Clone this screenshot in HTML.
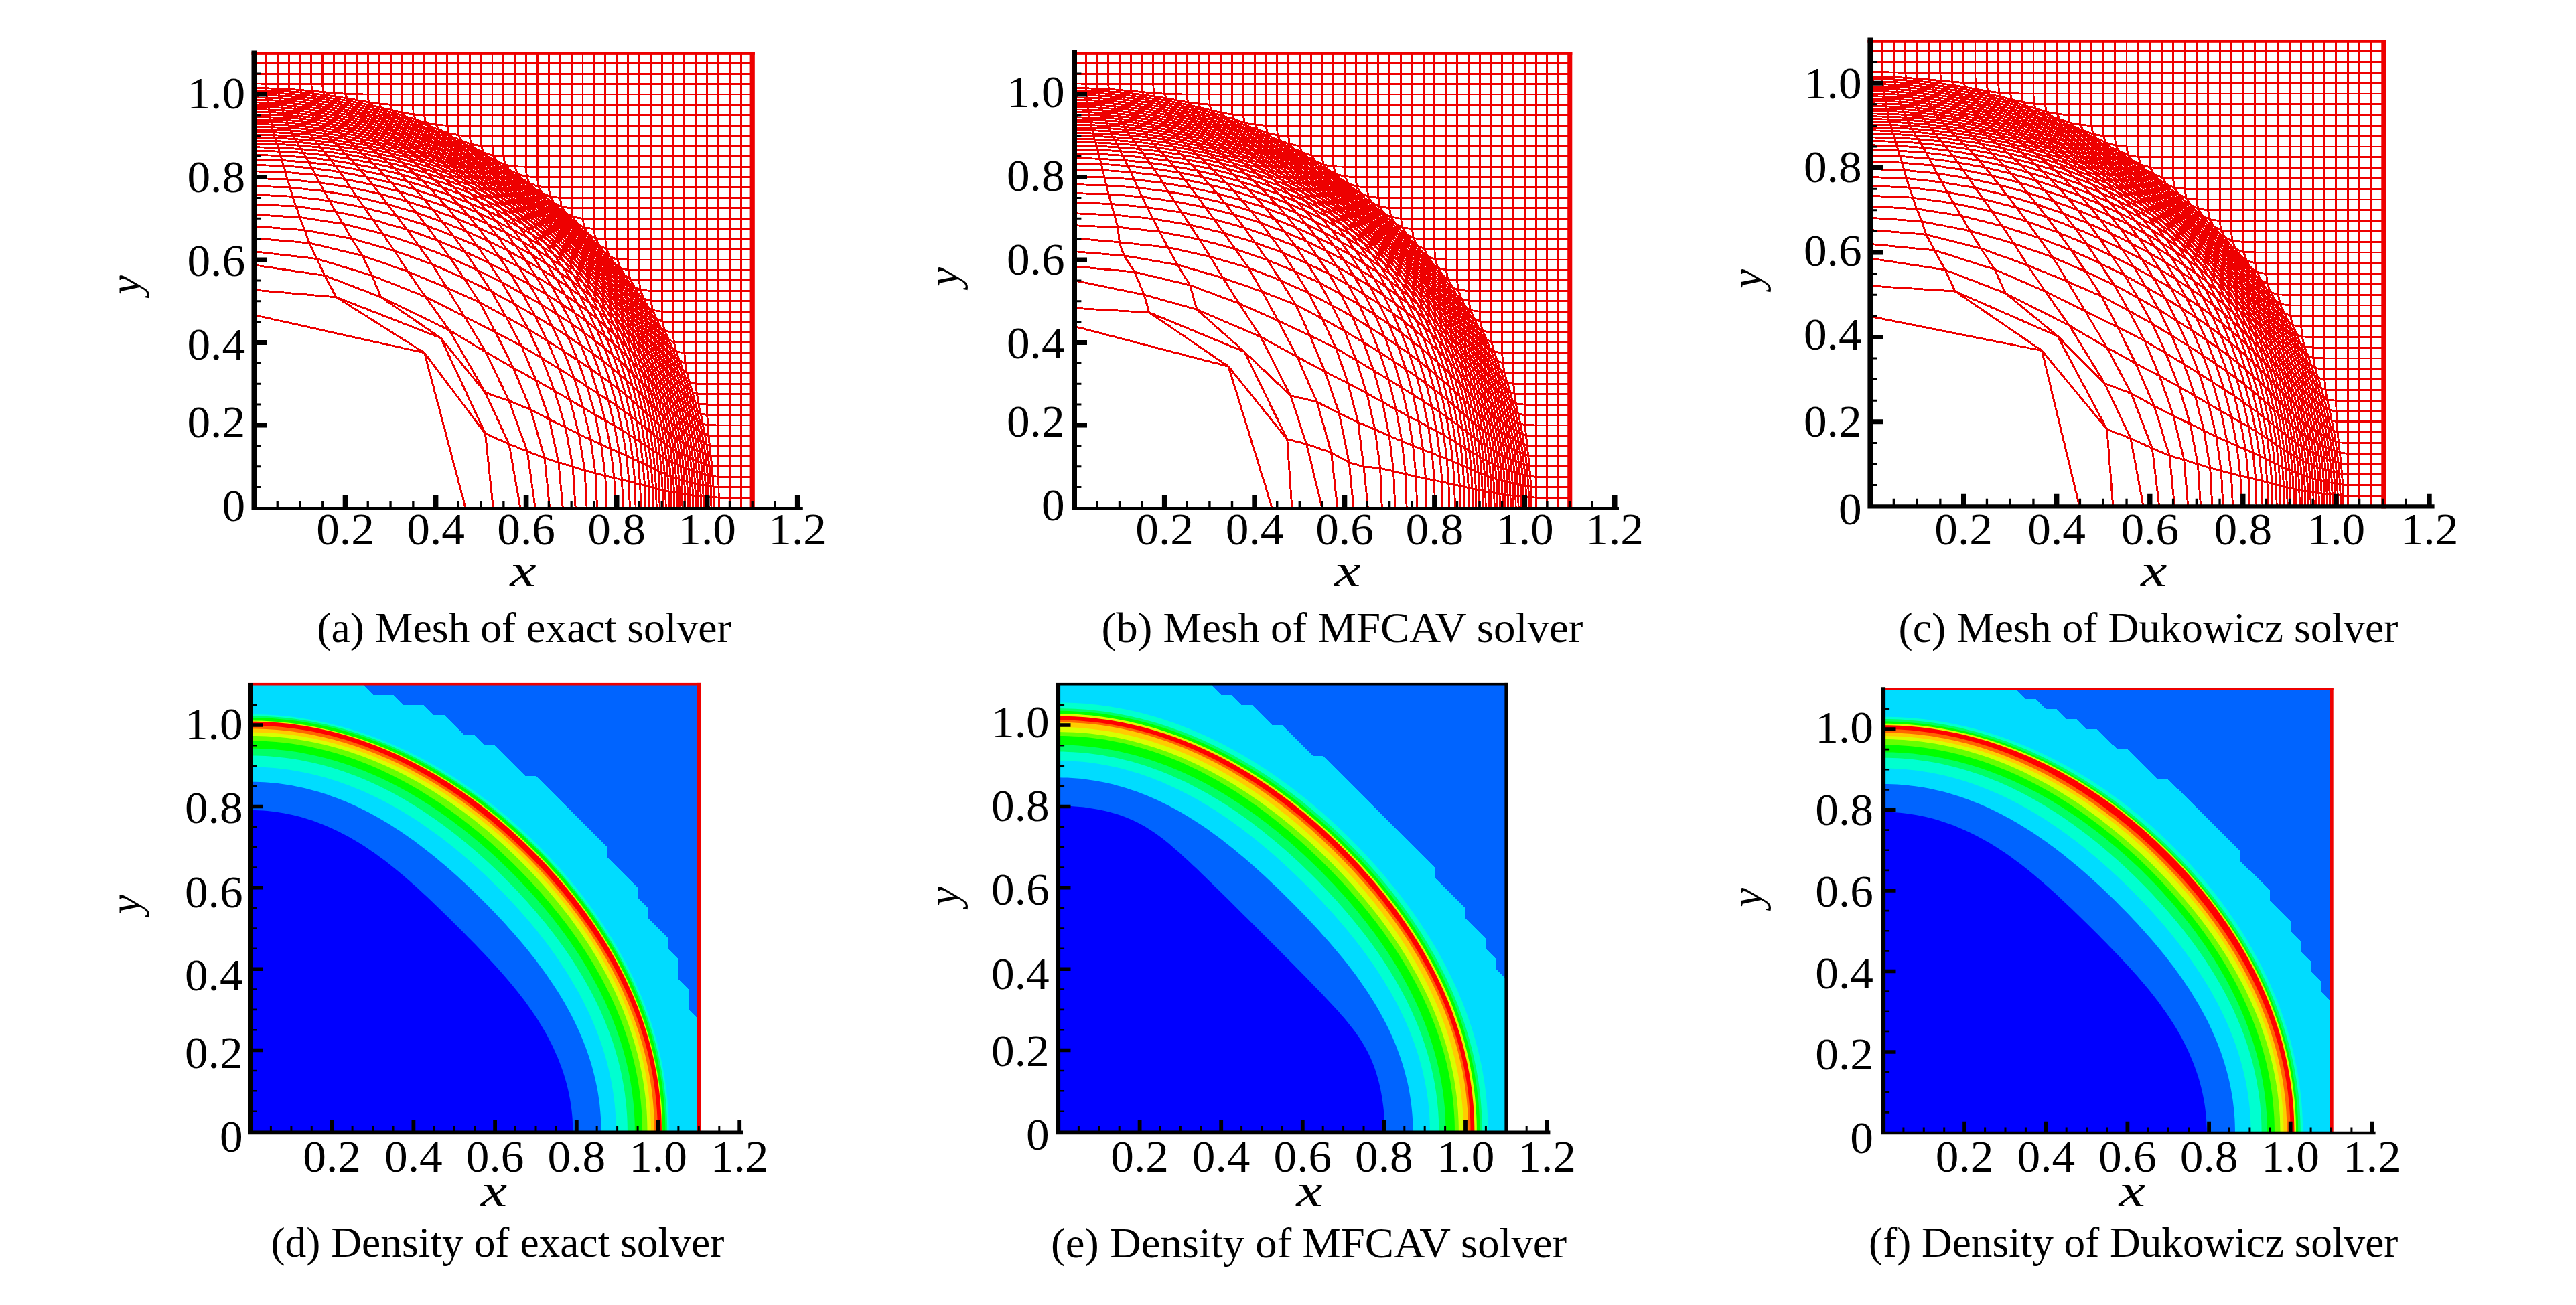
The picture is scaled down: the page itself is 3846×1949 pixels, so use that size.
<!DOCTYPE html>
<html lang="en"><head><meta charset="utf-8"><title>Sedov problem: meshes and density</title>
<style>html,body{margin:0;padding:0;background:#fff}body{width:3846px;height:1949px;overflow:hidden}svg{display:block}.t{font-family:"Liberation Serif","DejaVu Serif",serif;font-size:68.0px;fill:#000}.c{font-family:"Liberation Serif","DejaVu Serif",serif;font-size:64.0px;fill:#000}.i{font-family:"Liberation Serif","DejaVu Serif",serif;font-style:italic;font-size:64.6px;fill:#000}.ix{font-family:"Liberation Serif","DejaVu Serif",serif;font-style:italic;font-size:68.0px;fill:#000}</style></head><body>
<svg width="3846" height="1949" viewBox="0 0 3846 1949">
<rect width="3846" height="1949" fill="#fff"/>
<path d="M695 758.5L633.7 526.9L502 443.9L484.8 411.5L472.9 386.5L461.9 363L454.8 343.8L447.7 324.4L441.8 308.1L436.9 293.3L432.8 280L429.2 268L426.2 257.2L423.5 247.7L421 239.5L418.8 232.4L416.9 226.1L415.1 220.5L413.5 215.3L412 210.6L410.7 206.1L409.5 201.8L408.4 197.7L407.4 193.7L406.4 189.8L405.5 186L404.7 182.3L404 178.6L403.3 174.9L402.6 171.2L402 167.6L401.5 164L400.9 160.4L400.4 156.8L400 153.2L399.5 149.7L399.1 146.1L398.7 142.5L398.3 139L398 135.4L397.6 131.8L397.4 125.1L397.4 110.1L397.4 79.2M736.3 758.5L724.5 647.4L658 504.7L568.9 443.9L555.4 411.5L540.8 381.7L525 356.4L512.1 334.4L501.1 316.1L491.8 299.9L483.9 285.5L477.1 272.7L471.1 261.2L465.8 251.1L461.1 242.6L456.8 235.1L452.9 228.5L449.4 222.6L446.3 217.2L443.4 212.2L440.7 207.6L438.3 203.2L436.1 198.9L434.1 194.9L432.2 190.9L430.5 187L428.9 183.2L427.4 179.5L426 175.8L424.7 172.1L423.5 168.4L422.4 164.8L421.3 161.1L420.3 157.5L419.4 153.9L418.5 150.3L417.7 146.7L416.9 143.1L416.1 139.5L415.4 135.9L414.7 132.4L414.3 125.2L414.3 110.1L414.3 79.2M776.8 758.5L760 663.1L724.5 586.2L670.8 493L635.2 443.4L609.1 405.7L588.8 374.6L571.5 349.2L556.6 328.1L543.8 310L532.8 294L523.2 280L514.7 267.5L507.1 256.7L500.2 247.5L494 239.4L488.4 232.3L483.3 225.9L474.4 214.9L470.5 210L466.9 205.4L463.6 201L460.6 196.8L457.8 192.7L455.3 188.8L452.9 184.9L450.7 181L448.6 177.2L446.7 173.5L444.9 169.7L443.2 166L441.6 162.3L440.1 158.7L438.7 155L437.4 151.4L436.2 147.7L435 144.1L433.8 140.5L432.8 136.9L431.8 133.3L431.2 125.4L431.1 110.1L431.1 79.2M799.1 758.5L787.2 674L760 598.6L725.1 525.6L693.2 472.5L667.1 429.7L645 394.5L624.8 366.6L607.5 342.9L592.3 322.5L578.8 305L567 289.5L556.4 275.9L546.8 264.2L538.1 254L530.2 245.2L522.9 237.4L516.3 230.5L510.3 224.3L504.8 218.6L499.7 213.4L495 208.6L490.7 204L486.8 199.6L483.1 195.3L479.8 191.2L476.6 187.1L473.7 183.2L471 179.2L468.4 175.4L466.1 171.6L463.8 167.8L461.8 164L459.8 160.3L457.9 156.6L456.2 152.9L454.5 149.2L453 145.5L451.5 141.8L450.1 138.2L448.7 134.5L448 125.5L448 110.1L448 79.2M820.7 758.5L813 684L792.5 611.9L766.3 549.4L740 496.4L716.1 451.6L692.7 415.6L672 384.9L653.2 359.2L636.5 336.9L621.5 317.6L608 300.7L595.8 285.9L584.6 273.1L574.4 262L565 252.2L556.4 243.8L548.5 236.2L541.2 229.4L534.5 223.3L528.3 217.8L522.6 212.6L517.4 207.7L512.5 203L508.1 198.5L503.9 194.2L500 190L496.4 185.9L493.1 181.8L490 177.9L487 173.9L484.3 170L481.7 166.2L479.3 162.3L477 158.5L474.8 154.8L472.8 151L470.8 147.3L469 143.5L467.2 139.8L465.6 136L464.9 125.6L464.9 79.2M840.3 758.5L833.9 690.6L820.1 626.3L800.3 568L778.5 516.6L755.4 473L733.8 435.4L713 403.7L694.1 376L676.6 352.3L660.7 331.4L646.1 313.1L632.7 297.2L620.4 283.1L608.9 271.1L598.3 260.5L588.5 251.2L579.5 242.9L571.1 235.6L563.3 229L556.2 222.9L549.6 217.4L543.4 212.2L537.8 207.2L532.5 202.5L527.6 197.9L523.1 193.5L518.8 189.2L514.9 185L511.2 180.8L507.7 176.8L504.5 172.8L501.4 168.8L498.5 164.8L495.8 160.9L493.2 157.1L490.8 153.2L488.5 149.4L486.3 145.6L484.2 141.8L482.3 137.6L481.8 125.6L481.8 79.2M859.2 758.5L855.2 697L844.2 638.1L828 583.8L809 535L789 491.9L768.5 454.4L749.1 421.4L730.2 393L712.8 367.7L696.4 345.7L681.3 326.2L667.1 309.2L653.8 294.2L641.5 281L629.9 269.7L619.2 259.5L609.2 250.5L599.9 242.6L591.2 235.4L583.2 228.9L575.7 223L568.8 217.4L562.3 212.1L556.4 207L550.8 202.2L545.6 197.6L540.8 193.1L536.3 188.6L532 184.3L528.1 180.1L524.3 175.9L520.8 171.8L517.5 167.8L514.4 163.8L511.4 159.8L508.6 155.8L506 151.9L503.5 148L501.1 144.2L499 139.1L498.7 125.6L498.7 79.2M876.1 758.5L873 702.4L864.2 648.2L851.1 597.4L834.9 550.9L817.1 509.1L798.8 471.7L780.2 438.7L762.4 409.2L745.1 383.3L729 360.1L713.5 339.8L698.9 321.7L685.1 305.8L672.1 291.9L659.8 279.5L648.4 268.5L637.6 258.9L627.4 250.4L618 242.7L609.2 235.7L601 229.2L593.3 223.2L586.2 217.6L579.6 212.2L573.4 207.1L567.7 202.2L562.3 197.4L557.2 192.8L552.5 188.3L548 183.9L543.9 179.6L539.9 175.3L536.2 171.1L532.7 167L529.4 162.9L526.2 158.8L523.2 154.8L520.4 150.8L517.7 146.8L515.7 140.2L515.5 125.6L515.5 79.2M891.6 758.5L889.1 706.9L881.9 656.7L870.9 609.1L857.2 564.8L841.5 524.4L824.7 487.7L807.8 454.6L790.7 425L774.4 398.3L758.2 374.7L743 353.3L728.1 334.6L714.1 317.8L700.6 303.1L687.9 289.9L675.9 278.3L664.4 268L653.7 258.9L643.6 250.6L634.1 243.1L625.3 236.2L617 229.7L609.3 223.7L602.1 218L595.4 212.6L589.1 207.3L583.2 202.3L577.7 197.5L572.5 192.7L567.6 188.1L563 183.6L558.7 179.2L554.6 174.8L550.7 170.5L547 166.3L543.5 162.1L540.2 158L537.1 153.9L534.1 149.8L532.4 140.9L532.4 125.6L532.4 79.2M905.8 758.5L903.7 710.7L897.7 664L888.4 619.2L876.4 577.1L862.6 538.1L847.5 502.2L831.8 469.6L816.1 439.8L800.2 413L784.9 388.7L769.6 367.1L755 347.5L740.7 330.2L727.2 314.6L714.2 300.8L701.7 288.6L689.8 277.7L678.5 267.9L667.9 259.1L657.9 251.1L648.6 243.7L631.6 230.3L623.9 224.3L616.7 218.5L609.9 213L603.6 207.7L597.6 202.5L592 197.6L586.7 192.8L581.7 188L577 183.4L572.5 178.9L568.3 174.5L564.3 170.1L560.5 165.8L556.9 161.5L553.5 157.3L550.3 152.8L549.3 141L549.3 79.2M918.6 758.5L916.9 713.9L911.7 670.2L903.7 628L893.3 588L881.1 550.4L867.5 515.6L853.2 483.4L838.3 454L823.5 427L808.5 402.7L794 380.4L779.3 360.6L765.3 342.6L751.7 326.4L738.5 312.1L725.7 299.3L713.5 287.8L701.9 277.5L690.9 268.1L680.6 259.6L670.8 251.7L661.6 244.3L653 237.5L644.9 231L637.2 224.9L630.1 219L623.3 213.4L617 208L611 202.8L605.3 197.8L600 192.8L594.9 188L590.1 183.3L585.6 178.7L581.3 174.2L577.2 169.7L573.3 165.3L569.6 161L566.6 155L566.2 141L566.2 79.2M930.1 758.5L928.6 716.7L924.3 675.6L917.4 635.8L908.2 597.6L897.3 561.6L884.9 527.8L871.8 496.4L858.1 467.3L844 440.6L830 416L815.6 393.8L801.6 373.4L787.8 355L774.2 338.4L760.9 323.6L748 310.3L735.7 298.3L723.9 287.4L712.6 277.5L702 268.5L691.9 260.1L682.4 252.3L673.4 245L665 238.1L657 231.7L649.5 225.5L642.4 219.6L635.7 213.9L629.4 208.4L623.4 203.1L617.8 198L612.4 193L607.3 188.1L602.5 183.3L597.9 178.6L593.6 174L589.4 169.4L585.5 164.9L583.1 156.2L583.1 141L583.1 79.2M940.4 758.5L939.1 719.2L935.3 680.4L929.1 642.7L921 606.4L911.2 571.8L900.3 539.1L888.1 508.5L875.5 479.9L862.3 453.4L848.8 429.1L835.3 406.6L821.7 386L808.2 367.4L794.7 350.5L781.5 335.3L768.7 321.5L756.3 309L744.4 297.6L733.1 287.2L722.3 277.7L712 268.8L702.2 260.6L693 252.9L676 238.8L668.2 232.3L660.8 226L653.8 220.1L647.2 214.3L641 208.8L635 203.4L629.4 198.2L624 193.1L619 188.1L614.1 183.3L609.5 178.5L605.1 173.8L601.1 168.7L599.9 156.4L599.9 79.2M949.1 758.5L948 721.4L944.7 684.8L939.3 649L932.1 614.4L923.4 581.2L913.4 549.6L902.6 519.8L890.7 491.9L878.4 465.8L865.9 441.4L853 419L839.8 398.4L826.6 379.7L813.4 362.6L800.5 347L787.8 332.8L775.5 319.8L763.6 308L752.2 297.1L741.3 287.1L730.9 277.8L721 269.1L711.6 261L702.7 253.4L694.2 246.2L686.2 239.3L678.6 232.8L671.3 226.5L664.5 220.5L658 214.7L651.8 209.1L645.9 203.7L640.3 198.4L635 193.2L629.9 188.2L625.1 183.2L620.5 178.4L617.1 171.1L616.8 156.4L616.8 79.2M956.7 758.5L955.7 723.4L952.8 688.7L948.1 654.7L941.8 621.6L934.1 589.7L925 559.3L915 530.4L904.3 503L892.9 477.3L881 453.4L868.6 431.1L856 410.6L843.2 391.7L830.5 374.4L817.8 358.5L805.4 344L793.3 330.7L781.5 318.4L770.2 307.1L759.3 296.6L748.8 286.9L738.8 277.8L729.3 269.3L720.3 261.4L711.6 253.8L703.4 246.6L695.6 239.8L688.2 233.2L681.1 227L674.4 220.9L668 215.1L661.9 209.4L656.1 203.9L650.6 198.6L645.3 193.3L640.3 188.2L635.6 183.1L633.7 171.9L633.7 79.2M963.5 758.5L962.6 725.2L960 692.2L955.9 659.8L950.2 628.2L943.3 597.7L935.2 568.3L926.2 540.2L916.3 513.5L905.6 488.4L894.4 464.8L882.6 442.8L870.6 422.4L858.3 403.5L846 386L833.7 369.9L821.6 355.1L809.7 341.4L798.2 328.8L786.9 317.1L776.1 306.2L765.7 296.1L755.7 286.7L746.1 277.8L737 269.5L728.2 261.6L719.9 254.1L712 247L704.4 240.1L697.2 233.6L690.3 227.3L683.7 221.2L677.5 215.3L671.5 209.6L665.8 204.1L660.3 198.7L655.1 193.4L651.1 186.2L650.6 171.9L650.6 79.2M969.5 758.5L968.8 726.9L966.5 695.4L962.8 664.5L957.8 634.3L951.6 604.9L944.3 576.5L936 549.3L926.8 523.4L916.8 498.8L906.2 475.7L895.2 453.9L883.7 433.7L872 414.8L860.1 397.3L848.3 381L836.6 365.9L825 352L813.7 339.1L802.6 327L791.9 315.8L781.6 305.4L771.6 295.6L762.1 286.4L752.9 277.7L744.1 269.5L735.7 261.7L720 247.2L712.6 240.4L705.6 233.8L698.9 227.5L692.5 221.4L686.3 215.5L680.5 209.8L674.9 204.2L669.6 198.6L667.5 187.3L667.5 79.2M975.1 758.5L974.4 728.3L972.4 698.4L969.1 668.8L964.6 639.8L959 611.5L952.3 584.2L944.6 557.9L936.1 532.7L926.8 508.7L916.9 486L906.4 464.6L895.6 444.5L884.4 425.7L873.1 408.1L861.7 391.8L850.4 376.5L839.1 362.4L828.1 349.2L817.3 336.8L806.8 325.3L796.6 314.6L786.7 304.5L777.2 294.9L768 286L759.2 277.5L750.8 269.4L742.7 261.7L734.9 254.3L727.5 247.3L720.3 240.5L713.5 234L707 227.7L700.7 221.6L694.8 215.6L689 209.9L684.8 201.9L684.3 187.3L684.3 79.2M980.2 758.5L979.6 729.7L977.8 701L974.9 672.7L970.8 644.8L965.7 617.7L959.5 591.3L952.4 565.8L944.5 541.3L935.9 517.9L926.5 495.7L916.7 474.6L906.4 454.7L895.8 436.1L885 418.5L874.1 402.1L863.2 386.8L852.3 372.4L841.6 359L831 346.5L820.7 334.7L810.7 323.7L800.9 313.3L791.5 303.5L782.4 294.2L773.6 285.4L765.2 277.1L757 269.1L749.2 261.5L741.7 254.3L734.5 247.3L727.6 240.5L721 234L714.7 227.7L708.6 221.6L703 215.2L701.2 202.7L701.2 79.2M985.1 758.5L984.6 730.9L982.9 703.4L980.2 676.2L976.5 649.5L971.8 623.3L966.1 597.8L959.5 573.2L952.2 549.4L944.1 526.6L935.3 504.8L926.1 484.1L916.3 464.5L906.3 446L896 428.5L885.5 412.1L875 396.7L864.5 382.2L854.1 368.7L843.9 355.9L833.8 343.9L824 332.6L814.4 322L805.1 312L796.1 302.4L787.3 293.4L778.9 284.8L770.8 276.6L763 268.8L755.4 261.3L748.2 254.1L741.2 247.1L734.6 240.4L728.1 233.9L721.9 227.6L718.3 217.9L718.1 202.7L718.1 79.2M989.7 758.5L989.2 732L987.7 705.6L985.3 679.5L981.8 653.8L977.4 628.5L972.2 603.9L966.1 580L959.2 556.9L951.6 534.6L943.4 513.3L934.7 493L925.5 473.7L916 455.4L906.1 438L896.2 421.7L886.1 406.2L876 391.7L865.9 378L856 365.1L846.1 352.9L836.5 341.4L827.1 330.6L818 320.3L809 310.6L800.4 301.3L792 292.5L784 284.1L776.1 276.1L768.6 268.3L754.4 253.8L747.6 246.9L741.1 240.2L735.9 232.2L735 218.2L735 79.2M994.2 758.5L993.7 733L992.3 707.6L990 682.5L986.9 657.7L982.8 633.3L977.9 609.5L972.2 586.3L965.8 563.9L958.7 542.2L951 521.4L942.7 501.4L934 482.4L925 464.3L915.6 447.1L906.1 430.8L896.4 415.4L886.7 400.8L877 387L867.3 374L857.8 361.7L848.4 350L839.2 339L830.2 328.6L821.4 318.6L812.9 309.2L804.6 300.1L796.5 291.5L788.8 283.3L781.3 275.4L774 267.8L760.2 253.4L754 246.1L751.9 233.6L751.9 79.2M998.5 758.5L998.1 733.9L996.8 709.5L994.7 685.2L991.7 661.3L987.9 637.7L983.3 614.7L978 592.2L972 570.4L965.3 549.2L958 528.9L950.2 509.3L942 490.6L933.4 472.7L924.5 455.7L915.4 439.5L906.1 424.1L896.7 409.5L887.4 395.7L878 382.6L868.8 370.2L859.6 358.4L850.6 347.3L841.8 336.6L833.2 326.5L824.7 316.9L816.6 307.7L808.6 298.9L800.9 290.5L793.4 282.4L786.2 274.6L772.4 259.9L768.9 248.9L768.7 233.6L768.7 79.2M1002.7 758.5L1002.3 734.8L1001.1 711.2L999.1 687.8L996.3 664.6L992.8 641.8L988.5 619.5L983.5 597.7L977.8 576.4L971.5 555.8L964.7 535.9L957.3 516.7L949.5 498.3L941.3 480.7L932.8 463.8L924.1 447.8L915.2 432.5L906.2 417.9L897.2 404.1L888.2 391L879.2 378.5L870.3 366.6L861.5 355.3L852.8 344.5L844.4 334.3L836.1 324.5L828 315.1L820.2 306.2L812.5 297.6L805.1 289.3L797.9 281.4L790.9 273.7L786.2 263.8L785.6 249.1L785.6 79.2M1006.9 758.5L1006.5 735.6L1005.4 712.8L1003.5 690.1L1000.9 667.7L997.5 645.6L993.5 624L988.8 602.7L983.4 582.1L977.5 562L971 542.5L964 523.7L956.6 505.6L948.8 488.2L940.7 471.6L932.4 455.7L923.8 440.5L915.2 426L906.5 412.1L897.8 399L889 386.4L880.4 374.5L871.8 363.1L863.4 352.2L855.1 341.8L846.9 331.9L839 322.4L831.2 313.3L823.7 304.6L816.3 296.2L809.1 288.1L803.6 278.7L802.5 264.5L802.5 79.2M1010.9 758.5L1010.6 736.3L1009.5 714.2L1007.7 692.3L1005.3 670.6L1002.1 649.2L998.3 628.1L993.8 607.5L988.8 587.3L983.2 567.7L977 548.7L970.4 530.3L963.3 512.5L955.9 495.4L948.2 478.9L940.2 463.2L932 448.1L923.7 433.7L915.3 419.9L906.9 406.7L898.4 394.1L890 382.1L881.7 370.7L873.4 359.7L865.3 349.2L857.3 339.2L849.5 329.6L841.8 320.3L834.4 311.5L827.1 303L821 293.7L819.4 279.9L819.4 79.2M1015 758.5L1014.6 737L1013.6 715.6L1011.9 694.3L1009.6 673.3L1006.6 652.5L1003 632L998.8 611.9L994 592.3L988.6 573.1L982.8 554.5L976.5 536.4L969.8 519L962.7 502.1L955.3 485.9L947.7 470.3L939.8 455.4L931.8 441L923.7 427.3L915.6 414.1L907.4 401.6L899.2 389.5L891.1 378L883.1 367L875.1 356.4L867.3 346.3L859.6 336.6L852.1 327.2L844.7 318.3L838.3 308.8L836.3 295.4L836.3 79.2M1019 758.5L1018.7 737.7L1017.7 716.9L1016.1 696.2L1013.9 675.7L1011 655.5L1007.6 635.6L1003.6 616L999 596.9L994 578.2L988.4 559.9L982.4 542.2L976 525.1L969.2 508.5L962.2 492.5L954.8 477.1L947.3 462.3L939.6 448.1L931.8 434.4L923.9 421.3L916 408.7L908 396.7L900.1 385.1L892.3 374L884.5 363.4L876.8 353.2L869.3 343.4L861.9 334L855.3 324.2L853.1 310.8L853.1 79.2M1022.9 758.5L1022.6 738.2L1021.7 718.1L1020.2 698L1018.1 678.1L1015.4 658.4L1012.1 639L1008.3 619.9L1004 601.2L999.1 582.9L993.8 565.1L988.1 547.7L982 530.9L975.5 514.6L968.7 498.8L961.7 483.6L954.5 468.9L947 454.8L939.5 441.2L931.9 428.1L924.2 415.6L916.5 403.6L908.8 392L901.1 380.9L893.5 370.2L886 360L878.6 350.1L872.2 339.9L870 326.3L870 79.2M1026.9 758.5L1026.6 738.8L1025.7 719.2L1024.3 699.6L1022.3 680.2L1019.7 661.1L1016.6 642.2L1012.9 623.5L1008.8 605.3L1004.2 587.4L999.1 569.9L993.6 552.9L987.8 536.4L981.6 520.3L975.1 504.7L968.3 489.7L961.3 475.2L954.2 461.2L946.9 447.7L939.5 434.7L932.1 422.2L924.6 410.2L917.1 398.6L909.6 387.5L902.2 376.8L894.9 366.5L888.7 355.7L886.9 341.7L886.9 79.2M1030.8 758.5L1030.6 739.3L1029.7 720.2L1028.3 701.2L1026.4 682.3L1024 663.6L1021 645.1L1017.5 627L1013.5 609.1L1009.1 591.6L1004.3 574.5L999 557.8L993.4 541.5L987.4 525.7L981.2 510.4L974.7 495.6L968 481.2L961.1 467.3L954 453.9L946.9 441L939.7 428.6L932.4 416.6L925.1 405L917.8 393.9L910.6 383.2L905.1 371.6L903.8 357.1L903.8 79.2M1034.8 758.5L1034.5 739.8L1033.7 721.2L1032.4 702.6L1030.5 684.2L1028.2 665.9L1025.3 647.9L1022 630.2L1018.2 612.7L1014 595.6L1009.3 578.8L1004.3 562.4L998.9 546.4L993.2 530.9L987.2 515.8L980.9 501.1L974.4 486.9L967.7 473.2L960.9 459.9L954 447.1L947 434.7L939.9 422.8L932.8 411.2L925.7 400.1L921.4 387.5L920.7 372.6L920.7 79.2M1038.7 758.5L1038.4 740.3L1037.6 722.1L1036.4 704L1034.6 686L1032.4 668.2L1029.6 650.6L1026.4 633.2L1022.8 616.1L1018.7 599.3L1014.3 582.9L1009.4 566.8L1004.2 551.1L998.7 535.8L992.9 520.9L986.9 506.4L980.7 492.4L974.2 478.8L967.6 465.6L960.9 452.9L954.1 440.6L947.2 428.7L940.8 416.9L937.7 403.3L937.5 388L937.5 79.2M1042.6 758.5L1042.3 740.7L1041.6 722.9L1040.4 705.3L1038.7 687.7L1036.5 670.3L1033.9 653L1030.8 636.1L1027.3 619.3L1023.4 602.9L1019.1 586.7L1014.5 570.9L1009.5 555.5L1004.2 540.4L998.6 525.7L992.8 511.5L986.7 497.6L980.5 484.1L974.1 471.1L967.6 458.5L961 446.2L956 433.4L954.4 418.9L954.4 79.2M1046.5 758.5L1046.2 741.1L1045.5 723.7L1044.4 706.5L1042.7 689.3L1040.6 672.3L1038.1 655.4L1035.2 638.8L1031.8 622.4L1028 606.2L1023.9 590.4L1019.4 574.9L1014.6 559.7L1009.5 544.8L1004.1 530.4L998.5 516.3L992.6 502.6L986.6 489.3L980.4 476.3L974.6 463.5L971.6 449.6L971.3 434.3L971.3 79.2M1050.4 758.5L1050.1 741.5L1049.5 724.5L1048.3 707.6L1046.8 690.8L1044.8 674.1L1042.3 657.6L1039.5 641.3L1036.2 625.2L1032.6 609.4L1028.6 593.8L1024.3 578.6L1019.7 563.7L1014.7 549L1009.5 534.8L1004.1 520.9L998.4 507.3L992.7 494.1L989.1 480.2L988.2 465.2L988.2 79.2M1054.3 758.5L1054 741.9L1053.4 725.2L1052.3 708.7L1050.8 692.2L1048.9 675.9L1046.5 659.7L1043.8 643.7L1040.6 628L1037.1 612.4L1033.3 597.1L1029.1 582.1L1024.6 567.4L1019.8 553.1L1014.8 539L1009.7 525.2L1006.3 511L1005.1 496.1L1005.1 79.2M1058.1 758.5L1057.9 742.2L1057.3 725.9L1056.3 709.7L1054.8 693.6L1052.9 677.6L1050.7 661.7L1048 646L1045 630.6L1041.6 615.3L1037.9 600.3L1033.9 585.5L1029.5 571.1L1025.4 556.7L1022.8 542.1L1021.9 526.9L1021.9 79.2M1062 758.5L1061.8 742.5L1061.2 726.6L1060.2 710.7L1058.8 694.9L1057 679.2L1054.8 663.6L1052.2 648.2L1049.3 633L1046.1 618L1042.8 603.2L1040.4 588.3L1039 573.2L1038.8 557.8L1038.8 79.2M1065.9 758.5L1065.7 742.8L1065.1 727.2L1064.2 711.6L1062.8 696.1L1061.1 680.7L1059.4 665.4L1057.8 650.1L1056.5 634.8L1055.8 619.5L1055.7 604.1L1055.7 79.2M1073.2 758.5L1073.1 743.1L1073 727.6L1072.8 712.2L1072.6 696.7L1072.6 681.3L1072.6 79.2M1089.5 758.5L1089.5 79.2M1106.3 758.5L1106.3 79.2M380.5 470.8L633.7 526.9L724.5 647.4L760 663.1L787.2 674L813 684L833.9 690.6L855.2 697L873 702.4L889.1 706.9L903.7 710.7L916.9 713.9L928.6 716.7L939.1 719.2L948 721.4L955.7 723.4L962.6 725.2L968.8 726.9L974.4 728.3L979.6 729.7L984.6 730.9L989.2 732L993.7 733L998.1 733.9L1002.3 734.8L1006.5 735.6L1010.6 736.3L1014.6 737L1018.7 737.7L1022.6 738.2L1026.6 738.8L1030.6 739.3L1034.5 739.8L1038.4 740.3L1042.3 740.7L1046.2 741.1L1050.1 741.5L1054 741.9L1057.9 742.2L1061.8 742.5L1065.7 742.8L1073.1 743.1L1089.5 743.1L1123.2 743.1M380.5 433.1L502 443.9L658 504.7L724.5 586.2L760 598.6L792.5 611.9L820.1 626.3L844.2 638.1L864.2 648.2L881.9 656.7L897.7 664L911.7 670.2L924.3 675.6L935.3 680.4L944.7 684.8L952.8 688.7L960 692.2L966.5 695.4L972.4 698.4L977.8 701L982.9 703.4L987.7 705.6L992.3 707.6L996.8 709.5L1001.1 711.2L1005.4 712.8L1009.5 714.2L1013.6 715.6L1017.7 716.9L1021.7 718.1L1025.7 719.2L1029.7 720.2L1033.7 721.2L1037.6 722.1L1041.6 722.9L1045.5 723.7L1049.5 724.5L1053.4 725.2L1057.3 725.9L1061.2 726.6L1065.1 727.2L1073 727.6L1089.5 727.6L1123.2 727.6M380.5 396L484.8 411.5L568.9 443.9L670.8 493L725.1 525.6L766.3 549.4L800.3 568L828 583.8L851.1 597.4L870.9 609.1L888.4 619.2L903.7 628L917.4 635.8L929.1 642.7L939.3 649L948.1 654.7L955.9 659.8L962.8 664.5L974.9 672.7L980.2 676.2L985.3 679.5L990 682.5L994.7 685.2L999.1 687.8L1003.5 690.1L1007.7 692.3L1011.9 694.3L1016.1 696.2L1020.2 698L1024.3 699.6L1028.3 701.2L1032.4 702.6L1036.4 704L1040.4 705.3L1044.4 706.5L1048.3 707.6L1052.3 708.7L1056.3 709.7L1060.2 710.7L1064.2 711.6L1072.8 712.2L1089.5 712.2L1123.2 712.2M380.5 375.7L472.9 386.5L555.4 411.5L635.2 443.4L693.2 472.5L740 496.4L778.5 516.6L809 535L834.9 550.9L857.2 564.8L876.4 577.1L893.3 588L908.2 597.6L921 606.4L932.1 614.4L941.8 621.6L950.2 628.2L957.8 634.3L964.6 639.8L970.8 644.8L976.5 649.5L981.8 653.8L986.9 657.7L991.7 661.3L996.3 664.6L1000.9 667.7L1005.3 670.6L1009.6 673.3L1013.9 675.7L1018.1 678.1L1022.3 680.2L1026.4 682.3L1030.5 684.2L1034.6 686L1038.7 687.7L1042.7 689.3L1046.8 690.8L1050.8 692.2L1054.8 693.6L1058.8 694.9L1062.8 696.1L1072.6 696.7L1089.5 696.8L1123.2 696.8M380.5 355.9L461.9 363L540.8 381.7L609.1 405.7L667.1 429.7L716.1 451.6L755.4 473L789 491.9L817.1 509.1L841.5 524.4L862.6 538.1L881.1 550.4L897.3 561.6L911.2 571.8L923.4 581.2L934.1 589.7L943.3 597.7L951.6 604.9L959 611.5L965.7 617.7L971.8 623.3L977.4 628.5L982.8 633.3L987.9 637.7L992.8 641.8L997.5 645.6L1002.1 649.2L1006.6 652.5L1011 655.5L1015.4 658.4L1019.7 661.1L1024 663.6L1028.2 665.9L1032.4 668.2L1036.5 670.3L1040.6 672.3L1044.8 674.1L1048.9 675.9L1052.9 677.6L1057 679.2L1061.1 680.7L1072.6 681.3L1123.2 681.3M380.5 338L454.8 343.8L525 356.4L588.8 374.6L645 394.5L692.7 415.6L733.8 435.4L768.5 454.4L798.8 471.7L824.7 487.7L847.5 502.2L867.5 515.6L884.9 527.8L900.3 539.1L913.4 549.6L925 559.3L935.2 568.3L944.3 576.5L952.3 584.2L959.5 591.3L966.1 597.8L972.2 603.9L977.9 609.5L983.3 614.7L988.5 619.5L993.5 624L998.3 628.1L1003 632L1007.6 635.6L1012.1 639L1016.6 642.2L1021 645.1L1025.3 647.9L1029.6 650.6L1033.9 653L1038.1 655.4L1042.3 657.6L1046.5 659.7L1050.7 661.7L1054.8 663.6L1059.4 665.4L1072.6 665.9L1123.2 665.9M380.5 320.7L447.7 324.4L512.1 334.4L571.5 349.2L624.8 366.6L672 384.9L713 403.7L749.1 421.4L780.2 438.7L807.8 454.6L831.8 469.6L853.2 483.4L871.8 496.4L888.1 508.5L902.6 519.8L915 530.4L926.2 540.2L936 549.3L944.6 557.9L952.4 565.8L959.5 573.2L966.1 580L972.2 586.3L978 592.2L983.5 597.7L988.8 602.7L993.8 607.5L998.8 611.9L1003.6 616L1008.3 619.9L1012.9 623.5L1017.5 627L1022 630.2L1026.4 633.2L1030.8 636.1L1035.2 638.8L1039.5 641.3L1043.8 643.7L1048 646L1052.2 648.2L1057.8 650.1L1072.6 650.4L1123.2 650.4M380.5 305.3L441.8 308.1L501.1 316.1L556.6 328.1L607.5 342.9L653.2 359.2L694.1 376L730.2 393L762.4 409.2L790.7 425L816.1 439.8L838.3 454L858.1 467.3L875.5 479.9L890.7 491.9L904.3 503L916.3 513.5L926.8 523.4L936.1 532.7L944.5 541.3L952.2 549.4L959.2 556.9L965.8 563.9L972 570.4L977.8 576.4L983.4 582.1L988.8 587.3L994 592.3L999 596.9L1004 601.2L1008.8 605.3L1013.5 609.1L1018.2 612.7L1022.8 616.1L1027.3 619.3L1031.8 622.4L1036.2 625.2L1040.6 628L1045 630.6L1049.3 633L1056.5 634.8L1072.6 635L1123.2 635M380.5 291.1L436.9 293.3L491.8 299.9L543.8 310L592.3 322.5L636.5 336.9L676.6 352.3L712.8 367.7L745.1 383.3L774.4 398.3L800.2 413L823.5 427L844 440.6L862.3 453.4L878.4 465.8L892.9 477.3L905.6 488.4L916.8 498.8L926.8 508.7L935.9 517.9L944.1 526.6L951.6 534.6L958.7 542.2L965.3 549.2L971.5 555.8L977.5 562L983.2 567.7L988.6 573.1L994 578.2L999.1 582.9L1004.2 587.4L1009.1 591.6L1014 595.6L1018.7 599.3L1023.4 602.9L1028 606.2L1032.6 609.4L1037.1 612.4L1041.6 615.3L1046.1 618L1055.8 619.5L1072.6 619.6L1123.2 619.6M380.5 278.1L432.8 280L483.9 285.5L532.8 294L578.8 305L621.5 317.6L660.7 331.4L696.4 345.7L729 360.1L758.2 374.7L784.9 388.7L808.5 402.7L830 416L848.8 429.1L865.9 441.4L881 453.4L894.4 464.8L906.2 475.7L916.9 486L926.5 495.7L935.3 504.8L943.4 513.3L958 528.9L964.7 535.9L971 542.5L977 548.7L982.8 554.5L988.4 559.9L993.8 565.1L999.1 569.9L1004.3 574.5L1009.3 578.8L1014.3 582.9L1019.1 586.7L1023.9 590.4L1028.6 593.8L1033.3 597.1L1037.9 600.3L1042.8 603.2L1055.7 604.1L1123.2 604.1M380.5 266.4L429.2 268L477.1 272.7L523.2 280L567 289.5L608 300.7L646.1 313.1L681.3 326.2L713.5 339.8L743 353.3L769.6 367.1L794 380.4L815.6 393.8L835.3 406.6L853 419L868.6 431.1L882.6 442.8L895.2 453.9L906.4 464.6L916.7 474.6L926.1 484.1L934.7 493L942.7 501.4L950.2 509.3L957.3 516.7L964 523.7L970.4 530.3L976.5 536.4L982.4 542.2L988.1 547.7L993.6 552.9L999 557.8L1004.3 562.4L1009.4 566.8L1014.5 570.9L1019.4 574.9L1024.3 578.6L1029.1 582.1L1033.9 585.5L1040.4 588.3L1055.7 588.7L1123.2 588.7M380.5 255.9L426.2 257.2L471.1 261.2L514.7 267.5L556.4 275.9L595.8 285.9L632.7 297.2L667.1 309.2L698.9 321.7L728.1 334.6L755 347.5L779.3 360.6L801.6 373.4L821.7 386L839.8 398.4L856 410.6L870.6 422.4L883.7 433.7L895.6 444.5L906.4 454.7L916.3 464.5L925.5 473.7L934 482.4L942 490.6L949.5 498.3L956.6 505.6L963.3 512.5L969.8 519L976 525.1L982 530.9L987.8 536.4L993.4 541.5L998.9 546.4L1004.2 551.1L1009.5 555.5L1014.6 559.7L1019.7 563.7L1024.6 567.4L1029.5 571.1L1039 573.2L1055.7 573.3L1123.2 573.2M380.5 246.5L423.5 247.7L465.8 251.1L507.1 256.7L546.8 264.2L584.6 273.1L620.4 283.1L653.8 294.2L685.1 305.8L714.1 317.8L740.7 330.2L765.3 342.6L787.8 355L808.2 367.4L826.6 379.7L843.2 391.7L858.3 403.5L872 414.8L884.4 425.7L895.8 436.1L906.3 446L916 455.4L925 464.3L933.4 472.7L948.8 488.2L955.9 495.4L962.7 502.1L969.2 508.5L975.5 514.6L981.6 520.3L987.4 525.7L993.2 530.9L998.7 535.8L1004.2 540.4L1009.5 544.8L1014.7 549L1019.8 553.1L1025.4 556.7L1038.8 557.8L1123.2 557.8M380.5 238.5L421 239.5L461.1 242.6L500.2 247.5L538.1 254L574.4 262L608.9 271.1L641.5 281L672.1 291.9L700.6 303.1L727.2 314.6L751.7 326.4L774.2 338.4L794.7 350.5L813.4 362.6L830.5 374.4L846 386L860.1 397.3L873.1 408.1L885 418.5L896 428.5L906.1 438L915.6 447.1L924.5 455.7L932.8 463.8L940.7 471.6L948.2 478.9L955.3 485.9L962.2 492.5L968.7 498.8L975.1 504.7L981.2 510.4L987.2 515.8L992.9 520.9L998.6 525.7L1004.1 530.4L1009.5 534.8L1014.8 539L1022.8 542.1L1038.8 542.4L1123.2 542.4M380.5 231.5L418.8 232.4L456.8 235.1L494 239.4L530.2 245.2L565 252.2L598.3 260.5L629.9 269.7L659.8 279.5L687.9 289.9L714.2 300.8L738.5 312.1L760.9 323.6L781.5 335.3L800.5 347L817.8 358.5L833.7 369.9L848.3 381L861.7 391.8L874.1 402.1L885.5 412.1L896.2 421.7L906.1 430.8L915.4 439.5L924.1 447.8L932.4 455.7L940.2 463.2L947.7 470.3L954.8 477.1L961.7 483.6L968.3 489.7L974.7 495.6L980.9 501.1L986.9 506.4L992.8 511.5L998.5 516.3L1004.1 520.9L1009.7 525.2L1021.9 526.9L1123.2 526.9M380.5 225.4L416.9 226.1L452.9 228.5L488.4 232.3L522.9 237.4L556.4 243.8L588.5 251.2L619.2 259.5L648.4 268.5L675.9 278.3L701.7 288.6L725.7 299.3L748 310.3L768.7 321.5L787.8 332.8L805.4 344L821.6 355.1L836.6 365.9L850.4 376.5L863.2 386.8L875 396.7L886.1 406.2L896.4 415.4L906.1 424.1L915.2 432.5L923.8 440.5L932 448.1L939.8 455.4L947.3 462.3L954.5 468.9L961.3 475.2L968 481.2L974.4 486.9L980.7 492.4L986.7 497.6L992.6 502.6L998.4 507.3L1006.3 511L1021.9 511.5L1123.2 511.5M380.5 219.8L415.1 220.5L449.4 222.6L483.3 225.9L516.3 230.5L548.5 236.2L579.5 242.9L609.2 250.5L637.6 258.9L664.4 268L689.8 277.7L713.5 287.8L735.7 298.3L756.3 309L775.5 319.8L793.3 330.7L809.7 341.4L825 352L839.1 362.4L852.3 372.4L864.5 382.2L876 391.7L886.7 400.8L896.7 409.5L906.2 417.9L915.2 426L923.7 433.7L939.6 448.1L947 454.8L954.2 461.2L961.1 467.3L967.7 473.2L974.2 478.8L980.5 484.1L986.6 489.3L992.7 494.1L1005.1 496.1L1123.2 496.1M380.5 214.7L413.5 215.3L446.3 217.2L478.6 220.2L510.3 224.3L541.2 229.4L571.1 235.6L599.9 242.6L627.4 250.4L653.7 258.9L678.5 267.9L701.9 277.5L723.9 287.4L744.4 297.6L763.6 308L781.5 318.4L798.2 328.8L813.7 339.1L828.1 349.2L841.6 359L854.1 368.7L865.9 378L877 387L887.4 395.7L897.2 404.1L906.5 412.1L915.3 419.9L923.7 427.3L931.8 434.4L939.5 441.2L946.9 447.7L954 453.9L960.9 459.9L967.6 465.6L974.1 471.1L980.4 476.3L989.1 480.2L1005.1 480.6L1123.2 480.6M380.5 210L412 210.6L443.4 212.2L474.4 214.9L504.8 218.6L534.5 223.3L563.3 229L591.2 235.4L618 242.7L643.6 250.6L667.9 259.1L690.9 268.1L712.6 277.5L733.1 287.2L752.2 297.1L770.2 307.1L786.9 317.1L802.6 327L817.3 336.8L831 346.5L843.9 355.9L856 365.1L867.3 374L878 382.6L888.2 391L897.8 399L906.9 406.7L915.6 414.1L923.9 421.3L931.9 428.1L939.5 434.7L946.9 441L954 447.1L960.9 452.9L967.6 458.5L974.6 463.5L988.2 465.2L1123.2 465.2M380.5 205.6L410.7 206.1L440.7 207.6L470.5 210L499.7 213.4L528.3 217.8L556.2 222.9L583.2 228.9L609.2 235.7L634.1 243.1L657.9 251.1L680.6 259.6L702 268.5L722.3 277.7L741.3 287.1L759.3 296.6L776.1 306.2L791.9 315.8L806.8 325.3L820.7 334.7L833.8 343.9L846.1 352.9L857.8 361.7L868.8 370.2L879.2 378.5L889 386.4L898.4 394.1L907.4 401.6L916 408.7L924.2 415.6L932.1 422.2L939.7 428.6L947 434.7L954.1 440.6L961 446.2L971.6 449.6L988.2 449.8L1123.2 449.8M380.5 201.3L409.5 201.8L438.3 203.2L466.9 205.4L495 208.6L522.6 212.6L549.6 217.4L575.7 223L601 229.2L625.3 236.2L648.6 243.7L670.8 251.7L691.9 260.1L712 268.8L730.9 277.8L748.8 286.9L765.7 296.1L781.6 305.4L796.6 314.6L810.7 323.7L824 332.6L836.5 341.4L848.4 350L859.6 358.4L870.3 366.6L880.4 374.5L890 382.1L899.2 389.5L908 396.7L916.5 403.6L932.4 416.6L939.9 422.8L947.2 428.7L956 433.4L971.3 434.3L1123.2 434.3M380.5 197.3L408.4 197.7L436.1 198.9L463.6 201L490.7 204L517.4 207.7L543.4 212.2L568.8 217.4L593.3 223.2L617 229.7L639.8 236.8L661.6 244.3L682.4 252.3L702.2 260.6L721 269.1L738.8 277.8L755.7 286.7L771.6 295.6L786.7 304.5L800.9 313.3L814.4 322L827.1 330.6L839.2 339L850.6 347.3L861.5 355.3L871.8 363.1L881.7 370.7L891.1 378L900.1 385.1L908.8 392L917.1 398.6L932.8 411.2L940.8 416.9L954.4 418.9L1123.2 418.9M380.5 193.3L407.4 193.7L434.1 194.9L460.6 196.8L486.8 199.6L512.5 203L537.8 207.2L562.3 212.1L586.2 217.6L609.3 223.7L631.6 230.3L653 237.5L673.4 245L693 252.9L711.6 261L729.3 269.3L746.1 277.8L762.1 286.4L777.2 294.9L791.5 303.5L805.1 312L818 320.3L830.2 328.6L841.8 336.6L852.8 344.5L863.4 352.2L873.4 359.7L883.1 367L892.3 374L901.1 380.9L909.6 387.5L925.7 400.1L937.7 403.3L954.4 403.4L1123.2 403.4M380.5 189.4L406.4 189.8L432.2 190.9L457.8 192.7L483.1 195.3L508.1 198.5L532.5 202.5L556.4 207L579.6 212.2L602.1 218L623.9 224.3L644.9 231L665 238.1L684.3 245.6L702.7 253.4L720.3 261.4L737 269.5L752.9 277.7L768 286L782.4 294.2L796.1 302.4L809 310.6L821.4 318.6L833.2 326.5L844.4 334.3L855.1 341.8L865.3 349.2L875.1 356.4L884.5 363.4L893.5 370.2L902.2 376.8L910.6 383.2L921.4 387.5L937.5 388L1123.2 388M380.5 185.7L405.5 186L430.5 187L455.3 188.8L479.8 191.2L503.9 194.2L527.6 197.9L550.8 202.2L573.4 207.1L595.4 212.6L616.7 218.5L637.2 224.9L657 231.7L676 238.8L694.2 246.2L711.6 253.8L728.2 261.6L744.1 269.5L759.2 277.5L773.6 285.4L787.3 293.4L800.4 301.3L812.9 309.2L824.7 316.9L836.1 324.5L846.9 331.9L857.3 339.2L867.3 346.3L876.8 353.2L886 360L894.9 366.5L905.1 371.6L920.7 372.6L1123.2 372.6M380.5 181.9L404.7 182.3L428.9 183.2L452.9 184.9L476.6 187.1L500 190L523.1 193.5L545.6 197.6L567.7 202.2L589.1 207.3L609.9 213L630.1 219L649.5 225.5L668.2 232.3L686.2 239.3L703.4 246.6L719.9 254.1L735.7 261.7L750.8 269.4L765.2 277.1L778.9 284.8L792 292.5L804.6 300.1L816.6 307.7L828 315.1L839 322.4L849.5 329.6L859.6 336.6L869.3 343.4L878.6 350.1L888.7 355.7L903.8 357.1L1123.2 357.1M380.5 178.2L404 178.6L427.4 179.5L450.7 181L473.7 183.2L496.4 185.9L518.8 189.2L540.8 193.1L562.3 197.4L583.2 202.3L603.6 207.7L623.3 213.4L642.4 219.6L660.8 226L678.6 232.8L695.6 239.8L712 247L727.6 254.3L742.7 261.7L757 269.1L770.8 276.6L784 284.1L796.5 291.5L808.6 298.9L820.2 306.2L831.2 313.3L841.8 320.3L852.1 327.2L861.9 334L872.2 339.9L886.9 341.7L1123.2 341.7M380.5 174.6L403.3 174.9L426 175.8L448.6 177.2L471 179.2L493.1 181.8L514.9 185L536.3 188.6L557.2 192.8L577.7 197.5L597.6 202.5L617 208L635.7 213.9L653.8 220.1L671.3 226.5L688.2 233.2L704.4 240.1L720 247.2L734.9 254.3L749.2 261.5L763 268.8L776.1 276.1L788.8 283.3L800.9 290.5L812.5 297.6L823.7 304.6L834.4 311.5L844.7 318.3L855.3 324.2L870 326.3L1123.2 326.2M380.5 171L402.6 171.2L424.7 172.1L446.7 173.5L468.4 175.4L490 177.9L511.2 180.8L532 184.3L552.5 188.3L572.5 192.7L592 197.6L611 202.8L629.4 208.4L647.2 214.3L664.5 220.5L681.1 227L697.2 233.6L712.6 240.4L727.5 247.3L741.7 254.3L755.4 261.3L768.6 268.3L781.3 275.4L793.4 282.4L805.1 289.3L816.3 296.2L827.1 303L838.3 308.8L853.1 310.8L1123.2 310.8M380.5 167.3L402 167.6L423.5 168.4L444.9 169.7L466.1 171.6L487 173.9L507.7 176.8L528.1 180.1L548 183.9L567.6 188.1L586.7 192.8L605.3 197.8L623.4 203.1L641 208.8L658 214.7L674.4 220.9L690.3 227.3L705.6 233.8L720.3 240.5L734.5 247.3L748.2 254.1L761.4 260.9L774 267.8L786.2 274.6L797.9 281.4L809.1 288.1L821 293.7L836.3 295.4L1123.2 295.4M380.5 163.7L401.5 164L422.4 164.8L443.2 166L463.8 167.8L484.3 170L504.5 172.8L524.3 175.9L543.9 179.6L563 183.6L581.7 188L600 192.8L617.8 198L635 203.4L651.8 209.1L668 215.1L683.7 221.2L698.9 227.5L713.5 234L727.6 240.5L741.2 247.1L754.4 253.8L767 260.4L779.2 267.1L790.9 273.7L803.6 278.7L819.4 279.9L1123.2 279.9M380.5 160.2L400.9 160.4L421.3 161.1L441.6 162.3L461.8 164L481.7 166.2L501.4 168.8L520.8 171.8L539.9 175.3L558.7 179.2L577 183.4L594.9 188L612.4 193L629.4 198.2L645.9 203.7L661.9 209.4L677.5 215.3L692.5 221.4L707 227.7L721 234L734.6 240.4L747.6 246.9L760.2 253.4L772.4 259.9L786.2 263.8L802.5 264.5L1123.2 264.5M380.5 156.6L400.4 156.8L420.3 157.5L440.1 158.7L459.8 160.3L479.3 162.3L498.5 164.8L517.5 167.8L536.2 171.1L554.6 174.8L572.5 178.9L590.1 183.3L607.3 188.1L624 193.1L640.3 198.4L656.1 203.9L671.5 209.6L686.3 215.5L700.7 221.6L714.7 227.7L728.1 233.9L741.1 240.2L754 246.1L768.9 248.9L785.6 249.1L1123.2 249.1M380.5 153L400 153.2L419.4 153.9L438.7 155L457.9 156.6L477 158.5L495.8 160.9L514.4 163.8L532.7 167L550.7 170.5L568.3 174.5L585.6 178.7L602.5 183.3L619 188.1L635 193.2L650.6 198.6L665.8 204.1L680.5 209.8L694.8 215.6L708.6 221.6L721.9 227.6L735.9 232.2L751.9 233.6L1123.2 233.6M380.5 149.4L399.5 149.7L418.5 150.3L437.4 151.4L456.2 152.9L474.8 154.8L493.2 157.1L511.4 159.8L529.4 162.9L547 166.3L564.3 170.1L581.3 174.2L597.9 178.6L614.1 183.3L629.9 188.2L645.3 193.3L660.3 198.7L674.9 204.2L689 209.9L703 215.2L718.3 217.9L735 218.2L1123.2 218.2M380.5 145.9L399.1 146.1L417.7 146.7L436.2 147.7L454.5 149.2L472.8 151L490.8 153.2L508.6 155.8L526.2 158.8L543.5 162.1L560.5 165.8L577.2 169.7L593.6 174L609.5 178.5L625.1 183.2L640.3 188.2L655.1 193.4L669.6 198.6L684.8 201.9L701.2 202.7L1123.2 202.7M380.5 142.3L398.7 142.5L416.9 143.1L435 144.1L453 145.5L470.8 147.3L488.5 149.4L506 151.9L523.2 154.8L540.2 158L556.9 161.5L573.3 165.3L589.4 169.4L605.1 173.8L620.5 178.4L635.6 183.1L651.1 186.2L667.5 187.3L1123.2 187.3M380.5 138.8L398.3 139L416.1 139.5L433.8 140.5L451.5 141.8L469 143.5L486.3 145.6L503.5 148L520.4 150.8L537.1 153.9L553.5 157.3L569.6 161L585.5 164.9L601.1 168.7L617.1 171.1L633.7 171.9L1123.2 171.9M380.5 135.2L398 135.4L415.4 135.9L432.8 136.9L450.1 138.2L467.2 139.8L484.2 141.8L501.1 144.2L517.7 146.8L534.1 149.8L550.3 152.8L566.6 155L583.1 156.2L599.9 156.4L1123.2 156.4M380.5 131.6L397.6 131.8L414.7 132.4L431.8 133.3L448.7 134.5L465.6 136L482.3 137.6L499 139.1L515.7 140.2L532.4 140.9L549.3 141L1123.2 141M380.5 125L397.4 125.1L414.3 125.2L431.2 125.4L448 125.5L464.9 125.6L1123.2 125.6M380.5 110.1L1123.2 110.1M380.5 94.7L1123.2 94.7" fill="none" stroke="#ee0000" stroke-width="2.9" stroke-linejoin="round" shape-rendering="crispEdges"/>
<rect x="375.5" y="77.2" width="751.3" height="4.7" fill="#ee0000"/>
<rect x="1119.6" y="77.2" width="7.2" height="684.8" fill="#ee0000"/>
<path d="M375.5 75.5H383.3V762H375.5ZM375.5 757.1H1198.8V762H375.5ZM412.6 748.1H415.9V758.1H412.6ZM446.4 748.1H449.7V758.1H446.4ZM480.1 748.1H483.4V758.1H480.1ZM511.7 740.1H519.3V758.1H511.7ZM547.6 748.1H550.9V758.1H547.6ZM581.4 748.1H584.7V758.1H581.4ZM615.2 748.1H618.5V758.1H615.2ZM646.8 740.1H654.4V758.1H646.8ZM682.7 748.1H686V758.1H682.7ZM716.5 748.1H719.8V758.1H716.5ZM750.2 748.1H753.5V758.1H750.2ZM781.8 740.1H789.4V758.1H781.8ZM817.7 748.1H821V758.1H817.7ZM851.5 748.1H854.8V758.1H851.5ZM885.3 748.1H888.6V758.1H885.3ZM916.9 740.1H924.5V758.1H916.9ZM952.8 748.1H956.1V758.1H952.8ZM986.5 748.1H989.8V758.1H986.5ZM1020.3 748.1H1023.6V758.1H1020.3ZM1051.9 740.1H1059.5V758.1H1051.9ZM1087.8 748.1H1091.1V758.1H1087.8ZM1121.6 748.1H1124.9V758.1H1121.6ZM1155.3 748.1H1158.6V758.1H1155.3ZM1186.9 740.1H1194.5V758.1H1186.9ZM382.3 726.1H389.7V729.1H382.3ZM382.3 695.2H389.7V698.2H382.3ZM382.3 664.4H389.7V667.4H382.3ZM382.3 631.5H398.3V638.5H382.3ZM382.3 602.6H389.7V605.6H382.3ZM382.3 571.8H389.7V574.8H382.3ZM382.3 540.9H389.7V543.9H382.3ZM382.3 508H398.3V515H382.3ZM382.3 479.1H389.7V482.1H382.3ZM382.3 448.2H389.7V451.2H382.3ZM382.3 417.4H389.7V420.4H382.3ZM382.3 384.5H398.3V391.5H382.3ZM382.3 355.6H389.7V358.6H382.3ZM382.3 324.7H389.7V327.7H382.3ZM382.3 293.9H389.7V296.9H382.3ZM382.3 261H398.3V268H382.3ZM382.3 232.1H389.7V235.1H382.3ZM382.3 201.2H389.7V204.2H382.3ZM382.3 170.4H389.7V173.4H382.3ZM382.3 137.5H398.3V144.5H382.3ZM382.3 108.6H389.7V111.6H382.3Z" fill="#000"/>
<path d="M1899.2 758.5L1834.1 547.3L1715.9 466.7L1708.1 440.2L1694.1 406.2L1678.2 381.8L1671.3 361.8L1668.9 339.2L1663.6 320.9L1659.1 304.5L1655.2 290L1651.9 276.8L1649.1 264.9L1646.5 254.3L1644.2 245.2L1642.1 237.2L1640.2 230.2L1637 218.1L1635.6 212.9L1634.3 208L1633.1 203.4L1632 199L1631 194.7L1630 190.7L1629.2 186.7L1628.4 182.8L1627.7 179L1627 175.2L1626.3 171.5L1625.7 167.8L1625.2 164.2L1624.6 160.5L1624.1 156.9L1623.7 153.3L1623.2 149.7L1622.8 146.1L1622.4 142.5L1622 139L1621.7 135.4L1621.3 131.8L1621.1 125.1L1621.1 110.1L1621.1 79.2M1928.9 758.5L1921.8 656L1858 525.4L1786.9 462.3L1776.6 426L1758 395.5L1743.5 369.4L1731.6 346.2L1721.4 326.7L1712.7 309.5L1705.3 294.1L1698.9 280.4L1693.2 268L1688.2 257.1L1683.7 247.7L1679.6 239.5L1675.9 232.2L1672.5 225.7L1669.4 219.8L1666.6 214.4L1664.1 209.4L1661.7 204.6L1659.5 200.2L1657.5 195.9L1655.7 191.7L1654 187.7L1652.4 183.8L1650.9 179.9L1649.6 176.1L1648.3 172.3L1647.1 168.6L1646 164.9L1644.9 161.3L1643.9 157.6L1643 154L1642.1 150.4L1641.3 146.7L1640.5 143.1L1639.8 139.5L1639 136L1638.4 132.4L1637.9 125.2L1637.9 110.1L1637.9 79.2M1973.9 758.5L1950.7 663.1L1926.6 590.7L1882.3 503.1L1849.9 453.2L1825.9 415L1806.9 383.4L1790.6 357.5L1776.4 335.9L1764.2 317.3L1753.6 300.8L1744.4 286.2L1736.3 273.2L1729 261.8L1722.4 251.9L1716.4 243.3L1711 235.6L1706 228.7L1701.5 222.5L1697.4 216.9L1693.6 211.7L1690.1 206.8L1686.9 202.2L1683.9 197.8L1681.2 193.5L1678.6 189.4L1676.3 185.4L1674.1 181.4L1672 177.5L1670.1 173.7L1668.4 169.9L1666.7 166.2L1665.1 162.5L1663.6 158.8L1662.2 155.1L1660.9 151.4L1659.7 147.8L1658.5 144.1L1657.4 140.5L1656.3 136.9L1655.3 133.3L1654.7 125.4L1654.7 110.1L1654.7 79.2M1996.7 758.5L1987.7 676L1966.2 600.2L1936.6 532.8L1908.4 479.1L1884.4 435.6L1863.8 399.7L1844.2 371.9L1827.4 348.1L1812.6 327.5L1799.6 309.7L1788.1 294L1777.8 280.2L1768.5 268.2L1760 257.6L1752.3 248.4L1745.3 240.2L1738.9 232.9L1733 226.3L1727.6 220.4L1722.6 214.9L1718 209.8L1713.8 205L1709.9 200.4L1706.3 196L1703 191.7L1699.9 187.6L1697 183.5L1694.3 179.5L1691.8 175.6L1689.4 171.8L1687.2 167.9L1685.2 164.1L1683.2 160.4L1681.4 156.6L1679.6 152.9L1678 149.2L1676.4 145.5L1674.9 141.8L1673.5 138.2L1672.2 134.5L1671.5 125.5L1671.5 110.1L1671.5 79.2M2020.9 758.5L2014.2 690.6L1999.3 617.2L1978.1 554.9L1955.7 501.1L1934.5 455.1L1912 418.9L1892 388.1L1873.6 362.3L1857.3 339.9L1842.6 320.5L1829.2 303.7L1817.2 288.9L1806.2 276.1L1796.2 264.8L1787 254.8L1778.6 246.1L1770.8 238.2L1763.7 231.2L1757.1 224.8L1751.1 219L1745.5 213.6L1740.3 208.6L1735.5 203.8L1731.1 199.2L1727 194.7L1723.2 190.4L1719.6 186.2L1716.3 182.1L1713.2 178.1L1710.3 174.1L1707.6 170.2L1705 166.3L1702.6 162.4L1700.3 158.6L1698.2 154.8L1696.1 151L1694.2 147.3L1692.4 143.5L1690.6 139.8L1689 136L1688.3 125.6L1688.3 79.2M2042.4 758.5L2036 696.9L2027.7 630.6L2012.5 572.3L1994.7 520.1L1973.9 475.8L1953.5 437.6L1933.5 405.5L1915.2 377.4L1897.9 353.7L1882.2 332.9L1867.6 314.9L1854.2 299.1L1842 285.2L1830.7 273.1L1820.3 262.4L1810.6 252.9L1801.7 244.4L1793.5 236.9L1785.9 230.2L1778.8 224L1772.3 218.3L1766.2 212.9L1760.6 207.8L1755.4 203L1750.6 198.4L1746.1 193.9L1741.9 189.5L1738 185.2L1734.3 181L1730.9 176.9L1727.6 172.9L1724.6 168.9L1721.7 164.9L1719 161L1716.5 157.1L1714.1 153.3L1711.8 149.4L1709.6 145.6L1707.5 141.8L1705.7 137.6L1705.1 125.6L1705.1 79.2M2063.3 758.5L2060.6 699.1L2052.9 641.5L2040.7 587.3L2025 538.1L2007.4 494.2L1988.5 456L1970.2 422.3L1951.8 393.5L1934.7 368.1L1918.2 346.4L1903 327.2L1888.8 310.3L1875.6 295.5L1863.4 282.4L1851.9 271L1841.3 260.7L1831.4 251.7L1822.2 243.6L1813.6 236.4L1805.7 229.8L1798.3 223.7L1791.5 218L1785.1 212.6L1779.2 207.5L1773.7 202.6L1768.6 197.9L1763.8 193.3L1759.3 188.9L1755.1 184.5L1751.1 180.2L1747.4 176L1743.9 171.9L1740.7 167.8L1737.5 163.8L1734.6 159.8L1731.8 155.9L1729.2 151.9L1726.7 148L1724.3 144.2L1722.3 139.1L1721.9 125.6L1721.9 79.2M2082.8 758.5L2080.6 704L2074.2 650.9L2064.2 600.4L2050.9 553.5L2035.5 511L2019 472.8L2001.5 439.2L1984.4 409.2L1967.1 383.4L1950.9 360.4L1935.3 340.2L1920.8 322.3L1906.9 306.6L1894 292.7L1881.8 280.4L1870.4 269.4L1859.7 259.7L1849.7 251.2L1840.3 243.4L1831.6 236.3L1823.5 229.8L1815.9 223.7L1808.9 218L1802.3 212.6L1796.2 207.4L1790.5 202.5L1785.1 197.7L1780.1 193L1775.4 188.5L1771 184L1766.9 179.7L1762.9 175.4L1759.3 171.2L1755.8 167L1752.5 162.9L1749.3 158.8L1746.4 154.8L1743.5 150.8L1740.8 146.8L1738.9 140.2L1738.7 125.6L1738.7 79.2M2100.2 758.5L2098.4 708.1L2093 658.9L2084.4 611.6L2073.4 567.1L2059.8 526L2044.8 488.7L2029.1 454.9L2012.5 425.1L1996.3 398.3L1980.2 374.7L1964.9 353.5L1950 334.9L1936 318.2L1922.5 303.6L1909.9 290.4L1897.9 278.8L1886.6 268.6L1875.9 259.4L1865.8 251.1L1856.5 243.6L1847.7 236.6L1839.5 230.1L1831.9 224L1824.8 218.3L1818.1 212.8L1811.8 207.6L1806 202.5L1800.5 197.6L1795.3 192.9L1790.5 188.2L1785.9 183.7L1781.6 179.2L1777.5 174.9L1773.7 170.6L1770 166.3L1766.6 162.1L1763.3 158L1760.1 153.9L1757.2 149.8L1755.5 140.9L1755.5 125.6L1755.5 79.2M2115.7 758.5L2114.2 711.7L2109.6 665.7L2102.4 621.3L2092.7 579L2080.9 539.6L2067.5 503.2L2052.7 470.1L2037.6 440L2022 413.1L2006.8 388.7L1991.5 367.1L1977 347.6L1962.6 330.4L1949.1 314.9L1936.1 301.1L1923.7 288.9L1911.9 278.1L1900.7 268.3L1890.1 259.5L1880.2 251.4L1870.9 244L1854.1 230.6L1846.4 224.5L1839.3 218.7L1832.6 213.1L1826.3 207.8L1820.3 202.7L1814.8 197.7L1809.5 192.8L1804.5 188.1L1799.9 183.5L1795.4 178.9L1791.2 174.5L1787.3 170.1L1783.5 165.8L1779.9 161.5L1776.5 157.3L1773.3 152.8L1772.3 141L1772.3 79.2M2129.8 758.5L2128.5 714.7L2124.6 671.6L2118.3 629.7L2109.8 589.6L2099.2 551.8L2087.1 516.5L2073.7 484L2059.5 454.3L2045.1 427.1L2030.2 402.7L2015.8 380.4L2001.2 360.6L1987.2 342.6L1973.7 326.5L1960.4 312.2L1947.7 299.5L1935.6 288.1L1924 277.8L1913.1 268.4L1902.8 259.8L1893.1 251.9L1884 244.6L1875.4 237.7L1867.3 231.2L1859.7 225L1852.6 219.2L1845.9 213.6L1839.6 208.1L1833.6 202.9L1828 197.8L1822.7 192.9L1817.7 188.1L1812.9 183.4L1808.4 178.7L1804.1 174.2L1800.1 169.7L1796.2 165.3L1792.5 161L1789.5 155L1789.1 141L1789.1 79.2M2142.6 758.5L2141.4 717.4L2138.1 676.8L2132.5 637.2L2124.8 599.1L2115.3 562.8L2104.2 528.8L2092 497.1L2079 467.7L2065.3 440.8L2051.5 416L2037.3 393.8L2023.4 373.4L2009.7 355L1996.1 338.5L1982.8 323.7L1970 310.4L1957.7 298.5L1945.9 287.6L1934.8 277.7L1924.2 268.6L1914.2 260.2L1904.7 252.4L1895.8 245.1L1887.4 238.3L1879.4 231.8L1872 225.6L1864.9 219.7L1858.3 214L1852 208.5L1846 203.2L1840.4 198L1835.1 193L1830 188.1L1825.2 183.3L1820.7 178.6L1816.3 174L1812.2 169.4L1808.3 164.9L1806 156.2L1805.9 141L1805.9 79.2M2154 758.5L2153 719.7L2149.9 681.4L2144.8 643.9L2137.9 607.6L2129.3 572.9L2119.4 540L2108.1 509.2L2096.1 480.4L2083.4 453.7L2070.2 429.2L2056.9 406.6L2043.4 386L2029.9 367.4L2016.6 350.5L2003.4 335.3L1990.6 321.6L1978.3 309.1L1966.4 297.7L1955.1 287.3L1944.4 277.8L1934.1 268.9L1924.4 260.7L1915.3 253L1906.6 245.7L1898.4 238.9L1890.6 232.3L1883.3 226.1L1876.3 220.1L1869.7 214.4L1863.5 208.8L1857.6 203.5L1852 198.2L1846.7 193.1L1841.6 188.1L1836.8 183.3L1832.2 178.5L1827.9 173.8L1823.9 168.7L1822.7 156.4L1822.7 79.2M2163.9 758.5L2162.9 721.8L2160.2 685.5L2155.6 649.9L2149.4 615.4L2141.6 582.2L2132.5 550.5L2122.5 520.4L2111.2 492.3L2099.3 466.1L2087.1 441.6L2074.4 419.1L2061.4 398.5L2048.3 379.7L2035.2 362.6L2022.3 347L2009.7 332.8L1997.4 319.9L1985.6 308L1974.2 297.2L1963.4 287.1L1953 277.8L1943.2 269.2L1933.8 261.1L1924.9 253.4L1916.5 246.2L1908.5 239.4L1900.9 232.9L1893.7 226.6L1886.9 220.6L1880.4 214.8L1874.3 209.2L1868.4 203.7L1862.9 198.4L1857.6 193.2L1852.6 188.2L1847.8 183.2L1843.2 178.4L1839.8 171.1L1839.5 156.4L1839.5 79.2M2172.4 758.5L2171.6 723.7L2169.1 689.3L2165 655.5L2159.4 622.5L2152.5 590.6L2144.2 560.1L2134.8 531L2124.6 503.5L2113.7 477.7L2102.1 453.6L2089.9 431.2L2077.5 410.7L2064.8 391.8L2052.1 374.4L2039.6 358.5L2027.2 344L2015.1 330.7L2003.4 318.4L1992.1 307.1L1981.2 296.7L1970.8 287L1960.9 277.9L1951.4 269.4L1942.4 261.4L1933.8 253.8L1925.7 246.7L1917.9 239.8L1910.5 233.3L1903.5 227L1896.8 220.9L1890.4 215.1L1884.4 209.4L1878.6 203.9L1873.1 198.6L1867.9 193.3L1862.9 188.2L1858.2 183.1L1856.3 171.9L1856.3 79.2M2180 758.5L2179.3 725.5L2177 692.7L2173.4 660.5L2168.3 628.9L2162 598.4L2154.5 568.9L2146 540.7L2136.6 514L2126.3 488.7L2115.3 465L2103.8 442.9L2091.9 422.4L2079.8 403.5L2067.6 386L2055.4 369.9L2043.3 355.1L2031.5 341.4L2020 328.8L2008.8 317.1L1998 306.3L1987.7 296.2L1977.7 286.7L1968.2 277.9L1959.1 269.5L1950.4 261.6L1942.1 254.1L1934.2 247L1926.6 240.2L1919.5 233.6L1912.6 227.3L1906.1 221.2L1899.8 215.4L1893.9 209.6L1888.2 204.1L1882.8 198.7L1877.6 193.4L1873.6 186.2L1873.1 171.9L1873.1 79.2M2186.8 758.5L2186.1 727.1L2184.1 695.8L2180.8 665L2176.3 634.8L2170.6 605.5L2163.7 577.1L2155.9 549.8L2147.1 523.8L2137.5 499.1L2127.1 475.9L2116.3 454.1L2105 433.8L2093.4 414.8L2081.6 397.3L2069.9 381L2058.2 365.9L2046.7 352L2035.4 339.1L2024.4 327L2013.8 315.8L2003.5 305.4L1993.6 295.6L1984 286.4L1974.9 277.7L1966.2 269.5L1957.8 261.7L1942.1 247.2L1934.8 240.4L1927.8 233.8L1921.2 227.5L1914.8 221.4L1908.7 215.5L1902.9 209.8L1897.3 204.2L1892 198.6L1889.9 187.3L1889.9 79.2M2193 758.5L2192.4 728.5L2190.5 698.6L2187.6 669.2L2183.4 640.2L2178.2 612L2171.9 584.6L2164.6 558.3L2156.4 533L2147.4 509L2137.7 486.2L2127.5 464.7L2116.8 444.6L2105.7 425.7L2094.5 408.1L2083.2 391.8L2071.9 376.5L2060.8 362.4L2049.8 349.2L2039 336.8L2028.5 325.3L2018.4 314.6L2008.6 304.5L1999.1 295L1990 286L1981.2 277.5L1972.8 269.4L1964.7 261.7L1957 254.3L1949.6 247.3L1942.5 240.5L1935.7 234L1929.2 227.7L1923 221.6L1917.1 215.6L1911.4 209.9L1907.2 201.9L1906.7 187.3L1906.7 79.2M2198.6 758.5L2198.1 729.8L2196.4 701.2L2193.7 673L2189.9 645.2L2185.1 618.1L2179.3 591.7L2172.5 566.1L2164.9 541.6L2156.4 518.2L2147.3 495.9L2137.7 474.8L2127.5 454.8L2117.1 436.1L2106.3 418.6L2095.5 402.2L2084.7 386.8L2073.8 372.4L2063.2 359L2052.7 346.5L2042.4 334.7L2032.4 323.7L2022.7 313.3L2013.3 303.5L2004.3 294.2L1995.5 285.5L1987.1 277.1L1979 269.2L1971.3 261.6L1963.8 254.3L1956.7 247.3L1949.8 240.5L1943.2 234L1936.9 227.7L1930.8 221.6L1925.3 215.2L1923.5 202.7L1923.5 79.2M2203.9 758.5L2203.4 731L2201.9 703.6L2199.4 676.5L2195.9 649.8L2191.4 623.6L2186 598.1L2179.7 573.4L2172.6 549.6L2164.7 526.8L2156.1 505L2147 484.2L2137.4 464.6L2127.5 446L2117.3 428.6L2106.9 412.1L2096.5 396.7L2086 382.2L2075.7 368.7L2065.5 355.9L2055.5 343.9L2045.7 332.6L2036.1 322L2026.9 312L2017.9 302.5L2009.2 293.4L2000.8 284.8L1992.7 276.6L1985 268.8L1977.5 261.3L1970.3 254.1L1963.3 247.1L1956.7 240.4L1950.3 233.9L1944.1 227.6L1940.5 217.9L1940.3 202.7L1940.3 79.2M2208.9 758.5L2208.4 732.1L2207 705.8L2204.7 679.7L2201.4 654L2197.3 628.8L2192.2 604.1L2186.3 580.2L2179.7 557.1L2172.3 534.8L2164.2 513.5L2155.6 493.1L2146.5 473.8L2137.1 455.4L2127.4 438.1L2117.5 421.7L2107.5 406.2L2097.4 391.7L2087.4 378L2077.5 365.1L2067.7 352.9L2058.2 341.4L2048.8 330.6L2039.7 320.3L2030.8 310.6L2022.2 301.3L2013.9 292.5L2005.8 284.1L1998.1 276.1L1990.6 268.3L1976.4 253.8L1969.7 246.9L1963.2 240.2L1958.1 232.2L1957.1 218.2L1957.1 79.2M2213.7 758.5L2213.2 733.1L2211.9 707.7L2209.7 682.6L2206.7 657.9L2202.8 633.5L2198 609.7L2192.5 586.5L2186.3 564L2179.3 542.3L2171.7 521.5L2163.6 501.5L2155 482.5L2146.1 464.3L2136.8 447.1L2127.3 430.8L2117.7 415.4L2108.1 400.8L2098.4 387L2088.8 374L2079.3 361.7L2070 350L2060.8 339L2051.8 328.6L2043.1 318.6L2034.6 309.2L2026.4 300.1L2018.4 291.5L2010.6 283.3L2003.2 275.4L1995.9 267.8L1982.2 253.4L1976.1 246.1L1973.9 233.6L1973.9 79.2M2218.2 758.5L2217.8 734L2216.6 709.6L2214.5 685.4L2211.7 661.4L2208 637.9L2203.6 614.8L2198.4 592.4L2192.5 570.5L2185.9 549.4L2178.8 529L2171.1 509.4L2163 490.7L2154.4 472.8L2145.6 455.7L2136.6 439.5L2127.4 424.1L2118.1 409.6L2108.8 395.7L2099.5 382.6L2090.2 370.2L2081.1 358.4L2072.2 347.3L2063.4 336.6L2054.8 326.5L2046.4 316.9L2038.3 307.7L2030.4 298.9L2022.7 290.5L2015.2 282.4L2008 274.6L1994.3 259.9L1990.8 248.9L1990.7 233.6L1990.7 79.2M2222.6 758.5L2222.3 734.8L2221.1 711.3L2219.2 687.9L2216.5 664.7L2213 642L2208.8 619.6L2203.9 597.8L2198.4 576.5L2192.2 555.9L2185.4 536L2178.2 516.8L2170.4 498.4L2162.3 480.7L2153.9 463.9L2145.3 447.8L2136.5 432.5L2127.5 417.9L2118.5 404.1L2109.5 391L2100.6 378.5L2091.7 366.6L2083 355.3L2074.4 344.5L2066 334.3L2057.7 324.5L2049.7 315.1L2041.9 306.2L2034.3 297.6L2026.9 289.3L2019.7 281.4L2012.7 273.7L2008 263.8L2007.5 249.1L2007.5 79.2M2226.9 758.5L2226.6 735.6L2225.5 712.8L2223.6 690.2L2221.1 667.8L2217.8 645.7L2213.9 624.1L2209.3 602.8L2204 582.2L2198.2 562.1L2191.7 542.6L2184.8 523.8L2177.5 505.7L2169.8 488.3L2161.8 471.6L2153.5 455.7L2145 440.5L2136.5 426L2127.8 412.2L2119.1 399L2110.4 386.4L2101.8 374.5L2093.3 363.1L2084.9 352.2L2076.6 341.8L2068.5 331.9L2060.6 322.4L2052.9 313.3L2045.4 304.6L2038 296.2L2030.9 288.1L2025.4 278.7L2024.3 264.5L2024.3 79.2M2231.2 758.5L2230.8 736.4L2229.8 714.3L2228 692.4L2225.6 670.7L2222.5 649.3L2218.8 628.2L2214.4 607.6L2209.4 587.4L2203.9 567.8L2197.8 548.7L2191.2 530.3L2184.2 512.5L2176.9 495.4L2169.2 479L2161.3 463.2L2153.2 448.1L2144.9 433.7L2136.6 419.9L2128.2 406.7L2119.8 394.1L2111.4 382.1L2103.1 370.7L2094.9 359.7L2086.8 349.2L2078.9 339.2L2071.1 329.6L2063.5 320.3L2056 311.5L2048.8 303L2042.7 293.7L2041.1 279.9L2041.1 79.2M2235.3 758.5L2235 737L2234 715.6L2232.3 694.4L2230 673.3L2227.1 652.5L2223.5 632.1L2219.4 612L2214.6 592.3L2209.4 573.2L2203.6 554.5L2197.3 536.5L2190.7 519L2183.7 502.2L2176.3 485.9L2168.8 470.3L2161 455.4L2153 441L2145 427.3L2136.8 414.1L2128.7 401.6L2120.6 389.5L2112.5 378L2104.5 367L2096.6 356.4L2088.8 346.3L2081.1 336.6L2073.6 327.2L2066.3 318.3L2059.9 308.8L2057.9 295.4L2057.9 79.2M2239.4 758.5L2239 737.7L2238.1 716.9L2236.5 696.3L2234.4 675.8L2231.6 655.6L2228.2 635.7L2224.2 616.1L2219.7 596.9L2214.7 578.2L2209.2 560L2203.2 542.3L2196.9 525.1L2190.2 508.5L2183.2 492.5L2175.9 477.1L2168.4 462.3L2160.7 448.1L2153 434.4L2145.1 421.3L2137.2 408.7L2129.3 396.7L2121.5 385.1L2113.6 374L2105.9 363.4L2098.3 353.2L2090.8 343.4L2083.4 334L2076.9 324.2L2074.7 310.8L2074.7 79.2M2243.4 758.5L2243.1 738.3L2242.2 718.1L2240.7 698L2238.6 678.1L2236 658.4L2232.7 639L2229 619.9L2224.7 601.2L2219.9 583L2214.6 565.1L2208.9 547.8L2202.9 530.9L2196.4 514.6L2189.7 498.8L2182.7 483.6L2175.5 468.9L2168.1 454.8L2160.6 441.2L2153 428.1L2145.4 415.6L2137.7 403.6L2130.1 392L2122.4 380.9L2114.9 370.2L2107.4 360L2100 350.1L2093.6 339.9L2091.5 326.3L2091.5 79.2M2247.4 758.5L2247.1 738.8L2246.2 719.2L2244.8 699.6L2242.8 680.3L2240.3 661.1L2237.2 642.2L2233.6 623.6L2229.5 605.3L2224.9 587.4L2219.9 569.9L2214.4 552.9L2208.6 536.4L2202.5 520.3L2196 504.8L2189.3 489.7L2182.4 475.2L2175.3 461.2L2168 447.7L2160.7 434.7L2153.2 422.2L2145.8 410.2L2138.3 398.6L2130.9 387.5L2123.5 376.8L2116.2 366.5L2110.1 355.7L2108.3 341.7L2108.3 79.2M2251.4 758.5L2251.1 739.3L2250.3 720.2L2248.9 701.2L2247 682.3L2244.6 663.6L2241.6 645.2L2238.2 627L2234.2 609.1L2229.8 591.6L2225 574.5L2219.8 557.8L2214.2 541.5L2208.3 525.7L2202.1 510.4L2195.7 495.6L2189 481.2L2182.1 467.3L2175.1 453.9L2168 441L2160.8 428.6L2153.6 416.6L2146.3 405L2139.1 393.9L2131.9 383.2L2126.4 371.6L2125.1 357.1L2125.1 79.2M2255.3 758.5L2255 739.8L2254.3 721.2L2252.9 702.6L2251.1 684.2L2248.8 666L2246 647.9L2242.7 630.2L2238.9 612.7L2234.7 595.6L2230.1 578.8L2225.1 562.4L2219.7 546.4L2214 530.9L2208.1 515.8L2201.8 501.1L2195.4 486.9L2188.8 473.2L2182 459.9L2175.1 447.1L2168.1 434.7L2161.1 422.8L2154 411.2L2146.9 400.1L2142.6 387.5L2141.9 372.6L2141.9 79.2M2259.2 758.5L2259 740.3L2258.2 722.1L2257 704L2255.2 686L2253 668.2L2250.3 650.6L2247.1 633.2L2243.5 616.1L2239.4 599.3L2235 582.9L2230.2 566.8L2225 551.1L2219.6 535.8L2213.8 520.9L2207.8 506.4L2201.6 492.4L2195.2 478.8L2188.6 465.6L2181.9 452.9L2175.2 440.6L2168.3 428.7L2161.9 416.9L2158.9 403.3L2158.7 388L2158.7 79.2M2263.1 758.5L2262.9 740.7L2262.2 722.9L2261 705.3L2259.3 687.7L2257.1 670.3L2254.5 653.1L2251.5 636.1L2248 619.3L2244.1 602.9L2239.9 586.7L2235.2 570.9L2230.3 555.5L2225 540.4L2219.4 525.7L2213.7 511.5L2207.6 497.6L2201.4 484.1L2195.1 471.1L2188.6 458.5L2182 446.2L2177.1 433.4L2175.5 418.9L2175.5 79.2M2267.1 758.5L2266.8 741.1L2266.1 723.7L2265 706.5L2263.3 689.3L2261.3 672.3L2258.8 655.4L2255.8 638.8L2252.5 622.4L2248.7 606.2L2244.6 590.4L2240.2 574.9L2235.4 559.7L2230.3 544.8L2224.9 530.4L2219.3 516.3L2213.5 502.6L2207.5 489.3L2201.4 476.3L2195.6 463.5L2192.6 449.6L2192.3 434.3L2192.3 79.2M2270.9 758.5L2270.7 741.5L2270 724.5L2268.9 707.6L2267.4 690.8L2265.4 674.1L2263 657.6L2260.1 641.3L2256.9 625.2L2253.3 609.4L2249.3 593.9L2245 578.6L2240.4 563.7L2235.5 549.1L2230.3 534.8L2224.9 520.9L2219.3 507.3L2213.6 494.1L2210.1 480.2L2209.1 465.2L2209.1 79.2M2274.8 758.5L2274.6 741.9L2274 725.2L2272.9 708.7L2271.4 692.2L2269.5 675.9L2267.1 659.7L2264.4 643.7L2261.3 628L2257.8 612.4L2254 597.1L2249.8 582.2L2245.4 567.4L2240.6 553.1L2235.6 539L2230.5 525.2L2227.1 511L2225.9 496.1L2225.9 79.2M2278.7 758.5L2278.5 742.2L2277.9 725.9L2276.8 709.7L2275.4 693.6L2273.5 677.6L2271.3 661.7L2268.6 646L2265.6 630.6L2262.3 615.3L2258.6 600.3L2254.6 585.5L2250.2 571.1L2246.2 556.7L2243.6 542.1L2242.7 526.9L2242.7 79.2M2282.6 758.5L2282.4 742.5L2281.8 726.6L2280.8 710.7L2279.4 694.9L2277.6 679.2L2275.4 663.6L2272.9 648.2L2270 633L2266.7 618L2263.5 603.2L2261.1 588.3L2259.7 573.2L2259.5 557.8L2259.5 79.2M2286.5 758.5L2286.3 742.8L2285.7 727.2L2284.7 711.6L2283.4 696.1L2281.7 680.7L2280 665.4L2278.4 650.1L2277.1 634.8L2276.4 619.5L2276.3 604.1L2276.3 79.2M2293.7 758.5L2293.6 743.1L2293.5 727.6L2293.3 712.2L2293.1 696.7L2293.1 681.3L2293.1 79.2M2309.9 758.5L2309.9 79.2M2326.7 758.5L2326.7 79.2M1604.3 487.5L1834.1 547.3L1921.8 656L1950.7 663.1L1987.7 676L2014.2 690.6L2036 696.9L2060.6 699.1L2080.6 704L2098.4 708.1L2114.2 711.7L2128.5 714.7L2141.4 717.4L2153 719.7L2162.9 721.8L2171.6 723.7L2179.3 725.5L2192.4 728.5L2198.1 729.8L2203.4 731L2208.4 732.1L2213.2 733.1L2217.8 734L2222.3 734.8L2226.6 735.6L2230.8 736.4L2235 737L2239 737.7L2243.1 738.3L2247.1 738.8L2251.1 739.3L2255 739.8L2259 740.3L2262.9 740.7L2266.8 741.1L2270.7 741.5L2274.6 741.9L2278.5 742.2L2282.4 742.5L2286.3 742.8L2293.6 743.1L2309.9 743.1L2343.5 743.1M1604.3 460.2L1715.9 466.7L1858 525.4L1926.6 590.7L1966.2 600.2L1999.3 617.2L2027.7 630.6L2052.9 641.5L2074.2 650.9L2093 658.9L2109.6 665.7L2124.6 671.6L2138.1 676.8L2149.9 681.4L2160.2 685.5L2169.1 689.3L2177 692.7L2184.1 695.8L2190.5 698.6L2196.4 701.2L2201.9 703.6L2207 705.8L2211.9 707.7L2216.6 709.6L2221.1 711.3L2225.5 712.8L2229.8 714.3L2234 715.6L2238.1 716.9L2242.2 718.1L2246.2 719.2L2250.3 720.2L2254.3 721.2L2258.2 722.1L2262.2 722.9L2266.1 723.7L2270 724.5L2274 725.2L2277.9 725.9L2281.8 726.6L2285.7 727.2L2293.5 727.6L2309.9 727.6L2343.5 727.6M1604.3 418.9L1708.1 440.2L1786.9 462.3L1882.3 503.1L1936.6 532.8L1978.1 554.9L2012.5 572.3L2040.7 587.3L2064.2 600.4L2084.4 611.6L2102.4 621.3L2118.3 629.7L2132.5 637.2L2144.8 643.9L2155.6 649.9L2165 655.5L2173.4 660.5L2180.8 665L2187.6 669.2L2193.7 673L2199.4 676.5L2204.7 679.7L2209.7 682.6L2214.5 685.4L2219.2 687.9L2223.6 690.2L2228 692.4L2232.3 694.4L2236.5 696.3L2240.7 698L2244.8 699.6L2248.9 701.2L2252.9 702.6L2257 704L2261 705.3L2265 706.5L2268.9 707.6L2272.9 708.7L2276.8 709.7L2280.8 710.7L2284.7 711.6L2293.3 712.2L2309.9 712.2L2343.5 712.2M1604.3 397.9L1694.1 406.2L1776.6 426L1849.9 453.2L1908.4 479.1L1955.7 501.1L1994.7 520.1L2025 538.1L2050.9 553.5L2073.4 567.1L2092.7 579L2109.8 589.6L2124.8 599.1L2137.9 607.6L2149.4 615.4L2159.4 622.5L2168.3 628.9L2176.3 634.8L2183.4 640.2L2189.9 645.2L2195.9 649.8L2201.4 654L2206.7 657.9L2211.7 661.4L2216.5 664.7L2221.1 667.8L2225.6 670.7L2230 673.3L2234.4 675.8L2238.6 678.1L2242.8 680.3L2247 682.3L2251.1 684.2L2255.2 686L2259.3 687.7L2263.3 689.3L2267.4 690.8L2271.4 692.2L2275.4 693.6L2279.4 694.9L2283.4 696.1L2293.1 696.7L2309.9 696.8L2343.5 696.8M1604.3 375.7L1678.2 381.8L1758 395.5L1825.9 415L1884.4 435.6L1934.5 455.1L1973.9 475.8L2007.4 494.2L2035.5 511L2059.8 526L2080.9 539.6L2099.2 551.8L2115.3 562.8L2129.3 572.9L2141.6 582.2L2152.5 590.6L2162 598.4L2170.6 605.5L2178.2 612L2185.1 618.1L2191.4 623.6L2197.3 628.8L2202.8 633.5L2208 637.9L2213 642L2217.8 645.7L2222.5 649.3L2227.1 652.5L2231.6 655.6L2236 658.4L2240.3 661.1L2244.6 663.6L2248.8 666L2253 668.2L2257.1 670.3L2261.3 672.3L2265.4 674.1L2269.5 675.9L2273.5 677.6L2277.6 679.2L2281.7 680.7L2293.1 681.3L2343.5 681.3M1604.3 355.9L1671.3 361.8L1743.5 369.4L1806.9 383.4L1863.8 399.7L1912 418.9L1953.5 437.6L1988.5 456L2019 472.8L2044.8 488.7L2067.5 503.2L2087.1 516.5L2104.2 528.8L2119.4 540L2132.5 550.5L2144.2 560.1L2154.5 568.9L2163.7 577.1L2171.9 584.6L2179.3 591.7L2186 598.1L2192.2 604.1L2198 609.7L2203.6 614.8L2208.8 619.6L2213.9 624.1L2218.8 628.2L2223.5 632.1L2228.2 635.7L2232.7 639L2237.2 642.2L2241.6 645.2L2246 647.9L2250.3 650.6L2254.5 653.1L2258.8 655.4L2263 657.6L2267.1 659.7L2271.3 661.7L2275.4 663.6L2280 665.4L2293.1 665.9L2343.5 665.9M1604.3 336.8L1668.9 339.2L1731.6 346.2L1790.6 357.5L1844.2 371.9L1892 388.1L1933.5 405.5L1970.2 422.3L2001.5 439.2L2029.1 454.9L2052.7 470.1L2073.7 484L2092 497.1L2108.1 509.2L2122.5 520.4L2134.8 531L2146 540.7L2155.9 549.8L2164.6 558.3L2172.5 566.1L2179.7 573.4L2186.3 580.2L2192.5 586.5L2198.4 592.4L2203.9 597.8L2209.3 602.8L2214.4 607.6L2219.4 612L2224.2 616.1L2229 619.9L2233.6 623.6L2238.2 627L2242.7 630.2L2247.1 633.2L2251.5 636.1L2255.8 638.8L2260.1 641.3L2264.4 643.7L2268.6 646L2272.9 648.2L2278.4 650.1L2293.1 650.4L2343.5 650.4M1604.3 318.8L1663.6 320.9L1721.4 326.7L1776.4 335.9L1827.4 348.1L1873.6 362.3L1915.2 377.4L1951.8 393.5L1984.4 409.2L2012.5 425.1L2037.6 440L2059.5 454.3L2079 467.7L2096.1 480.4L2111.2 492.3L2124.6 503.5L2136.6 514L2147.1 523.8L2156.4 533L2164.9 541.6L2172.6 549.6L2179.7 557.1L2186.3 564L2192.5 570.5L2198.4 576.5L2204 582.2L2209.4 587.4L2214.6 592.3L2219.7 596.9L2224.7 601.2L2229.5 605.3L2234.2 609.1L2238.9 612.7L2243.5 616.1L2248 619.3L2252.5 622.4L2256.9 625.2L2261.3 628L2265.6 630.6L2270 633L2277.1 634.8L2293.1 635L2343.5 635M1604.3 302.8L1659.1 304.5L1712.7 309.5L1764.2 317.3L1812.6 327.5L1857.3 339.9L1897.9 353.7L1934.7 368.1L1967.1 383.4L1996.3 398.3L2022 413.1L2045.1 427.1L2065.3 440.8L2083.4 453.7L2099.3 466.1L2113.7 477.7L2126.3 488.7L2137.5 499.1L2147.4 509L2156.4 518.2L2164.7 526.8L2172.3 534.8L2179.3 542.3L2185.9 549.4L2192.2 555.9L2198.2 562.1L2203.9 567.8L2209.4 573.2L2214.7 578.2L2219.9 583L2224.9 587.4L2229.8 591.6L2234.7 595.6L2239.4 599.3L2244.1 602.9L2248.7 606.2L2253.3 609.4L2257.8 612.4L2262.3 615.3L2266.7 618L2276.4 619.5L2293.1 619.6L2343.5 619.6M1604.3 288.6L1655.2 290L1705.3 294.1L1753.6 300.8L1799.6 309.7L1842.6 320.5L1882.2 332.9L1918.2 346.4L1950.9 360.4L1980.2 374.7L2006.8 388.7L2030.2 402.7L2051.5 416L2070.2 429.2L2087.1 441.6L2102.1 453.6L2115.3 465L2127.1 475.9L2137.7 486.2L2147.3 495.9L2156.1 505L2164.2 513.5L2178.8 529L2185.4 536L2191.7 542.6L2197.8 548.7L2203.6 554.5L2209.2 560L2214.6 565.1L2219.9 569.9L2225 574.5L2230.1 578.8L2235 582.9L2239.9 586.7L2244.6 590.4L2249.3 593.9L2254 597.1L2258.6 600.3L2263.5 603.2L2276.3 604.1L2343.5 604.1M1604.3 275.6L1651.9 276.8L1698.9 280.4L1744.4 286.2L1788.1 294L1829.2 303.7L1867.6 314.9L1903 327.2L1935.3 340.2L1964.9 353.5L1991.5 367.1L2015.8 380.4L2037.3 393.8L2056.9 406.6L2074.4 419.1L2089.9 431.2L2103.8 442.9L2116.3 454.1L2127.5 464.7L2137.7 474.8L2147 484.2L2155.6 493.1L2163.6 501.5L2171.1 509.4L2178.2 516.8L2184.8 523.8L2191.2 530.3L2197.3 536.5L2203.2 542.3L2208.9 547.8L2214.4 552.9L2219.8 557.8L2225.1 562.4L2230.2 566.8L2235.2 570.9L2240.2 574.9L2245 578.6L2249.8 582.2L2254.6 585.5L2261.1 588.3L2276.3 588.7L2343.5 588.7M1604.3 263.9L1649.1 264.9L1693.2 268L1736.3 273.2L1777.8 280.2L1817.2 288.9L1854.2 299.1L1888.8 310.3L1920.8 322.3L1950 334.9L1977 347.6L2001.2 360.6L2023.4 373.4L2043.4 386L2061.4 398.5L2077.5 410.7L2091.9 422.4L2105 433.8L2116.8 444.6L2127.5 454.8L2137.4 464.6L2146.5 473.8L2155 482.5L2163 490.7L2170.4 498.4L2177.5 505.7L2184.2 512.5L2190.7 519L2196.9 525.1L2202.9 530.9L2208.6 536.4L2214.2 541.5L2219.7 546.4L2225 551.1L2230.3 555.5L2235.4 559.7L2240.4 563.7L2245.4 567.4L2250.2 571.1L2259.7 573.2L2276.3 573.3L2343.5 573.2M1604.3 253.4L1646.5 254.3L1688.2 257.1L1729 261.8L1768.5 268.2L1806.2 276.1L1842 285.2L1875.6 295.5L1906.9 306.6L1936 318.2L1962.6 330.4L1987.2 342.6L2009.7 355L2029.9 367.4L2048.3 379.7L2064.8 391.8L2079.8 403.5L2093.4 414.8L2105.7 425.7L2117.1 436.1L2127.5 446L2137.1 455.4L2146.1 464.3L2154.4 472.8L2162.3 480.7L2169.8 488.3L2176.9 495.4L2183.7 502.2L2190.2 508.5L2196.4 514.6L2202.5 520.3L2208.3 525.7L2214 530.9L2219.6 535.8L2225 540.4L2230.3 544.8L2235.5 549.1L2240.6 553.1L2246.2 556.7L2259.5 557.8L2343.5 557.8M1604.3 244.3L1644.2 245.2L1683.7 247.7L1722.4 251.9L1760 257.6L1796.2 264.8L1830.7 273.1L1863.4 282.4L1894 292.7L1922.5 303.6L1949.1 314.9L1973.7 326.5L1996.1 338.5L2016.6 350.5L2035.2 362.6L2052.1 374.4L2067.6 386L2081.6 397.3L2094.5 408.1L2106.3 418.6L2117.3 428.6L2127.4 438.1L2136.8 447.1L2145.6 455.7L2153.9 463.9L2161.8 471.6L2169.2 479L2176.3 485.9L2183.2 492.5L2189.7 498.8L2196 504.8L2202.1 510.4L2208.1 515.8L2213.8 520.9L2219.4 525.7L2224.9 530.4L2230.3 534.8L2235.6 539L2243.6 542.1L2259.5 542.4L2343.5 542.4M1604.3 236.4L1642.1 237.2L1679.6 239.5L1716.4 243.3L1752.3 248.4L1787 254.8L1820.3 262.4L1851.9 271L1881.8 280.4L1909.9 290.4L1936.1 301.1L1960.4 312.2L1982.8 323.7L2003.4 335.3L2022.3 347L2039.6 358.5L2055.4 369.9L2069.9 381L2083.2 391.8L2095.5 402.2L2106.9 412.1L2117.5 421.7L2127.3 430.8L2136.6 439.5L2145.3 447.8L2153.5 455.7L2161.3 463.2L2168.8 470.3L2175.9 477.1L2182.7 483.6L2189.3 489.7L2195.7 495.6L2201.8 501.1L2207.8 506.4L2213.7 511.5L2219.3 516.3L2224.9 520.9L2230.5 525.2L2242.7 526.9L2343.5 526.9M1604.3 229.5L1640.2 230.2L1675.9 232.2L1711 235.6L1745.3 240.2L1778.6 246.1L1810.6 252.9L1841.3 260.7L1870.4 269.4L1897.9 278.8L1923.7 288.9L1947.7 299.5L1970 310.4L1990.6 321.6L2009.7 332.8L2027.2 344L2043.3 355.1L2058.2 365.9L2071.9 376.5L2084.7 386.8L2096.5 396.7L2107.5 406.2L2117.7 415.4L2127.4 424.1L2136.5 432.5L2145 440.5L2153.2 448.1L2161 455.4L2168.4 462.3L2175.5 468.9L2182.4 475.2L2189 481.2L2195.4 486.9L2201.6 492.4L2207.6 497.6L2213.5 502.6L2219.3 507.3L2227.1 511L2242.7 511.5L2343.5 511.5M1604.3 223.3L1638.5 223.9L1672.5 225.7L1706 228.7L1738.9 232.9L1770.8 238.2L1801.7 244.4L1831.4 251.7L1859.7 259.7L1886.6 268.6L1911.9 278.1L1935.6 288.1L1957.7 298.5L1978.3 309.1L1997.4 319.9L2015.1 330.7L2031.5 341.4L2046.7 352L2060.8 362.4L2073.8 372.4L2086 382.2L2097.4 391.7L2108.1 400.8L2118.1 409.6L2127.5 417.9L2136.5 426L2144.9 433.7L2160.7 448.1L2168.1 454.8L2175.3 461.2L2182.1 467.3L2188.8 473.2L2195.2 478.8L2201.4 484.1L2207.5 489.3L2213.6 494.1L2225.9 496.1L2343.5 496.1M1604.3 217.6L1637 218.1L1669.4 219.8L1701.5 222.5L1733 226.3L1763.7 231.2L1793.5 236.9L1822.2 243.6L1849.7 251.2L1875.9 259.4L1900.7 268.3L1924 277.8L1945.9 287.6L1966.4 297.7L1985.6 308L2003.4 318.4L2020 328.8L2035.4 339.1L2049.8 349.2L2063.2 359L2075.7 368.7L2087.4 378L2098.4 387L2108.8 395.7L2118.5 404.1L2127.8 412.2L2136.6 419.9L2145 427.3L2153 434.4L2160.6 441.2L2168 447.7L2175.1 453.9L2182 459.9L2188.6 465.6L2195.1 471.1L2201.4 476.3L2210.1 480.2L2225.9 480.6L2343.5 480.6M1604.3 212.4L1635.6 212.9L1666.6 214.4L1697.4 216.9L1727.6 220.4L1757.1 224.8L1785.9 230.2L1813.6 236.4L1840.3 243.4L1865.8 251.1L1890.1 259.5L1913.1 268.4L1934.8 277.7L1955.1 287.3L1974.2 297.2L1992.1 307.1L2008.8 317.1L2024.4 327L2039 336.8L2052.7 346.5L2065.5 355.9L2077.5 365.1L2088.8 374L2099.5 382.6L2109.5 391L2119.1 399L2128.2 406.7L2136.8 414.1L2145.1 421.3L2153 428.1L2160.7 434.7L2168 441L2175.1 447.1L2181.9 452.9L2188.6 458.5L2195.6 463.5L2209.1 465.2L2343.5 465.2M1604.3 207.5L1634.3 208L1664.1 209.4L1693.6 211.7L1722.6 214.9L1751.1 219L1778.8 224L1805.7 229.8L1831.6 236.3L1856.5 243.6L1880.2 251.4L1902.8 259.8L1924.2 268.6L1944.4 277.8L1963.4 287.1L1981.2 296.7L1998 306.3L2013.8 315.8L2028.5 325.3L2042.4 334.7L2055.5 343.9L2067.7 352.9L2079.3 361.7L2090.2 370.2L2100.6 378.5L2110.4 386.4L2119.8 394.1L2128.7 401.6L2137.2 408.7L2145.4 415.6L2153.2 422.2L2160.8 428.6L2168.1 434.7L2175.2 440.6L2182 446.2L2192.6 449.6L2209.1 449.8L2343.5 449.8M1604.3 202.9L1633.1 203.4L1661.7 204.6L1690.1 206.8L1718 209.8L1745.5 213.6L1772.3 218.3L1798.3 223.7L1823.5 229.8L1847.7 236.6L1870.9 244L1893.1 251.9L1914.2 260.2L1934.1 268.9L1953 277.8L1970.8 287L1987.7 296.2L2003.5 305.4L2018.4 314.6L2032.4 323.7L2045.7 332.6L2058.2 341.4L2070 350L2081.1 358.4L2091.7 366.6L2101.8 374.5L2111.4 382.1L2120.6 389.5L2129.3 396.7L2137.7 403.6L2153.6 416.6L2161.1 422.8L2168.3 428.7L2177.1 433.4L2192.3 434.3L2343.5 434.3M1604.3 198.6L1632 199L1659.5 200.2L1686.9 202.2L1713.8 205L1740.3 208.6L1766.2 212.9L1791.5 218L1815.9 223.7L1839.5 230.1L1862.2 237.1L1884 244.6L1904.7 252.4L1924.4 260.7L1943.2 269.2L1960.9 277.9L1977.7 286.7L1993.6 295.6L2008.6 304.5L2022.7 313.3L2036.1 322L2048.8 330.6L2060.8 339L2072.2 347.3L2083 355.3L2093.3 363.1L2103.1 370.7L2112.5 378L2121.5 385.1L2130.1 392L2138.3 398.6L2154 411.2L2161.9 416.9L2175.5 418.9L2343.5 418.9M1604.3 194.4L1631 194.7L1657.5 195.9L1683.9 197.8L1709.9 200.4L1735.5 203.8L1760.6 207.8L1785.1 212.6L1808.9 218L1831.9 224L1854.1 230.6L1875.4 237.7L1895.8 245.1L1915.3 253L1933.8 261.1L1951.4 269.4L1968.2 277.9L1984 286.4L1999.1 295L2013.3 303.5L2026.9 312L2039.7 320.3L2051.8 328.6L2063.4 336.6L2074.4 344.5L2084.9 352.2L2094.9 359.7L2104.5 367L2113.6 374L2122.4 380.9L2130.9 387.5L2146.9 400.1L2158.9 403.3L2175.5 403.4L2343.5 403.4M1604.3 190.3L1630 190.7L1655.7 191.7L1681.2 193.5L1706.3 196L1731.1 199.2L1755.4 203L1779.2 207.5L1802.3 212.6L1824.8 218.3L1846.4 224.5L1867.3 231.2L1887.4 238.3L1906.6 245.7L1924.9 253.4L1942.4 261.4L1959.1 269.5L1974.9 277.7L1990 286L2004.3 294.2L2017.9 302.5L2030.8 310.6L2043.1 318.6L2054.8 326.5L2066 334.3L2076.6 341.8L2086.8 349.2L2096.6 356.4L2105.9 363.4L2114.9 370.2L2123.5 376.8L2131.9 383.2L2142.6 387.5L2158.7 388L2343.5 388M1604.3 186.4L1629.2 186.7L1654 187.7L1678.6 189.4L1703 191.7L1727 194.7L1750.6 198.4L1773.7 202.6L1796.2 207.4L1818.1 212.8L1839.3 218.7L1859.7 225L1879.4 231.8L1898.4 238.9L1916.5 246.2L1933.8 253.8L1950.4 261.6L1966.2 269.5L1981.2 277.5L1995.5 285.5L2009.2 293.4L2022.2 301.3L2034.6 309.2L2046.4 316.9L2057.7 324.5L2068.5 331.9L2078.9 339.2L2088.8 346.3L2098.3 353.2L2107.4 360L2116.2 366.5L2126.4 371.6L2141.9 372.6L2343.5 372.6M1604.3 182.5L1628.4 182.8L1652.4 183.8L1676.3 185.4L1699.9 187.6L1723.2 190.4L1746.1 193.9L1768.6 197.9L1790.5 202.5L1811.8 207.6L1832.6 213.1L1852.6 219.2L1872 225.6L1890.6 232.3L1908.5 239.4L1925.7 246.7L1942.1 254.1L1957.8 261.7L1972.8 269.4L1987.1 277.1L2000.8 284.8L2013.9 292.5L2026.4 300.1L2038.3 307.7L2049.7 315.1L2060.6 322.4L2071.1 329.6L2081.1 336.6L2090.8 343.4L2100 350.1L2110.1 355.7L2125.1 357.1L2343.5 357.1M1604.3 178.7L1627.7 179L1650.9 179.9L1674.1 181.4L1697 183.5L1719.6 186.2L1741.9 189.5L1763.8 193.3L1785.1 197.7L1806 202.5L1826.3 207.8L1845.9 213.6L1864.9 219.7L1883.3 226.1L1900.9 232.9L1917.9 239.8L1934.2 247L1949.8 254.3L1964.7 261.7L1979 269.2L1992.7 276.6L2005.8 284.1L2018.4 291.5L2030.4 298.9L2041.9 306.2L2052.9 313.3L2063.5 320.3L2073.6 327.2L2083.4 334L2093.6 339.9L2108.3 341.7L2343.5 341.7M1604.3 174.9L1627 175.2L1649.6 176.1L1672 177.5L1694.3 179.5L1716.3 182.1L1738 185.2L1759.3 188.9L1780.1 193L1800.5 197.6L1820.3 202.7L1839.6 208.1L1858.3 214L1876.3 220.1L1893.7 226.6L1910.5 233.3L1926.6 240.2L1942.1 247.2L1957 254.3L1971.3 261.6L1985 268.8L1998.1 276.1L2010.6 283.3L2022.7 290.5L2034.3 297.6L2045.4 304.6L2056 311.5L2066.3 318.3L2076.9 324.2L2091.5 326.3L2343.5 326.2M1604.3 171.2L1626.3 171.5L1648.3 172.3L1670.1 173.7L1691.8 175.6L1713.2 178.1L1734.3 181L1755.1 184.5L1775.4 188.5L1795.3 192.9L1814.8 197.7L1833.6 202.9L1852 208.5L1869.7 214.4L1886.9 220.6L1903.5 227L1919.5 233.6L1934.8 240.4L1949.6 247.3L1963.8 254.3L1977.5 261.3L1990.6 268.3L2003.2 275.4L2015.2 282.4L2026.9 289.3L2038 296.2L2048.8 303L2059.9 308.8L2074.7 310.8L2343.5 310.8M1604.3 167.6L1625.7 167.8L1647.1 168.6L1668.4 169.9L1689.4 171.8L1710.3 174.1L1730.9 176.9L1751.1 180.2L1771 184L1790.5 188.2L1809.5 192.8L1828 197.8L1846 203.2L1863.5 208.8L1880.4 214.8L1896.8 220.9L1912.6 227.3L1927.8 233.8L1942.5 240.5L1956.7 247.3L1970.3 254.1L1983.3 260.9L1995.9 267.8L2008 274.6L2019.7 281.4L2030.9 288.1L2042.7 293.7L2057.9 295.4L2343.5 295.4M1604.3 163.9L1625.2 164.2L1646 164.9L1666.7 166.2L1687.2 167.9L1707.6 170.2L1727.6 172.9L1747.4 176L1766.9 179.7L1785.9 183.7L1804.5 188.1L1822.7 192.9L1840.4 198L1857.6 203.5L1874.3 209.2L1890.4 215.1L1906.1 221.2L1921.2 227.5L1935.7 234L1949.8 240.5L1963.3 247.1L1976.4 253.8L1989 260.4L2001.1 267.1L2012.7 273.7L2025.4 278.7L2041.1 279.9L2343.5 279.9M1604.3 160.3L1624.6 160.5L1644.9 161.3L1665.1 162.5L1685.2 164.1L1705 166.3L1724.6 168.9L1743.9 171.9L1762.9 175.4L1781.6 179.2L1799.9 183.5L1817.7 188.1L1835.1 193L1852 198.2L1868.4 203.7L1884.4 209.4L1899.8 215.4L1914.8 221.4L1929.2 227.7L1943.2 234L1956.7 240.4L1969.7 246.9L1982.2 253.4L1994.3 259.9L2008 263.8L2024.3 264.5L2343.5 264.5M1604.3 156.7L1624.1 156.9L1643.9 157.6L1663.6 158.8L1683.2 160.4L1702.6 162.4L1721.7 164.9L1740.7 167.8L1759.3 171.2L1777.5 174.9L1795.4 178.9L1812.9 183.4L1830 188.1L1846.7 193.1L1862.9 198.4L1878.6 203.9L1893.9 209.6L1908.7 215.5L1923 221.6L1936.9 227.7L1950.3 233.9L1963.2 240.2L1976.1 246.1L1990.8 248.9L2007.5 249.1L2343.5 249.1M1604.3 153.1L1623.7 153.3L1643 154L1662.2 155.1L1681.4 156.6L1700.3 158.6L1719 161L1737.5 163.8L1755.8 167L1773.7 170.6L1791.2 174.5L1808.4 178.7L1825.2 183.3L1841.6 188.1L1857.6 193.2L1873.1 198.6L1888.2 204.1L1902.9 209.8L1917.1 215.6L1930.8 221.6L1944.1 227.6L1958.1 232.2L1973.9 233.6L2343.5 233.6M1604.3 149.5L1623.2 149.7L1642.1 150.4L1660.9 151.4L1679.6 152.9L1698.2 154.8L1716.5 157.1L1734.6 159.8L1752.5 162.9L1770 166.3L1787.3 170.1L1804.1 174.2L1820.7 178.6L1836.8 183.3L1852.6 188.2L1867.9 193.3L1882.8 198.7L1897.3 204.2L1911.4 209.9L1925.3 215.2L1940.5 217.9L1957.1 218.2L2343.5 218.2M1604.3 145.9L1622.8 146.1L1641.3 146.7L1659.7 147.8L1678 149.2L1696.1 151L1714.1 153.3L1731.8 155.9L1749.3 158.8L1766.6 162.1L1783.5 165.8L1800.1 169.7L1816.3 174L1832.2 178.5L1847.8 183.2L1862.9 188.2L1877.6 193.4L1892 198.6L1907.2 201.9L1923.5 202.7L2343.5 202.7M1604.3 142.3L1622.4 142.5L1640.5 143.1L1658.5 144.1L1676.4 145.5L1694.2 147.3L1711.8 149.4L1729.2 151.9L1746.4 154.8L1763.3 158L1779.9 161.5L1796.2 165.3L1812.2 169.4L1827.9 173.8L1843.2 178.4L1858.2 183.1L1873.6 186.2L1889.9 187.3L2343.5 187.3M1604.3 138.8L1622 139L1639.8 139.5L1657.4 140.5L1674.9 141.8L1692.4 143.5L1709.6 145.6L1726.7 148L1743.5 150.8L1760.1 153.9L1776.5 157.3L1792.5 161L1808.3 164.9L1823.9 168.7L1839.8 171.1L1856.3 171.9L2343.5 171.9M1604.3 135.2L1621.7 135.4L1639 136L1656.3 136.9L1673.5 138.2L1690.6 139.8L1707.5 141.8L1724.3 144.2L1740.8 146.8L1757.2 149.8L1773.3 152.8L1789.5 155L1806 156.2L1822.7 156.4L2343.5 156.4M1604.3 131.7L1621.3 131.8L1638.4 132.4L1655.3 133.3L1672.2 134.5L1689 136L1705.7 137.6L1722.3 139.1L1738.9 140.2L1755.5 140.9L1772.3 141L2343.5 141M1604.3 125L1621.1 125.1L1637.9 125.2L1654.7 125.4L1671.5 125.5L1688.3 125.6L2343.5 125.6M1604.3 110.1L2343.5 110.1M1604.3 94.7L2343.5 94.7" fill="none" stroke="#ee0000" stroke-width="2.9" stroke-linejoin="round" shape-rendering="crispEdges"/>
<rect x="1600.2" y="77.2" width="747.1" height="4.7" fill="#ee0000"/>
<rect x="2340.2" y="77.2" width="7.1" height="684.8" fill="#ee0000"/>
<path d="M1600.2 75H1608V762H1600.2ZM1600.2 757.1H2417V762H1600.2ZM1636.2 748.1H1639.5V758.1H1636.2ZM1669.8 748.1H1673.2V758.1H1669.8ZM1703.4 748.1H1706.8V758.1H1703.4ZM1734.9 740.1H1742.5V758.1H1734.9ZM1770.6 748.1H1774V758.1H1770.6ZM1804.2 748.1H1807.6V758.1H1804.2ZM1837.8 748.1H1841.2V758.1H1837.8ZM1869.3 740.1H1876.9V758.1H1869.3ZM1905 748.1H1908.4V758.1H1905ZM1938.6 748.1H1942V758.1H1938.6ZM1972.2 748.1H1975.6V758.1H1972.2ZM2003.7 740.1H2011.3V758.1H2003.7ZM2039.4 748.1H2042.8V758.1H2039.4ZM2073 748.1H2076.3V758.1H2073ZM2106.7 748.1H2110V758.1H2106.7ZM2138.1 740.1H2145.7V758.1H2138.1ZM2173.8 748.1H2177.2V758.1H2173.8ZM2207.4 748.1H2210.8V758.1H2207.4ZM2241 748.1H2244.3V758.1H2241ZM2272.5 740.1H2280.1V758.1H2272.5ZM2308.2 748.1H2311.6V758.1H2308.2ZM2341.8 748.1H2345.2V758.1H2341.8ZM2375.4 748.1H2378.8V758.1H2375.4ZM2406.9 740.1H2414.5V758.1H2406.9ZM1607 726.1H1614.4V729.1H1607ZM1607 695.2H1614.4V698.2H1607ZM1607 664.4H1614.4V667.4H1607ZM1607 631.5H1623V638.5H1607ZM1607 602.6H1614.4V605.6H1607ZM1607 571.8H1614.4V574.8H1607ZM1607 540.9H1614.4V543.9H1607ZM1607 508H1623V515H1607ZM1607 479.1H1614.4V482.1H1607ZM1607 448.2H1614.4V451.2H1607ZM1607 417.4H1614.4V420.4H1607ZM1607 384.5H1623V391.5H1607ZM1607 355.6H1614.4V358.6H1607ZM1607 324.7H1614.4V327.7H1607ZM1607 293.9H1614.4V296.9H1607ZM1607 261H1623V268H1607ZM1607 232.1H1614.4V235.1H1607ZM1607 201.2H1614.4V204.2H1607ZM1607 170.4H1614.4V173.4H1607ZM1607 137.5H1623V144.5H1607ZM1607 108.6H1614.4V111.6H1607Z" fill="#000"/>
<path d="M3104.7 756.2L3048.5 523.6L2919.1 435.1L2904.1 403L2888.1 373.8L2875.8 350.3L2869.1 330.6L2861.8 311.9L2855.7 295.2L2850.7 280.1L2846.4 266.4L2842.8 254.2L2839.6 243.1L2836.8 233.4L2834.3 225L2832.1 217.8L2830.1 211.3L2828.2 205.6L2826.6 200.3L2825.1 195.4L2823.7 190.8L2822.5 186.4L2821.3 182.2L2820.3 178.1L2819.3 174.2L2818.4 170.3L2817.6 166.4L2816.8 162.6L2816.1 158.9L2815.4 155.1L2814.8 151.4L2814.2 147.7L2813.6 144.1L2813.1 140.4L2812.6 136.7L2812.2 133.1L2811.8 129.4L2811.3 125.8L2811 122.1L2810.6 118.5L2810.2 114.8L2810 107.9L2810 92.6L2810 61M3154.8 756.2L3145.8 641.2L3072.1 502.1L2994.4 438.1L2978 402.3L2957.5 371.1L2941.3 344.9L2928.1 322.3L2916.7 303.5L2907.2 286.9L2899.1 272.1L2892 259L2885.9 247.2L2880.5 236.9L2875.6 228.1L2871.2 220.5L2867.2 213.7L2863.6 207.7L2860.3 202.2L2857.3 197.1L2854.6 192.3L2852.2 187.8L2849.9 183.5L2847.8 179.3L2845.9 175.3L2844.1 171.3L2842.4 167.4L2840.9 163.6L2839.5 159.8L2838.1 156L2836.9 152.2L2835.7 148.5L2834.6 144.8L2833.6 141.1L2832.6 137.4L2831.7 133.7L2830.9 130L2830.1 126.4L2829.3 122.7L2828.5 119L2827.9 115.4L2827.4 108L2827.4 92.6L2827.4 61M3200 756.2L3181.1 654.8L3142.5 572.7L3089.6 486.3L3053.6 435.3L3027.3 396.2L3006.8 363.8L2989.2 337.5L2974 315.7L2960.8 297.2L2949.4 280.8L2939.5 266.5L2930.8 253.7L2923 242.7L2915.9 233.2L2909.5 224.9L2903.7 217.6L2898.4 211.1L2889.2 199.8L2885.2 194.8L2881.6 190.1L2878.2 185.7L2875.1 181.3L2872.2 177.2L2869.6 173.1L2867.1 169.1L2864.8 165.2L2862.7 161.3L2860.7 157.4L2858.9 153.6L2857.2 149.8L2855.5 146L2854 142.3L2852.6 138.5L2851.2 134.8L2849.9 131.1L2848.7 127.4L2847.5 123.7L2846.4 120L2845.4 116.3L2844.8 108.2L2844.7 92.6L2844.7 61M3223.7 756.2L3213.3 669.4L3182 587.7L3145.7 519L3113.2 464.8L3086.9 420.6L3064.7 384.1L3044.1 355.3L3026.3 330.8L3010.7 310L2996.8 292L2984.6 276.2L2973.7 262.3L2963.8 250.3L2954.9 239.9L2946.7 230.8L2939.3 222.9L2932.5 215.8L2926.3 209.4L2920.6 203.7L2915.3 198.3L2910.5 193.4L2906.1 188.6L2902.1 184.1L2898.3 179.8L2894.8 175.5L2891.6 171.4L2888.6 167.3L2885.8 163.3L2883.2 159.4L2880.7 155.5L2878.4 151.6L2876.3 147.8L2874.2 143.9L2872.3 140.1L2870.5 136.3L2868.8 132.6L2867.2 128.8L2865.7 125L2864.2 121.3L2862.9 117.6L2862.1 108.4L2862.1 92.6L2862.1 61M3246.6 756.2L3239.1 680.6L3216.2 606.3L3188.7 542.8L3161.8 488.7L3137.7 442.5L3113.8 405.5L3092.8 373.9L3073.4 347.6L3056.2 324.7L3040.8 305L3026.9 287.7L3014.3 272.5L3002.8 259.4L2992.3 248.1L2982.6 238.1L2973.7 229.4L2965.6 221.6L2958.1 214.7L2951.2 208.5L2944.8 202.8L2939 197.4L2933.6 192.4L2928.6 187.7L2924 183.1L2919.7 178.7L2915.7 174.4L2912 170.1L2908.5 166L2905.3 161.9L2902.3 157.9L2899.5 153.9L2896.8 150L2894.3 146.1L2891.9 142.2L2889.7 138.3L2887.6 134.4L2885.6 130.6L2883.7 126.8L2881.9 123L2880.2 119.1L2879.5 108.4L2879.5 61M3266.8 756.2L3260.8 686.7L3245 621L3224.3 561.5L3202 508.9L3178.4 464.2L3156.4 425.5L3135 393L3115.6 364.7L3097.5 340.4L3081.1 319L3066.2 300.3L3052.3 284L3039.6 269.7L3027.8 257.4L3016.9 246.5L3006.8 237L2997.5 228.5L2988.9 221L2980.9 214.2L2973.5 208.1L2966.7 202.4L2960.4 197L2954.5 192L2949.1 187.1L2944.1 182.4L2939.4 177.9L2935.1 173.5L2931 169.2L2927.2 165L2923.6 160.8L2920.3 156.7L2917.1 152.6L2914.1 148.6L2911.3 144.6L2908.7 140.7L2906.2 136.7L2903.8 132.8L2901.6 128.9L2899.4 125L2897.5 120.7L2896.9 108.4L2896.9 61M3285.6 756.2L3281.4 693.3L3269.9 633.1L3253.2 577.5L3233.7 527.6L3213.2 483.3L3192.1 445L3172.1 411.2L3152.7 382.1L3134.8 356.2L3117.9 333.7L3102.3 313.8L3087.7 296.3L3074.1 281L3061.4 267.5L3049.5 255.9L3038.4 245.4L3028.1 236.3L3018.5 228.1L3009.6 220.9L3001.3 214.2L2993.6 208.1L2986.5 202.3L2979.9 196.9L2973.7 191.8L2968 186.9L2962.6 182.1L2957.7 177.5L2953 173L2948.7 168.6L2944.6 164.2L2940.7 160L2937.1 155.8L2933.7 151.6L2930.5 147.5L2927.4 143.4L2924.5 139.4L2921.8 135.4L2919.2 131.4L2916.8 127.4L2914.7 122.2L2914.3 108.4L2914.3 61M3302.9 756.2L3299.7 698.8L3290.6 643.4L3277.2 591.3L3260.6 543.8L3242.2 501L3223.3 462.6L3204.2 428.9L3185.9 398.7L3168.1 372.2L3151.5 348.4L3135.5 327.7L3120.5 309.1L3106.3 292.9L3092.8 278.6L3080.3 266L3068.5 254.7L3057.3 244.9L3046.9 236.1L3037.2 228.3L3028.1 221.1L3019.6 214.5L3011.8 208.4L3004.4 202.6L2997.6 197.1L2991.3 191.9L2985.3 186.8L2979.8 182L2974.6 177.2L2969.7 172.6L2965.1 168.1L2960.8 163.7L2956.8 159.3L2952.9 155L2949.3 150.8L2945.9 146.6L2942.7 142.4L2939.6 138.3L2936.7 134.2L2933.9 130.2L2931.8 123.4L2931.7 108.4L2931.7 61M3318.9 756.2L3316.4 703.4L3308.9 652L3297.6 603.3L3283.5 558L3267.3 516.6L3250 479.1L3232.6 445.1L3215 414.9L3198.2 387.5L3181.6 363.4L3165.9 341.5L3150.6 322.4L3136.1 305.2L3122.2 290.1L3109.2 276.6L3096.8 264.7L3085 254.2L3073.9 244.8L3063.5 236.4L3053.8 228.7L3044.7 221.6L3036.2 215L3028.2 208.8L3020.8 203L3013.9 197.4L3007.4 192.1L3001.4 187L2995.7 182L2990.3 177.1L2985.3 172.4L2980.5 167.8L2976.1 163.3L2971.8 158.8L2967.8 154.4L2964.1 150.1L2960.5 145.8L2957.1 141.6L2953.8 137.4L2950.8 133.2L2949.1 124.1L2949 108.4L2949 61M3333.5 756.2L3331.4 707.3L3325.2 659.4L3315.6 613.7L3303.3 570.6L3289 530.6L3273.5 493.9L3257.4 460.5L3241.2 430L3224.8 402.6L3209 377.7L3193.3 355.6L3178.3 335.5L3163.5 317.9L3149.6 301.9L3136.2 287.7L3123.3 275.2L3111.1 264.1L3099.5 254.1L3088.5 245.1L3078.3 236.9L3068.6 229.3L3051.2 215.6L3043.2 209.4L3035.8 203.5L3028.9 197.9L3022.3 192.4L3016.2 187.2L3010.4 182.1L3004.9 177.2L2999.8 172.3L2995 167.6L2990.4 163L2986 158.4L2981.9 154L2978 149.5L2974.3 145.2L2970.7 140.9L2967.5 136.3L2966.4 124.2L2966.4 61M3346.7 756.2L3344.9 710.6L3339.7 665.8L3331.4 622.7L3320.7 581.7L3308.1 543.3L3294.1 507.6L3279.3 474.7L3264 444.5L3248.8 416.9L3233.3 392L3218.4 369.2L3203.3 349L3188.9 330.5L3174.9 314L3161.2 299.3L3148.1 286.2L3135.5 274.5L3123.6 263.9L3112.3 254.3L3101.6 245.5L3091.5 237.5L3082.1 230L3073.2 222.9L3064.8 216.3L3057 210L3049.6 204.1L3042.6 198.3L3036.1 192.8L3029.9 187.5L3024.1 182.3L3018.6 177.3L3013.4 172.3L3008.5 167.5L3003.8 162.8L2999.4 158.2L2995.2 153.6L2991.2 149.1L2987.4 144.6L2984.3 138.5L2983.8 124.2L2983.8 61M3358.6 756.2L3357.1 713.5L3352.6 671.4L3345.4 630.6L3336 591.6L3324.8 554.7L3312.1 520.1L3298.5 487.9L3284.4 458.2L3269.9 430.8L3255.4 405.6L3240.6 382.9L3226.2 362L3212 343.2L3198 326.3L3184.3 311.1L3171.1 297.5L3158.4 285.2L3146.2 274.1L3134.6 263.9L3123.7 254.6L3113.3 246.1L3103.5 238.1L3094.3 230.6L3085.6 223.6L3077.3 217L3069.6 210.7L3062.3 204.6L3055.4 198.8L3048.9 193.2L3042.7 187.8L3036.9 182.5L3031.4 177.4L3026.2 172.4L3021.2 167.5L3016.5 162.7L3012 157.9L3007.7 153.3L3003.7 148.7L3001.3 139.8L3001.2 124.2L3001.2 61M3369.1 756.2L3367.8 716L3363.9 676.3L3357.6 637.7L3349.2 600.5L3339.1 565.1L3327.8 531.7L3315.4 500.3L3302.3 471.1L3288.8 444L3274.8 419L3260.9 396L3247 375L3233 355.9L3219.2 338.6L3205.6 323.1L3192.4 309L3179.6 296.2L3167.4 284.5L3155.7 273.9L3144.5 264.1L3133.9 255L3123.9 246.6L3114.4 238.7L3096.9 224.3L3088.9 217.6L3081.3 211.2L3074.1 205.1L3067.3 199.3L3060.8 193.6L3054.7 188.1L3048.9 182.7L3043.4 177.5L3038.2 172.4L3033.2 167.4L3028.4 162.6L3023.9 157.8L3019.8 152.5L3018.6 140L3018.6 61M3378.1 756.2L3377 718.3L3373.5 680.8L3368 644.1L3360.6 608.7L3351.6 574.7L3341.4 542.4L3330.2 511.9L3318 483.3L3305.3 456.6L3292.4 431.7L3279.1 408.7L3265.6 387.7L3252 368.5L3238.4 351L3225.1 335L3212 320.5L3199.4 307.2L3187.1 295.1L3175.4 284L3164.2 273.7L3153.5 264.2L3143.3 255.3L3133.6 247L3124.4 239.2L3115.7 231.8L3107.4 224.8L3099.5 218.2L3092.1 211.8L3085 205.6L3078.3 199.7L3072 193.9L3065.9 188.4L3060.2 182.9L3054.7 177.7L3049.5 172.5L3044.5 167.4L3039.8 162.5L3036.3 155L3036 140L3036 61M3386 756.2L3385 720.3L3382 684.8L3377.1 649.9L3370.6 616.1L3362.6 583.5L3353.3 552.3L3343 522.7L3331.9 494.7L3320.3 468.4L3308 443.9L3295.3 421.1L3282.3 400.1L3269.1 380.8L3256 363.1L3242.9 346.9L3230.1 332L3217.7 318.3L3205.6 305.8L3193.9 294.2L3182.6 283.5L3171.9 273.5L3161.6 264.3L3151.8 255.6L3142.5 247.4L3133.6 239.6L3125.1 232.3L3117.1 225.3L3109.4 218.6L3102.2 212.2L3095.3 206L3088.7 200L3082.4 194.2L3076.4 188.6L3070.8 183.1L3065.3 177.8L3060.2 172.5L3055.3 167.2L3053.3 155.8L3053.3 61M3392.9 756.2L3392 722.1L3389.4 688.4L3385.1 655.2L3379.3 622.9L3372.1 591.6L3363.8 561.5L3354.5 532.7L3344.3 505.5L3333.3 479.7L3321.7 455.6L3309.7 433.1L3297.3 412.2L3284.6 392.8L3271.9 375L3259.3 358.5L3246.8 343.3L3234.6 329.3L3222.7 316.4L3211.1 304.4L3200 293.3L3189.3 283L3179 273.3L3169.1 264.2L3159.7 255.7L3150.7 247.6L3142.1 239.9L3133.9 232.6L3126.1 225.7L3118.7 219L3111.6 212.5L3104.8 206.3L3098.4 200.3L3092.2 194.4L3086.4 188.8L3080.8 183.2L3075.4 177.8L3071.3 170.5L3070.7 155.8L3070.7 61M3399.2 756.2L3398.4 723.8L3396.1 691.7L3392.3 660L3387.1 629L3380.7 599L3373.2 569.9L3364.6 542.1L3355.1 515.6L3344.9 490.4L3334 466.7L3322.6 444.5L3310.8 423.7L3298.7 404.4L3286.5 386.5L3274.3 369.8L3262.2 354.4L3250.3 340.1L3238.7 326.9L3227.3 314.6L3216.3 303.1L3205.6 292.4L3195.4 282.4L3185.5 273L3176.1 264.1L3167 255.7L3158.4 247.7L3142.2 232.9L3134.6 225.9L3127.4 219.2L3120.5 212.8L3113.9 206.5L3107.6 200.5L3101.5 194.6L3095.8 188.9L3090.3 183.1L3088.1 171.6L3088.1 61M3404.9 756.2L3404.2 725.3L3402.1 694.6L3398.8 664.4L3394.1 634.7L3388.3 605.8L3381.4 577.8L3373.5 550.8L3364.8 525.1L3355.2 500.5L3345 477.3L3334.2 455.4L3323 434.8L3311.5 415.5L3299.9 397.6L3288.1 380.8L3276.5 365.3L3264.9 350.8L3253.5 337.2L3242.4 324.6L3231.6 312.9L3221.1 301.8L3210.9 291.5L3201.1 281.8L3191.7 272.6L3182.6 263.9L3173.9 255.6L3165.5 247.7L3157.5 240.2L3149.9 233L3142.6 226L3135.5 219.4L3128.8 212.9L3122.4 206.7L3116.2 200.6L3110.3 194.7L3106 186.5L3105.5 171.6L3105.5 61M3410.2 756.2L3409.6 726.7L3407.7 697.3L3404.7 668.4L3400.5 639.9L3395.2 612.1L3388.8 585.1L3381.6 559L3373.4 533.9L3364.5 510L3354.9 487.2L3344.7 465.6L3334.2 445.3L3323.2 426.2L3312.1 408.2L3300.9 391.5L3289.6 375.8L3278.4 361.1L3267.4 347.4L3256.5 334.5L3245.9 322.5L3235.6 311.2L3225.5 300.5L3215.8 290.5L3206.5 281L3197.4 272L3188.7 263.5L3180.3 255.4L3172.3 247.6L3164.6 240.1L3157.2 233L3150.1 226.1L3143.3 219.4L3136.7 212.9L3130.4 206.7L3124.7 200.1L3122.9 187.4L3122.9 61M3415.2 756.2L3414.6 727.9L3413 699.8L3410.2 672L3406.3 644.6L3401.5 617.8L3395.6 591.8L3388.9 566.5L3381.3 542.2L3373 518.8L3364 496.5L3354.4 475.3L3344.4 455.3L3334 436.3L3323.4 418.5L3312.7 401.7L3301.8 385.9L3291 371.1L3280.3 357.2L3269.8 344.2L3259.4 331.9L3249.3 320.3L3239.4 309.5L3229.8 299.2L3220.5 289.4L3211.5 280.2L3202.9 271.4L3194.5 263L3186.5 255L3178.7 247.3L3171.3 239.9L3164.1 232.8L3157.2 226L3150.6 219.3L3144.2 212.9L3140.4 202.9L3140.2 187.4L3140.2 61M3420 756.2L3419.5 729.1L3417.9 702.1L3415.4 675.3L3411.8 649L3407.3 623.2L3401.9 598L3395.6 573.5L3388.5 549.8L3380.7 527.1L3372.3 505.3L3363.3 484.5L3353.8 464.7L3344 445.9L3333.9 428.2L3323.6 411.4L3313.2 395.6L3302.8 380.8L3292.5 366.8L3282.2 353.5L3272.1 341.1L3262.2 329.4L3252.5 318.3L3243.1 307.7L3233.9 297.8L3225 288.3L3216.4 279.3L3208.1 270.7L3200 262.4L3192.3 254.5L3184.8 246.9L3177.6 239.6L3170.6 232.6L3164 225.7L3158.6 217.5L3157.6 203.2L3157.6 61M3424.6 756.2L3424.1 730.1L3422.7 704.1L3420.3 678.4L3417 653L3412.8 628.1L3407.8 603.7L3401.9 580L3395.3 557L3388 534.8L3380 513.5L3371.5 493.1L3362.6 473.6L3353.3 455.1L3343.6 437.5L3333.8 420.8L3323.9 405L3313.8 390.1L3303.8 376L3293.9 362.7L3284.1 350.1L3274.4 338.2L3264.9 326.9L3255.7 316.2L3246.6 306L3237.8 296.3L3229.3 287.1L3221 278.3L3213 269.8L3205.3 261.7L3197.8 253.9L3183.6 239.2L3177.3 231.7L3175 219L3175 61M3429 756.2L3428.6 731.1L3427.2 706L3425 681.2L3422 656.7L3418.1 632.6L3413.4 609L3407.9 586L3401.7 563.6L3394.8 542L3387.3 521.2L3379.3 501.2L3370.8 482L3361.9 463.7L3352.8 446.3L3343.4 429.7L3333.8 414L3324.2 399L3314.6 384.9L3304.9 371.5L3295.4 358.8L3286 346.7L3276.7 335.3L3267.6 324.4L3258.7 314.1L3250.1 304.2L3241.6 294.8L3233.4 285.8L3225.5 277.2L3217.8 268.9L3210.3 260.9L3196.2 245.9L3192.5 234.6L3192.4 219L3192.4 61M3433.3 756.2L3432.9 731.9L3431.7 707.8L3429.6 683.8L3426.8 660.1L3423.1 636.8L3418.7 613.9L3413.5 591.6L3407.7 569.8L3401.2 548.8L3394.1 528.4L3386.6 508.8L3378.5 489.9L3370.1 471.9L3361.4 454.6L3352.4 438.2L3343.2 422.5L3334 407.6L3324.7 393.5L3315.4 380L3306.1 367.2L3296.9 355.1L3287.9 343.5L3279 332.5L3270.3 322L3261.8 312L3253.4 302.4L3245.3 293.2L3237.5 284.4L3229.8 276L3222.4 267.9L3215.2 260L3210.3 249.9L3209.8 234.8L3209.8 61M3437.6 756.2L3437.2 732.8L3436.1 709.4L3434.1 686.2L3431.4 663.3L3428 640.7L3423.8 618.5L3419 596.8L3413.5 575.6L3407.3 555L3400.6 535.1L3393.5 515.9L3385.8 497.4L3377.8 479.6L3369.5 462.6L3360.9 446.3L3352.1 430.7L3343.2 415.9L3334.3 401.7L3325.3 388.2L3316.3 375.4L3307.4 363.2L3298.5 351.5L3289.9 340.4L3281.3 329.8L3272.9 319.6L3264.7 309.9L3256.7 300.6L3248.9 291.6L3241.4 283L3234 274.8L3228.3 265.2L3227.2 250.6L3227.2 61M3441.8 756.2L3441.4 733.5L3440.3 710.9L3438.5 688.5L3436 666.2L3432.7 644.3L3428.8 622.8L3424.2 601.6L3419 581L3413.2 560.9L3406.9 541.5L3400 522.6L3392.8 504.4L3385.1 486.9L3377.2 470.1L3369 454L3360.6 438.5L3352 423.7L3343.3 409.6L3334.7 396.1L3326 383.3L3317.3 371L3308.7 359.3L3300.2 348L3291.8 337.3L3283.6 327L3275.6 317.2L3267.7 307.8L3260 298.7L3252.5 290L3246.2 280.5L3244.5 266.4L3244.5 61M3446 756.2L3445.6 734.2L3444.6 712.3L3442.8 690.5L3440.4 669L3437.4 647.7L3433.6 626.7L3429.3 606.2L3424.4 586.1L3418.9 566.5L3412.8 547.4L3406.3 528.9L3399.4 511.1L3392.1 493.8L3384.5 477.2L3376.7 461.3L3368.6 445.9L3360.4 431.3L3352 417.2L3343.6 403.8L3335.2 390.9L3326.8 378.6L3318.4 366.8L3310.1 355.5L3301.9 344.7L3293.9 334.3L3286 324.4L3278.2 314.8L3270.6 305.6L3264 296L3261.9 282.2L3261.9 61M3450.1 756.2L3449.8 734.9L3448.8 713.6L3447.1 692.5L3444.8 671.5L3441.9 650.8L3438.4 630.4L3434.3 610.4L3429.6 590.8L3424.3 571.6L3418.6 553L3412.4 534.9L3405.8 517.3L3398.9 500.4L3391.6 484L3384 468.2L3376.3 453L3368.3 438.5L3360.3 424.5L3352.2 411.1L3344 398.2L3335.8 385.9L3327.7 374L3319.6 362.7L3311.6 351.8L3303.7 341.4L3295.9 331.4L3288.3 321.7L3281.6 311.7L3279.3 298L3279.3 61M3454.2 756.2L3453.9 735.5L3452.9 714.8L3451.4 694.3L3449.2 673.9L3446.4 653.7L3443 633.9L3439.1 614.4L3434.6 595.2L3429.7 576.5L3424.2 558.2L3418.3 540.5L3412 523.2L3405.3 506.5L3398.3 490.4L3391.1 474.8L3383.6 459.8L3376 445.3L3368.2 431.4L3360.4 418.1L3352.5 405.2L3344.5 392.9L3336.6 381.1L3328.7 369.7L3320.9 358.8L3313.2 348.3L3305.5 338.2L3298.9 327.7L3296.7 313.8L3296.7 61M3458.2 756.2L3457.9 736L3457 715.9L3455.6 695.9L3453.5 676.1L3450.8 656.5L3447.6 637.1L3443.9 618.1L3439.6 599.4L3434.8 581.1L3429.6 563.2L3424 545.8L3417.9 528.8L3411.6 512.4L3404.9 496.5L3397.9 481.1L3390.7 466.2L3383.4 451.9L3375.9 438.1L3368.3 424.8L3360.6 412L3352.9 399.7L3345.2 387.9L3337.5 376.5L3329.8 365.5L3322.3 355L3316 343.9L3314.1 329.6L3314.1 61M3462.3 756.2L3462 736.6L3461.1 717L3459.7 697.5L3457.7 678.2L3455.2 659.1L3452.1 640.2L3448.6 621.6L3444.5 603.3L3439.9 585.4L3434.9 567.9L3429.5 550.8L3423.7 534.1L3417.6 518L3411.2 502.3L3404.5 487.1L3397.6 472.4L3390.5 458.2L3383.2 444.5L3375.8 431.3L3368.4 418.5L3360.9 406.3L3353.4 394.4L3345.9 383.1L3338.4 372.1L3332.8 360.2L3331.5 345.4L3331.5 61M3466.3 756.2L3466.1 737.1L3465.2 718L3463.9 699L3462 680.1L3459.6 661.5L3456.6 643L3453.2 624.9L3449.3 607L3444.9 589.4L3440.1 572.3L3434.9 555.5L3429.4 539.1L3423.5 523.2L3417.3 507.8L3410.9 492.8L3404.2 478.2L3397.3 464.2L3390.3 450.6L3383.2 437.5L3376 424.8L3368.7 412.6L3361.4 400.8L3354.1 389.4L3349.6 376.5L3348.8 361.2L3348.8 61M3470.4 756.2L3470.1 737.5L3469.3 718.9L3468 700.4L3466.2 682L3463.9 663.8L3461 645.7L3457.8 628L3454 610.5L3449.8 593.3L3445.2 576.4L3440.2 560L3434.9 543.9L3429.2 528.2L3423.3 513L3417.1 498.2L3410.6 483.8L3404 469.9L3397.2 456.4L3390.3 443.4L3383.3 430.8L3376.2 418.6L3369.6 406.6L3366.4 392.7L3366.2 377L3366.2 61M3474.4 756.2L3474.1 738L3473.4 719.8L3472.1 701.7L3470.4 683.7L3468.1 665.9L3465.4 648.3L3462.3 630.9L3458.7 613.7L3454.7 596.9L3450.2 580.4L3445.4 564.2L3440.3 548.4L3434.8 533L3429.1 518L3423.1 503.4L3416.9 489.2L3410.4 475.4L3403.9 462.1L3397.2 449.1L3390.3 436.6L3385.2 423.5L3383.6 408.6L3383.6 61M3478.4 756.2L3478.2 738.4L3477.4 720.6L3476.2 702.9L3474.5 685.4L3472.4 667.9L3469.8 650.7L3466.8 633.6L3463.3 616.9L3459.4 600.3L3455.2 584.1L3450.5 568.2L3445.6 552.7L3440.3 537.5L3434.8 522.7L3429 508.3L3422.9 494.3L3416.7 480.6L3410.4 467.4L3404.4 454.3L3401.3 440L3401 424.4L3401 61M3482.4 756.2L3482.2 738.8L3481.5 721.4L3480.3 704.1L3478.7 686.9L3476.6 669.8L3474.1 653L3471.2 636.3L3467.9 619.8L3464.1 603.6L3460 587.7L3455.6 572.1L3450.8 556.8L3445.7 541.8L3440.3 527.2L3434.7 513L3428.9 499.1L3423.1 485.6L3419.4 471.4L3418.4 456L3418.4 61M3486.4 756.2L3486.2 739.2L3485.5 722.2L3484.4 705.2L3482.8 688.4L3480.8 671.7L3478.4 655.1L3475.6 638.7L3472.4 622.6L3468.8 606.7L3464.8 591.1L3460.5 575.7L3455.9 560.7L3451 545.9L3445.8 531.5L3440.5 517.4L3437 502.9L3435.8 487.6L3435.8 61M3490.4 756.2L3490.2 739.5L3489.6 722.9L3488.5 706.3L3487 689.8L3485 673.4L3482.7 657.2L3480 641.1L3476.9 625.3L3473.4 609.6L3469.6 594.3L3465.4 579.2L3460.9 564.4L3456.7 549.7L3454 534.7L3453.1 519.2L3453.1 61M3494.4 756.2L3494.2 739.8L3493.6 723.5L3492.5 707.3L3491.1 691.1L3489.2 675L3487 659.1L3484.3 643.3L3481.3 627.8L3478 612.4L3474.6 597.2L3472.1 582L3470.7 566.5L3470.5 550.8L3470.5 61M3498.4 756.2L3498.2 740.2L3497.6 724.2L3496.6 708.2L3495.2 692.3L3493.5 676.6L3491.7 660.9L3490.1 645.3L3488.8 629.6L3488 614L3487.9 598.2L3487.9 61M3505.9 756.2L3505.8 740.4L3505.7 724.6L3505.5 708.8L3505.3 693L3505.3 677.2L3505.3 61M3522.7 756.2L3522.7 61M3540 756.2L3540 61M2792.6 472.5L3048.5 523.6L3145.8 641.2L3181.1 654.8L3213.3 669.4L3239.1 680.6L3260.8 686.7L3281.4 693.3L3299.7 698.8L3316.4 703.4L3331.4 707.3L3344.9 710.6L3357.1 713.5L3367.8 716L3377 718.3L3385 720.3L3392 722.1L3398.4 723.8L3404.2 725.3L3409.6 726.7L3414.6 727.9L3419.5 729.1L3424.1 730.1L3428.6 731.1L3432.9 731.9L3437.2 732.8L3441.4 733.5L3445.6 734.2L3449.8 734.9L3453.9 735.5L3457.9 736L3462 736.6L3466.1 737.1L3470.1 737.5L3474.1 738L3478.2 738.4L3482.2 738.8L3486.2 739.2L3490.2 739.5L3494.2 739.8L3498.2 740.2L3505.8 740.4L3522.7 740.4L3557.4 740.4M2792.6 426.9L2919.1 435.1L3072.1 502.1L3142.5 572.7L3182 587.7L3216.2 606.3L3245 621L3269.9 633.1L3290.6 643.4L3308.9 652L3325.2 659.4L3339.7 665.8L3352.6 671.4L3363.9 676.3L3373.5 680.8L3382 684.8L3389.4 688.4L3396.1 691.7L3402.1 694.6L3407.7 697.3L3413 699.8L3417.9 702.1L3422.7 704.1L3427.2 706L3431.7 707.8L3436.1 709.4L3440.3 710.9L3444.6 712.3L3448.8 713.6L3452.9 714.8L3457 715.9L3461.1 717L3465.2 718L3469.3 718.9L3473.4 719.8L3477.4 720.6L3481.5 721.4L3485.5 722.2L3489.6 722.9L3493.6 723.5L3497.6 724.2L3505.7 724.6L3522.7 724.6L3557.4 724.6M2792.6 385.9L2904.1 403L2994.4 438.1L3089.6 486.3L3145.7 519L3188.7 542.8L3224.3 561.5L3253.2 577.5L3277.2 591.3L3297.6 603.3L3315.6 613.7L3331.4 622.7L3345.4 630.6L3357.6 637.7L3368 644.1L3377.1 649.9L3385.1 655.2L3392.3 660L3404.7 668.4L3410.2 672L3415.4 675.3L3420.3 678.4L3425 681.2L3429.6 683.8L3434.1 686.2L3438.5 688.5L3442.8 690.5L3447.1 692.5L3451.4 694.3L3455.6 695.9L3459.7 697.5L3463.9 699L3468 700.4L3472.1 701.7L3476.2 702.9L3480.3 704.1L3484.4 705.2L3488.5 706.3L3492.5 707.3L3496.6 708.2L3505.5 708.8L3522.7 708.8L3557.4 708.8M2792.6 364.4L2888.1 373.8L2978 402.3L3053.6 435.3L3113.2 464.8L3161.8 488.7L3202 508.9L3233.7 527.6L3260.6 543.8L3283.5 558L3303.3 570.6L3320.7 581.7L3336 591.6L3349.2 600.5L3360.6 608.7L3370.6 616.1L3379.3 622.9L3387.1 629L3394.1 634.7L3400.5 639.9L3406.3 644.6L3411.8 649L3417 653L3422 656.7L3426.8 660.1L3431.4 663.3L3436 666.2L3440.4 669L3444.8 671.5L3449.2 673.9L3453.5 676.1L3457.7 678.2L3462 680.1L3466.2 682L3470.4 683.7L3474.5 685.4L3478.7 686.9L3482.8 688.4L3487 689.8L3491.1 691.1L3495.2 692.3L3505.3 693L3522.7 693L3557.4 693M2792.6 343.5L2875.8 350.3L2957.5 371.1L3027.3 396.2L3086.9 420.6L3137.7 442.5L3178.4 464.2L3213.2 483.3L3242.2 501L3267.3 516.6L3289 530.6L3308.1 543.3L3324.8 554.7L3339.1 565.1L3351.6 574.7L3362.6 583.5L3372.1 591.6L3380.7 599L3388.3 605.8L3395.2 612.1L3401.5 617.8L3407.3 623.2L3412.8 628.1L3418.1 632.6L3423.1 636.8L3428 640.7L3432.7 644.3L3437.4 647.7L3441.9 650.8L3446.4 653.7L3450.8 656.5L3455.2 659.1L3459.6 661.5L3463.9 663.8L3468.1 665.9L3472.4 667.9L3476.6 669.8L3480.8 671.7L3485 673.4L3489.2 675L3493.5 676.6L3505.3 677.2L3557.4 677.2M2792.6 325.2L2869.1 330.6L2941.3 344.9L3006.8 363.8L3064.7 384.1L3113.8 405.5L3156.4 425.5L3192.1 445L3223.3 462.6L3250 479.1L3273.5 493.9L3294.1 507.6L3312.1 520.1L3327.8 531.7L3341.4 542.4L3353.3 552.3L3363.8 561.5L3373.2 569.9L3381.4 577.8L3388.8 585.1L3395.6 591.8L3401.9 598L3407.8 603.7L3413.4 609L3418.7 613.9L3423.8 618.5L3428.8 622.8L3433.6 626.7L3438.4 630.4L3443 633.9L3447.6 637.1L3452.1 640.2L3456.6 643L3461 645.7L3465.4 648.3L3469.8 650.7L3474.1 653L3478.4 655.1L3482.7 657.2L3487 659.1L3491.7 660.9L3505.3 661.4L3557.4 661.4M2792.6 308.1L2861.8 311.9L2928.1 322.3L2989.2 337.5L3044.1 355.3L3092.8 373.9L3135 393L3172.1 411.2L3204.2 428.9L3232.6 445.1L3257.4 460.5L3279.3 474.7L3298.5 487.9L3315.4 500.3L3330.2 511.9L3343 522.7L3354.5 532.7L3364.6 542.1L3373.5 550.8L3381.6 559L3388.9 566.5L3395.6 573.5L3401.9 580L3407.9 586L3413.5 591.6L3419 596.8L3424.2 601.6L3429.3 606.2L3434.3 610.4L3439.1 614.4L3443.9 618.1L3448.6 621.6L3453.2 624.9L3457.8 628L3462.3 630.9L3466.8 633.6L3471.2 636.3L3475.6 638.7L3480 641.1L3484.3 643.3L3490.1 645.3L3505.3 645.6L3557.4 645.6M2792.6 292.3L2855.7 295.2L2916.7 303.5L2974 315.7L3026.3 330.8L3073.4 347.6L3115.6 364.7L3152.7 382.1L3185.9 398.7L3215 414.9L3241.2 430L3264 444.5L3284.4 458.2L3302.3 471.1L3318 483.3L3331.9 494.7L3344.3 505.5L3355.1 515.6L3364.8 525.1L3373.4 533.9L3381.3 542.2L3388.5 549.8L3395.3 557L3401.7 563.6L3407.7 569.8L3413.5 575.6L3419 581L3424.4 586.1L3429.6 590.8L3434.6 595.2L3439.6 599.4L3444.5 603.3L3449.3 607L3454 610.5L3458.7 613.7L3463.3 616.9L3467.9 619.8L3472.4 622.6L3476.9 625.3L3481.3 627.8L3488.8 629.6L3505.3 629.8L3557.4 629.8M2792.6 277.8L2850.7 280.1L2907.2 286.9L2960.8 297.2L3010.7 310L3056.2 324.7L3097.5 340.4L3134.8 356.2L3168.1 372.2L3198.2 387.5L3224.8 402.6L3248.8 416.9L3269.9 430.8L3288.8 444L3305.3 456.6L3320.3 468.4L3333.3 479.7L3344.9 490.4L3355.2 500.5L3364.5 510L3373 518.8L3380.7 527.1L3388 534.8L3394.8 542L3401.2 548.8L3407.3 555L3413.2 560.9L3418.9 566.5L3424.3 571.6L3429.7 576.5L3434.8 581.1L3439.9 585.4L3444.9 589.4L3449.8 593.3L3454.7 596.9L3459.4 600.3L3464.1 603.6L3468.8 606.7L3473.4 609.6L3478 612.4L3488 614L3505.3 614L3557.4 614M2792.6 264.5L2846.4 266.4L2899.1 272.1L2949.4 280.8L2996.8 292L3040.8 305L3081.1 319L3117.9 333.7L3151.5 348.4L3181.6 363.4L3209 377.7L3233.3 392L3255.4 405.6L3274.8 419L3292.4 431.7L3308 443.9L3321.7 455.6L3334 466.7L3345 477.3L3354.9 487.2L3364 496.5L3372.3 505.3L3387.3 521.2L3394.1 528.4L3400.6 535.1L3406.9 541.5L3412.8 547.4L3418.6 553L3424.2 558.2L3429.6 563.2L3434.9 567.9L3440.1 572.3L3445.2 576.4L3450.2 580.4L3455.2 584.1L3460 587.7L3464.8 591.1L3469.6 594.3L3474.6 597.2L3487.9 598.2L3557.4 598.2M2792.6 252.5L2842.8 254.2L2892 259L2939.5 266.5L2984.6 276.2L3026.9 287.7L3066.2 300.3L3102.3 313.8L3135.5 327.7L3165.9 341.5L3193.3 355.6L3218.4 369.2L3240.6 382.9L3260.9 396L3279.1 408.7L3295.3 421.1L3309.7 433.1L3322.6 444.5L3334.2 455.4L3344.7 465.6L3354.4 475.3L3363.3 484.5L3371.5 493.1L3379.3 501.2L3386.6 508.8L3393.5 515.9L3400 522.6L3406.3 528.9L3412.4 534.9L3418.3 540.5L3424 545.8L3429.5 550.8L3434.9 555.5L3440.2 560L3445.4 564.2L3450.5 568.2L3455.6 572.1L3460.5 575.7L3465.4 579.2L3472.1 582L3487.9 582.4L3557.4 582.4M2792.6 241.8L2839.6 243.1L2885.9 247.2L2930.8 253.7L2973.7 262.3L3014.3 272.5L3052.3 284L3087.7 296.3L3120.5 309.1L3150.6 322.4L3178.3 335.5L3203.3 349L3226.2 362L3247 375L3265.6 387.7L3282.3 400.1L3297.3 412.2L3310.8 423.7L3323 434.8L3334.2 445.3L3344.4 455.3L3353.8 464.7L3362.6 473.6L3370.8 482L3378.5 489.9L3385.8 497.4L3392.8 504.4L3399.4 511.1L3405.8 517.3L3412 523.2L3417.9 528.8L3423.7 534.1L3429.4 539.1L3434.9 543.9L3440.3 548.4L3445.6 552.7L3450.8 556.8L3455.9 560.7L3460.9 564.4L3470.7 566.5L3487.9 566.6L3557.4 566.6M2792.6 232.2L2836.8 233.4L2880.5 236.9L2923 242.7L2963.8 250.3L3002.8 259.4L3039.6 269.7L3074.1 281L3106.3 292.9L3136.1 305.2L3163.5 317.9L3188.9 330.5L3212 343.2L3233 355.9L3252 368.5L3269.1 380.8L3284.6 392.8L3298.7 404.4L3311.5 415.5L3323.2 426.2L3334 436.3L3344 445.9L3353.3 455.1L3361.9 463.7L3377.8 479.6L3385.1 486.9L3392.1 493.8L3398.9 500.4L3405.3 506.5L3411.6 512.4L3417.6 518L3423.5 523.2L3429.2 528.2L3434.8 533L3440.3 537.5L3445.7 541.8L3451 545.9L3456.7 549.7L3470.5 550.8L3557.4 550.8M2792.6 224L2834.3 225L2875.6 228.1L2915.9 233.2L2954.9 239.9L2992.3 248.1L3027.8 257.4L3061.4 267.5L3092.8 278.6L3122.2 290.1L3149.6 301.9L3174.9 314L3198 326.3L3219.2 338.6L3238.4 351L3256 363.1L3271.9 375L3286.5 386.5L3299.9 397.6L3312.1 408.2L3323.4 418.5L3333.9 428.2L3343.6 437.5L3352.8 446.3L3361.4 454.6L3369.5 462.6L3377.2 470.1L3384.5 477.2L3391.6 484L3398.3 490.4L3404.9 496.5L3411.2 502.3L3417.3 507.8L3423.3 513L3429.1 518L3434.8 522.7L3440.3 527.2L3445.8 531.5L3454 534.7L3470.5 535L3557.4 535M2792.6 216.8L2832.1 217.8L2871.2 220.5L2909.5 224.9L2946.7 230.8L2982.6 238.1L3016.9 246.5L3049.5 255.9L3080.3 266L3109.2 276.6L3136.2 287.7L3161.2 299.3L3184.3 311.1L3205.6 323.1L3225.1 335L3242.9 346.9L3259.3 358.5L3274.3 369.8L3288.1 380.8L3300.9 391.5L3312.7 401.7L3323.6 411.4L3333.8 420.8L3343.4 429.7L3352.4 438.2L3360.9 446.3L3369 454L3376.7 461.3L3384 468.2L3391.1 474.8L3397.9 481.1L3404.5 487.1L3410.9 492.8L3417.1 498.2L3423.1 503.4L3429 508.3L3434.7 513L3440.5 517.4L3453.1 519.2L3557.4 519.2M2792.6 210.5L2830.1 211.3L2867.2 213.7L2903.7 217.6L2939.3 222.9L2973.7 229.4L3006.8 237L3038.4 245.4L3068.5 254.7L3096.8 264.7L3123.3 275.2L3148.1 286.2L3171.1 297.5L3192.4 309L3212 320.5L3230.1 332L3246.8 343.3L3262.2 354.4L3276.5 365.3L3289.6 375.8L3301.8 385.9L3313.2 395.6L3323.9 405L3333.8 414L3343.2 422.5L3352.1 430.7L3360.6 438.5L3368.6 445.9L3376.3 453L3383.6 459.8L3390.7 466.2L3397.6 472.4L3404.2 478.2L3410.6 483.8L3416.9 489.2L3422.9 494.3L3428.9 499.1L3437 502.9L3453.1 503.4L3557.4 503.4M2792.6 204.9L2828.2 205.6L2863.6 207.7L2898.4 211.1L2932.5 215.8L2965.6 221.6L2997.5 228.5L3028.1 236.3L3057.3 244.9L3085 254.2L3111.1 264.1L3135.5 274.5L3158.4 285.2L3179.6 296.2L3199.4 307.2L3217.7 318.3L3234.6 329.3L3250.3 340.1L3264.9 350.8L3278.4 361.1L3291 371.1L3302.8 380.8L3313.8 390.1L3324.2 399L3334 407.6L3343.2 415.9L3352 423.7L3368.3 438.5L3376 445.3L3383.4 451.9L3390.5 458.2L3397.3 464.2L3404 469.9L3410.4 475.4L3416.7 480.6L3423.1 485.6L3435.8 487.6L3557.4 487.6M2792.6 199.7L2826.6 200.3L2860.3 202.2L2893.6 205.2L2926.3 209.4L2958.1 214.7L2988.9 221L3018.5 228.1L3046.9 236.1L3073.9 244.8L3099.5 254.1L3123.6 263.9L3146.2 274.1L3167.4 284.5L3187.1 295.1L3205.6 305.8L3222.7 316.4L3238.7 326.9L3253.5 337.2L3267.4 347.4L3280.3 357.2L3292.5 366.8L3303.8 376L3314.6 384.9L3324.7 393.5L3334.3 401.7L3343.3 409.6L3352 417.2L3360.3 424.5L3368.2 431.4L3375.9 438.1L3383.2 444.5L3390.3 450.6L3397.2 456.4L3403.9 462.1L3410.4 467.4L3419.4 471.4L3435.8 471.8L3557.4 471.8M2792.6 194.8L2825.1 195.4L2857.3 197.1L2889.2 199.8L2920.6 203.7L2951.2 208.5L2980.9 214.2L3009.6 220.9L3037.2 228.3L3063.5 236.4L3088.5 245.1L3112.3 254.3L3134.6 263.9L3155.7 273.9L3175.4 284L3193.9 294.2L3211.1 304.4L3227.3 314.6L3242.4 324.6L3256.5 334.5L3269.8 344.2L3282.2 353.5L3293.9 362.7L3304.9 371.5L3315.4 380L3325.3 388.2L3334.7 396.1L3343.6 403.8L3352.2 411.1L3360.4 418.1L3368.3 424.8L3375.8 431.3L3383.2 437.5L3390.3 443.4L3397.2 449.1L3404.4 454.3L3418.4 456L3557.4 456M2792.6 190.3L2823.7 190.8L2854.6 192.3L2885.2 194.8L2915.3 198.3L2944.8 202.8L2973.5 208.1L3001.3 214.2L3028.1 221.1L3053.8 228.7L3078.3 236.9L3101.6 245.5L3123.7 254.6L3144.5 264.1L3164.2 273.7L3182.6 283.5L3200 293.3L3216.3 303.1L3231.6 312.9L3245.9 322.5L3259.4 331.9L3272.1 341.1L3284.1 350.1L3295.4 358.8L3306.1 367.2L3316.3 375.4L3326 383.3L3335.2 390.9L3344 398.2L3352.5 405.2L3360.6 412L3368.4 418.5L3376 424.8L3383.3 430.8L3390.3 436.6L3401.3 440L3418.4 440.2L3557.4 440.2M2792.6 185.9L2822.5 186.4L2852.2 187.8L2881.6 190.1L2910.5 193.4L2939 197.4L2966.7 202.4L2993.6 208.1L3019.6 214.5L3044.7 221.6L3068.6 229.3L3091.5 237.5L3113.3 246.1L3133.9 255L3153.5 264.2L3171.9 273.5L3189.3 283L3205.6 292.4L3221.1 301.8L3235.6 311.2L3249.3 320.3L3262.2 329.4L3274.4 338.2L3286 346.7L3296.9 355.1L3307.4 363.2L3317.3 371L3326.8 378.6L3335.8 385.9L3344.5 392.9L3352.9 399.7L3360.9 406.3L3368.7 412.6L3376.2 418.6L3385.2 423.5L3401 424.4L3557.4 424.4M2792.6 181.8L2821.3 182.2L2849.9 183.5L2878.2 185.7L2906.1 188.6L2933.6 192.4L2960.4 197L2986.5 202.3L3011.8 208.4L3036.2 215L3059.6 222.2L3082.1 230L3103.5 238.1L3123.9 246.6L3143.3 255.3L3161.6 264.3L3179 273.3L3195.4 282.4L3210.9 291.5L3225.5 300.5L3239.4 309.5L3252.5 318.3L3264.9 326.9L3276.7 335.3L3287.9 343.5L3298.5 351.5L3308.7 359.3L3318.4 366.8L3327.7 374L3336.6 381.1L3345.2 387.9L3361.4 400.8L3369.6 406.6L3383.6 408.6L3557.4 408.6M2792.6 177.7L2820.3 178.1L2847.8 179.3L2875.1 181.3L2902.1 184.1L2928.6 187.7L2954.5 192L2979.9 196.9L3004.4 202.6L3028.2 208.8L3051.2 215.6L3073.2 222.9L3094.3 230.6L3114.4 238.7L3133.6 247L3151.8 255.6L3169.1 264.2L3185.5 273L3201.1 281.8L3215.8 290.5L3229.8 299.2L3243.1 307.7L3255.7 316.2L3267.6 324.4L3279 332.5L3289.9 340.4L3300.2 348L3310.1 355.5L3319.6 362.7L3328.7 369.7L3337.5 376.5L3354.1 389.4L3366.4 392.7L3383.6 392.8L3557.4 392.8M2792.6 173.8L2819.3 174.2L2845.9 175.3L2872.2 177.2L2898.3 179.8L2924 183.1L2949.1 187.1L2973.7 191.8L2997.6 197.1L3020.8 203L3043.2 209.4L3064.8 216.3L3085.6 223.6L3105.4 231.3L3124.4 239.2L3142.5 247.4L3159.7 255.7L3176.1 264.1L3191.7 272.6L3206.5 281L3220.5 289.4L3233.9 297.8L3246.6 306L3258.7 314.1L3270.3 322L3281.3 329.8L3291.8 337.3L3301.9 344.7L3311.6 351.8L3320.9 358.8L3329.8 365.5L3338.4 372.1L3349.6 376.5L3366.2 377L3557.4 377M2792.6 169.9L2818.4 170.3L2844.1 171.3L2869.6 173.1L2894.8 175.5L2919.7 178.7L2944.1 182.4L2968 186.9L2991.3 191.9L3013.9 197.4L3035.8 203.5L3057 210L3077.3 217L3096.9 224.3L3115.7 231.8L3133.6 239.6L3150.7 247.6L3167 255.7L3182.6 263.9L3197.4 272L3211.5 280.2L3225 288.3L3237.8 296.3L3250.1 304.2L3261.8 312L3272.9 319.6L3283.6 327L3293.9 334.3L3303.7 341.4L3313.2 348.3L3322.3 355L3332.8 360.2L3348.8 361.2L3557.4 361.2M2792.6 166.1L2817.6 166.4L2842.4 167.4L2867.1 169.1L2891.6 171.4L2915.7 174.4L2939.4 177.9L2962.6 182.1L2985.3 186.8L3007.4 192.1L3028.9 197.9L3049.6 204.1L3069.6 210.7L3088.9 217.6L3107.4 224.8L3125.1 232.3L3142.1 239.9L3158.4 247.7L3173.9 255.6L3188.7 263.5L3202.9 271.4L3216.4 279.3L3229.3 287.1L3241.6 294.8L3253.4 302.4L3264.7 309.9L3275.6 317.2L3286 324.4L3295.9 331.4L3305.5 338.2L3316 343.9L3331.5 345.4L3557.4 345.4M2792.6 162.3L2816.8 162.6L2840.9 163.6L2864.8 165.2L2888.6 167.3L2912 170.1L2935.1 173.5L2957.7 177.5L2979.8 182L3001.4 187L3022.3 192.4L3042.6 198.3L3062.3 204.6L3081.3 211.2L3099.5 218.2L3117.1 225.3L3133.9 232.6L3150.1 240.1L3165.5 247.7L3180.3 255.4L3194.5 263L3208.1 270.7L3221 278.3L3233.4 285.8L3245.3 293.2L3256.7 300.6L3267.7 307.8L3278.2 314.8L3288.3 321.7L3298.9 327.7L3314.1 329.6L3557.4 329.6M2792.6 158.6L2816.1 158.9L2839.5 159.8L2862.7 161.3L2885.8 163.3L2908.5 166L2931 169.2L2953 173L2974.6 177.2L2995.7 182L3016.2 187.2L3036.1 192.8L3055.4 198.8L3074.1 205.1L3092.1 211.8L3109.4 218.6L3126.1 225.7L3142.2 232.9L3157.5 240.2L3172.3 247.6L3186.5 255L3200 262.4L3213 269.8L3225.5 277.2L3237.5 284.4L3248.9 291.6L3260 298.7L3270.6 305.6L3281.6 311.7L3296.7 313.8L3557.4 313.8M2792.6 154.9L2815.4 155.1L2838.1 156L2860.7 157.4L2883.2 159.4L2905.3 161.9L2927.2 165L2948.7 168.6L2969.7 172.6L2990.3 177.1L3010.4 182.1L3029.9 187.5L3048.9 193.2L3067.3 199.3L3085 205.6L3102.2 212.2L3118.7 219L3134.6 225.9L3149.9 233L3164.6 240.1L3178.7 247.3L3192.3 254.5L3205.3 261.7L3217.8 268.9L3229.8 276L3241.4 283L3252.5 290L3264 296L3279.3 298L3557.4 298M2792.6 151.2L2814.8 151.4L2836.9 152.2L2858.9 153.6L2880.7 155.5L2902.3 157.9L2923.6 160.8L2944.6 164.2L2965.1 168.1L2985.3 172.4L3004.9 177.2L3024.1 182.3L3042.7 187.8L3060.8 193.6L3078.3 199.7L3095.3 206L3111.6 212.5L3127.4 219.2L3142.6 226L3157.2 233L3171.3 239.9L3184.8 246.9L3197.8 253.9L3210.3 260.9L3222.4 267.9L3234 274.8L3246.2 280.5L3261.9 282.2L3557.4 282.2M2792.6 147.5L2814.2 147.7L2835.7 148.5L2857.2 149.8L2878.4 151.6L2899.5 153.9L2920.3 156.7L2940.7 160L2960.8 163.7L2980.5 167.8L2999.8 172.3L3018.6 177.3L3036.9 182.5L3054.7 188.1L3072 193.9L3088.7 200L3104.8 206.3L3120.5 212.8L3135.5 219.4L3150.1 226.1L3164.1 232.8L3177.6 239.6L3190.6 246.4L3203.1 253.3L3215.2 260L3228.3 265.2L3244.5 266.4L3557.4 266.4M2792.6 143.8L2813.6 144.1L2834.6 144.8L2855.5 146L2876.3 147.8L2896.8 150L2917.1 152.6L2937.1 155.8L2956.8 159.3L2976.1 163.3L2995 167.6L3013.4 172.3L3031.4 177.4L3048.9 182.7L3065.9 188.4L3082.4 194.2L3098.4 200.3L3113.9 206.5L3128.8 212.9L3143.3 219.4L3157.2 226L3170.6 232.6L3183.6 239.2L3196.2 245.9L3210.3 249.9L3227.2 250.6L3557.4 250.6M2792.6 140.1L2813.1 140.4L2833.6 141.1L2854 142.3L2874.2 143.9L2894.3 146.1L2914.1 148.6L2933.7 151.6L2952.9 155L2971.8 158.8L2990.4 163L3008.5 167.5L3026.2 172.4L3043.4 177.5L3060.2 182.9L3076.4 188.6L3092.2 194.4L3107.6 200.5L3122.4 206.7L3136.7 212.9L3150.6 219.3L3164 225.7L3177.3 231.7L3192.5 234.6L3209.8 234.8L3557.4 234.8M2792.6 136.5L2812.6 136.7L2832.6 137.4L2852.6 138.5L2872.3 140.1L2891.9 142.2L2911.3 144.6L2930.5 147.5L2949.3 150.8L2967.8 154.4L2986 158.4L3003.8 162.8L3021.2 167.5L3038.2 172.4L3054.7 177.7L3070.8 183.1L3086.4 188.8L3101.5 194.6L3116.2 200.6L3130.4 206.7L3144.2 212.9L3158.6 217.5L3175 219L3557.4 219M2792.6 132.8L2812.2 133.1L2831.7 133.7L2851.2 134.8L2870.5 136.3L2889.7 138.3L2908.7 140.7L2927.4 143.4L2945.9 146.6L2964.1 150.1L2981.9 154L2999.4 158.2L3016.5 162.7L3033.2 167.4L3049.5 172.5L3065.3 177.8L3080.8 183.2L3095.8 188.9L3110.3 194.7L3124.7 200.1L3140.4 202.9L3157.6 203.2L3557.4 203.2M2792.6 129.2L2811.8 129.4L2830.9 130L2849.9 131.1L2868.8 132.6L2887.6 134.4L2906.2 136.7L2924.5 139.4L2942.7 142.4L2960.5 145.8L2978 149.5L2995.2 153.6L3012 157.9L3028.4 162.6L3044.5 167.4L3060.2 172.5L3075.4 177.8L3090.3 183.1L3106 186.5L3122.9 187.4L3557.4 187.4M2792.6 125.5L2811.3 125.8L2830.1 126.4L2848.7 127.4L2867.2 128.8L2885.6 130.6L2903.8 132.8L2921.8 135.4L2939.6 138.3L2957.1 141.6L2974.3 145.2L2991.2 149.1L3007.7 153.3L3023.9 157.8L3039.8 162.5L3055.3 167.2L3071.3 170.5L3088.1 171.6L3557.4 171.6M2792.6 121.9L2811 122.1L2829.3 122.7L2847.5 123.7L2865.7 125L2883.7 126.8L2901.6 128.9L2919.2 131.4L2936.7 134.2L2953.8 137.4L2970.7 140.9L2987.4 144.6L3003.7 148.7L3019.8 152.5L3036.3 155L3053.3 155.8L3557.4 155.8M2792.6 118.3L2810.6 118.5L2828.5 119L2846.4 120L2864.2 121.3L2881.9 123L2899.4 125L2916.8 127.4L2933.9 130.2L2950.8 133.2L2967.5 136.3L2984.3 138.5L3001.3 139.8L3018.6 140L3557.4 140M2792.6 114.6L2810.2 114.8L2827.9 115.4L2845.4 116.3L2862.9 117.6L2880.2 119.1L2897.5 120.7L2914.7 122.2L2931.8 123.4L2949.1 124.1L2966.4 124.2L3557.4 124.2M2792.6 107.8L2810 107.9L2827.4 108L2844.8 108.2L2862.1 108.4L2879.5 108.4L3557.4 108.4M2792.6 92.6L3557.4 92.6M2792.6 76.8L3557.4 76.8" fill="none" stroke="#ee0000" stroke-width="2.9" stroke-linejoin="round" shape-rendering="crispEdges"/>
<rect x="2788.4" y="59" width="773.8" height="4.8" fill="#ee0000"/>
<rect x="3555.3" y="59" width="6.9" height="700.4" fill="#ee0000"/>
<path d="M2788.4 56.4H2796.6V759.4H2788.4ZM2788.4 753.3H3634.6V759.4H2788.4ZM2825.7 744.8H2829V754.3H2825.7ZM2860.5 744.8H2863.8V754.3H2860.5ZM2895.2 744.8H2898.5V754.3H2895.2ZM2928 737.8H2935.4V754.3H2928ZM2964.8 744.8H2968.1V754.3H2964.8ZM2999.5 744.8H3002.8V754.3H2999.5ZM3034.3 744.8H3037.6V754.3H3034.3ZM3067 737.8H3074.4V754.3H3067ZM3103.8 744.8H3107.1V754.3H3103.8ZM3138.6 744.8H3141.9V754.3H3138.6ZM3173.4 744.8H3176.7V754.3H3173.4ZM3206.1 737.8H3213.5V754.3H3206.1ZM3242.9 744.8H3246.2V754.3H3242.9ZM3277.7 744.8H3281V754.3H3277.7ZM3312.4 744.8H3315.7V754.3H3312.4ZM3345.1 737.8H3352.5V754.3H3345.1ZM3382 744.8H3385.3V754.3H3382ZM3416.7 744.8H3420V754.3H3416.7ZM3451.5 744.8H3454.8V754.3H3451.5ZM3484.2 737.8H3491.6V754.3H3484.2ZM3521 744.8H3524.3V754.3H3521ZM3555.8 744.8H3559.1V754.3H3555.8ZM3590.5 744.8H3593.8V754.3H3590.5ZM3623.3 737.8H3630.7V754.3H3623.3ZM2795.6 723.1H2803V726.1H2795.6ZM2795.6 691.5H2803V694.5H2795.6ZM2795.6 659.9H2803V662.9H2795.6ZM2795.6 626.3H2811.6V633.3H2795.6ZM2795.6 596.7H2803V599.7H2795.6ZM2795.6 565.1H2803V568.1H2795.6ZM2795.6 533.5H2803V536.5H2795.6ZM2795.6 499.9H2811.6V506.9H2795.6ZM2795.6 470.3H2803V473.3H2795.6ZM2795.6 438.7H2803V441.7H2795.6ZM2795.6 407.1H2803V410.1H2795.6ZM2795.6 373.5H2811.6V380.5H2795.6ZM2795.6 343.9H2803V346.9H2795.6ZM2795.6 312.3H2803V315.3H2795.6ZM2795.6 280.7H2803V283.7H2795.6ZM2795.6 247.1H2811.6V254.1H2795.6ZM2795.6 217.5H2803V220.5H2795.6ZM2795.6 185.9H2803V188.9H2795.6ZM2795.6 154.3H2803V157.3H2795.6ZM2795.6 120.7H2811.6V127.7H2795.6ZM2795.6 91.1H2803V94.1H2795.6Z" fill="#000"/>
<clipPath id="clipd"><rect x="374" y="1022.3" width="669.3" height="667.7"/></clipPath>
<g clip-path="url(#clipd)" shape-rendering="crispEdges">
<rect x="372" y="1020.3" width="673.3" height="671.7" fill="#0064ff"/>
<path d="M373 1691L1058.6 1691L1058.6 1674.8L1058.6 1674.8L1058.6 1659.7L1058.6 1659.7L1058.6 1644.5L1058.6 1644.5L1058.6 1629.3L1058.6 1629.3L1058.6 1614.1L1058.6 1614.1L1058.6 1599L1058.6 1599L1058.6 1583.8L1058.6 1583.8L1043.3 1568.6L1043.3 1568.6L1043.3 1553.4L1043.3 1553.4L1043.3 1538.2L1043.3 1538.2L1043.3 1523.1L1043.3 1523.1L1028.1 1507.9L1028.1 1507.9L1028.1 1492.7L1028.1 1492.7L1028.1 1477.5L1028.1 1477.5L1012.9 1462.4L1012.9 1462.4L1012.9 1447.2L1012.9 1447.2L1012.9 1432L1012.9 1432L997.7 1416.8L997.7 1416.8L997.7 1401.7L997.7 1401.7L982.5 1386.5L982.5 1386.5L967.3 1371.3L967.3 1371.3L967.3 1356.2L967.3 1356.2L952.1 1341L952.1 1341L952.1 1325.8L952.1 1325.8L936.9 1310.6L936.9 1310.6L921.6 1295.5L921.6 1295.5L906.4 1280.3L906.4 1280.3L906.4 1265.1L906.4 1265.1L891.2 1249.9L891.2 1249.9L876 1234.8L876 1234.8L860.8 1219.6L860.8 1219.6L845.6 1204.4L845.6 1204.4L830.4 1189.2L830.4 1189.2L815.2 1174L815.2 1174L800 1158.9L784.7 1158.9L769.5 1143.7L769.5 1143.7L754.3 1128.5L754.3 1128.5L739.1 1113.3L723.9 1113.3L708.7 1098.2L693.5 1098.2L678.2 1083L678.2 1083L663 1067.8L647.8 1067.8L632.6 1052.7L602.2 1052.7L587 1037.5L556.6 1037.5L541.3 1022.3L495.7 1022.3L480.5 1007.1L373 1007.1Z" fill="#00dcff"/>
</g>
<g clip-path="url(#clipd)">
<path d="M372 1692L998.6 1692L998.6 1690L998.6 1681.8L998.4 1673.7L998 1665.5L997.6 1657.4L997 1649.3L996.3 1641.1L995.4 1633L994.4 1625L993.3 1616.9L992.1 1608.8L990.7 1600.8L989.2 1592.8L987.6 1584.8L985.9 1576.9L984 1569L982.1 1561.1L980 1553.2L977.8 1545.4L975.4 1537.6L973 1529.9L970.5 1522.2L967.8 1514.5L965 1506.9L962.2 1499.4L959.2 1491.8L956.1 1484.4L952.9 1477L949.6 1469.6L946.3 1462.3L942.8 1455L939.2 1447.8L935.6 1440.6L931.8 1433.5L928 1426.4L924.1 1419.4L920.1 1412.4L916 1405.5L911.8 1398.7L907.6 1391.9L903.3 1385.2L898.9 1378.5L894.4 1371.9L889.9 1365.3L885.3 1358.8L880.6 1352.3L875.9 1345.9L871.1 1339.6L866.2 1333.3L861.3 1327L856.3 1320.9L851.2 1314.7L846.1 1308.7L840.9 1302.6L835.7 1296.7L830.4 1290.8L825 1284.9L819.6 1279.1L814.1 1273.4L808.6 1267.7L803 1262.1L797.3 1256.5L791.6 1251L785.9 1245.5L780.1 1240.1L774.2 1234.8L768.3 1229.5L762.3 1224.3L756.3 1219.1L750.2 1214L744.1 1208.9L737.9 1203.9L731.6 1199L725.3 1194.2L718.9 1189.4L712.5 1184.6L706 1180L699.5 1175.4L692.9 1170.9L686.3 1166.4L679.6 1162L672.8 1157.7L666 1153.5L659.2 1149.3L652.2 1145.3L645.3 1141.3L638.2 1137.4L631.2 1133.6L624 1129.8L616.8 1126.2L609.6 1122.6L602.3 1119.2L595 1115.8L587.6 1112.5L580.1 1109.3L572.6 1106.3L565.1 1103.3L557.5 1100.4L549.9 1097.7L542.2 1095L534.5 1092.5L526.7 1090L519 1087.7L511.1 1085.5L503.2 1083.4L495.3 1081.5L487.4 1079.6L479.4 1077.9L471.4 1076.3L463.4 1074.8L455.4 1073.4L447.3 1072.2L439.2 1071.1L431.1 1070.1L423 1069.3L414.8 1068.6L406.7 1068L398.5 1067.5L390.3 1067.2L382.2 1067L374 1066.9L372 1066.9Z" fill="#00ffd0"/>
<path d="M372 1692L996.2 1692L996.2 1690L996.1 1681.9L995.9 1673.8L995.6 1665.6L995.1 1657.5L994.5 1649.4L993.8 1641.3L992.9 1633.3L992 1625.2L990.8 1617.2L989.6 1609.2L988.2 1601.2L986.7 1593.2L985.1 1585.3L983.4 1577.3L981.5 1569.5L979.5 1561.6L977.4 1553.8L975.2 1546L972.8 1538.3L970.4 1530.6L967.8 1522.9L965.1 1515.3L962.3 1507.8L959.4 1500.2L956.4 1492.8L953.3 1485.3L950.1 1478L946.9 1470.6L943.5 1463.4L940 1456.1L936.4 1449L932.7 1441.9L929 1434.8L925.1 1427.8L921.2 1420.8L917.2 1413.9L913.1 1407.1L908.9 1400.3L904.7 1393.5L900.4 1386.8L896 1380.2L891.5 1373.6L887 1367.1L882.4 1360.7L877.7 1354.2L873 1347.9L868.2 1341.6L863.3 1335.4L858.4 1329.2L853.4 1323L848.4 1316.9L843.3 1310.9L838.1 1304.9L832.9 1299L827.6 1293.2L822.3 1287.4L816.9 1281.6L811.5 1275.9L806 1270.2L800.4 1264.6L794.8 1259.1L789.1 1253.6L783.4 1248.2L777.6 1242.8L771.8 1237.5L765.9 1232.2L760 1227L754 1221.9L748 1216.8L741.9 1211.8L735.7 1206.8L729.5 1201.9L723.3 1197L717 1192.2L710.6 1187.5L704.2 1182.9L697.7 1178.3L691.1 1173.7L684.6 1169.3L677.9 1164.9L671.2 1160.6L664.5 1156.4L657.6 1152.2L650.8 1148.1L643.9 1144.1L636.9 1140.2L629.8 1136.4L622.8 1132.6L615.6 1129L608.4 1125.4L601.2 1121.9L593.9 1118.6L586.6 1115.3L579.2 1112.1L571.7 1109L564.2 1106L556.7 1103.1L549.1 1100.3L541.5 1097.7L533.8 1095.1L526.1 1092.7L518.3 1090.3L510.5 1088.1L502.7 1086L494.8 1084L486.9 1082.1L479 1080.4L471 1078.8L463.1 1077.3L455 1075.9L447 1074.7L439 1073.6L430.9 1072.6L422.8 1071.7L414.7 1071L406.6 1070.4L398.4 1069.9L390.3 1069.6L382.1 1069.4L374 1069.3L372 1069.3Z" fill="#00ff66"/>
<path d="M372 1692L993.5 1692L993.5 1690L993.4 1681.9L993.2 1673.8L992.9 1665.7L992.4 1657.7L991.8 1649.6L991.1 1641.6L990.3 1633.5L989.3 1625.5L988.2 1617.5L986.9 1609.5L985.6 1601.5L984.1 1593.6L982.5 1585.7L980.8 1577.8L978.9 1570L977 1562.2L974.9 1554.4L972.7 1546.6L970.4 1538.9L967.9 1531.2L965.4 1523.6L962.8 1516L960 1508.5L957.1 1501L954.2 1493.5L951.1 1486.1L947.9 1478.8L944.7 1471.5L941.3 1464.2L937.9 1457L934.3 1449.9L930.7 1442.8L927 1435.7L923.2 1428.7L919.3 1421.8L915.3 1414.9L911.2 1408L907.1 1401.3L902.9 1394.5L898.6 1387.9L894.2 1381.2L889.8 1374.7L885.3 1368.2L880.7 1361.7L876.1 1355.3L871.4 1349L866.6 1342.7L861.8 1336.5L856.9 1330.3L851.9 1324.2L846.9 1318.1L841.8 1312.1L836.7 1306.1L831.5 1300.2L826.2 1294.4L820.9 1288.6L815.6 1282.8L810.1 1277.1L804.6 1271.5L799.1 1265.9L793.5 1260.4L787.9 1254.9L782.2 1249.5L776.4 1244.2L770.6 1238.9L764.7 1233.6L758.8 1228.4L752.8 1223.3L746.8 1218.3L740.7 1213.2L734.6 1208.3L728.4 1203.4L722.2 1198.6L715.9 1193.8L709.5 1189.1L703.1 1184.5L696.6 1179.9L690.1 1175.5L683.5 1171L676.9 1166.7L670.2 1162.4L663.5 1158.2L656.7 1154.1L649.8 1150L642.9 1146.1L635.9 1142.2L628.9 1138.4L621.9 1134.7L614.7 1131.1L607.6 1127.5L600.3 1124.1L593.1 1120.7L585.7 1117.5L578.4 1114.3L570.9 1111.3L563.5 1108.3L556 1105.4L548.4 1102.7L540.8 1100.1L533.1 1097.5L525.5 1095.1L517.7 1092.8L510 1090.6L502.2 1088.5L494.3 1086.6L486.5 1084.7L478.6 1083L470.6 1081.4L462.7 1079.9L454.7 1078.6L446.7 1077.3L438.7 1076.2L430.6 1075.3L422.6 1074.4L414.5 1073.7L406.4 1073.1L398.3 1072.7L390.2 1072.3L382.1 1072.1L374 1072.1L372 1072.1Z" fill="#00ff00"/>
<path d="M372 1692L989.2 1692L989.2 1690L989.1 1682L988.9 1673.9L988.6 1665.9L988.2 1657.9L987.6 1649.9L986.9 1641.9L986 1633.9L985 1625.9L983.9 1618L982.7 1610.1L981.4 1602.2L979.9 1594.3L978.3 1586.4L976.6 1578.6L974.8 1570.8L972.8 1563L970.7 1555.3L968.5 1547.6L966.2 1540L963.8 1532.3L961.3 1524.8L958.7 1517.2L955.9 1509.8L953.1 1502.3L950.1 1494.9L947.1 1487.6L943.9 1480.3L940.7 1473L937.4 1465.8L933.9 1458.6L930.4 1451.5L926.8 1444.5L923.1 1437.5L919.3 1430.5L915.4 1423.6L911.5 1416.8L907.5 1410L903.4 1403.3L899.2 1396.6L894.9 1390L890.6 1383.4L886.2 1376.9L881.7 1370.4L877.2 1364L872.6 1357.7L867.9 1351.4L863.1 1345.2L858.3 1339L853.5 1332.8L848.6 1326.8L843.6 1320.7L838.5 1314.8L833.4 1308.8L828.3 1303L823 1297.2L817.8 1291.4L812.4 1285.7L807 1280.1L801.6 1274.5L796.1 1268.9L790.5 1263.5L784.9 1258L779.3 1252.7L773.6 1247.3L767.8 1242.1L762 1236.9L756.1 1231.7L750.2 1226.6L744.2 1221.6L738.1 1216.6L732 1211.7L725.9 1206.9L719.7 1202.1L713.4 1197.3L707.1 1192.7L700.8 1188.1L694.3 1183.5L687.9 1179.1L681.3 1174.7L674.8 1170.4L668.1 1166.1L661.4 1161.9L654.7 1157.8L647.9 1153.8L641 1149.9L634.1 1146L627.1 1142.3L620.1 1138.6L613.1 1135L605.9 1131.4L598.8 1128L591.5 1124.7L584.3 1121.5L576.9 1118.3L569.6 1115.3L562.2 1112.3L554.7 1109.5L547.2 1106.8L539.6 1104.1L532 1101.6L524.4 1099.2L516.7 1096.9L509 1094.7L501.3 1092.7L493.5 1090.7L485.7 1088.9L477.8 1087.2L470 1085.6L462.1 1084.1L454.1 1082.8L446.2 1081.6L438.2 1080.5L430.2 1079.5L422.2 1078.7L414.2 1077.9L406.2 1077.4L398.1 1076.9L390.1 1076.6L382.1 1076.4L374 1076.3L372 1076.3Z" fill="#d8ff00"/>
<path d="M372 1692L987.9 1692L987.9 1690L987.8 1682L987.6 1674L987.3 1666L986.8 1658L986.2 1650L985.5 1642L984.7 1634L983.7 1626.1L982.6 1618.1L981.4 1610.2L980 1602.3L978.5 1594.5L976.9 1586.7L975.2 1578.8L973.4 1571.1L971.4 1563.3L969.3 1555.6L967.1 1548L964.8 1540.3L962.4 1532.7L959.9 1525.2L957.2 1517.7L954.5 1510.2L951.7 1502.8L948.7 1495.4L945.6 1488.1L942.5 1480.8L939.2 1473.6L935.9 1466.4L932.5 1459.2L928.9 1452.2L925.3 1445.1L921.6 1438.2L917.8 1431.2L914 1424.4L910 1417.6L906 1410.8L901.9 1404.1L897.7 1397.4L893.4 1390.8L889.1 1384.3L884.7 1377.8L880.2 1371.4L875.7 1365L871.1 1358.7L866.4 1352.4L861.7 1346.2L856.9 1340L852 1333.9L847.1 1327.8L842.2 1321.8L837.1 1315.9L832 1310L826.9 1304.2L821.7 1298.4L816.4 1292.6L811.1 1287L805.7 1281.3L800.3 1275.8L794.8 1270.2L789.3 1264.8L783.7 1259.3L778 1254L772.3 1248.7L766.6 1243.4L760.8 1238.2L754.9 1233.1L749 1228L743.1 1223L737 1218L731 1213.1L724.9 1208.3L718.7 1203.5L712.4 1198.8L706.2 1194.1L699.8 1189.5L693.4 1185L687 1180.5L680.5 1176.2L673.9 1171.8L667.3 1167.6L660.6 1163.4L653.9 1159.3L647.1 1155.3L640.3 1151.4L633.4 1147.5L626.5 1143.7L619.5 1140L612.4 1136.4L605.3 1132.9L598.2 1129.5L591 1126.1L583.7 1122.9L576.4 1119.8L569.1 1116.7L561.7 1113.8L554.3 1110.9L546.8 1108.2L539.2 1105.6L531.7 1103L524.1 1100.6L516.4 1098.3L508.7 1096.1L501 1094.1L493.2 1092.1L485.4 1090.3L477.6 1088.6L469.7 1087L461.9 1085.5L454 1084.1L446 1082.9L438.1 1081.8L430.1 1080.8L422.1 1080L414.1 1079.3L406.1 1078.7L398.1 1078.2L390.1 1077.9L382 1077.7L374 1077.7L372 1077.7Z" fill="#ff0000"/>
<path d="M372 1692L981.9 1692L981.9 1690L981.8 1682.1L981.6 1674.1L981.3 1666.2L980.8 1658.3L980.2 1650.4L979.5 1642.5L978.6 1634.6L977.6 1626.7L976.5 1618.9L975.3 1611L973.9 1603.2L972.4 1595.5L970.8 1587.7L969 1580L967.2 1572.3L965.2 1564.7L963.1 1557L960.8 1549.5L958.5 1541.9L956 1534.4L953.5 1527L950.8 1519.6L948 1512.2L945.1 1504.9L942.2 1497.6L939.1 1490.4L935.9 1483.2L932.6 1476.1L929.2 1469L925.8 1462L922.2 1455L918.6 1448.1L914.9 1441.3L911.1 1434.5L907.2 1427.7L903.2 1421L899.2 1414.4L895.1 1407.8L890.9 1401.3L886.6 1394.8L882.3 1388.3L877.9 1382L873.4 1375.7L868.9 1369.4L864.3 1363.2L859.7 1357L855 1350.9L850.2 1344.9L845.4 1338.9L840.5 1332.9L835.6 1327L830.6 1321.2L825.5 1315.4L820.4 1309.6L815.3 1303.9L810.1 1298.3L804.8 1292.7L799.5 1287.2L794.2 1281.7L788.8 1276.2L783.3 1270.8L777.8 1265.5L772.3 1260.2L766.7 1255L761 1249.8L755.3 1244.7L749.5 1239.6L743.7 1234.5L737.9 1229.6L732 1224.6L726 1219.8L720 1215L713.9 1210.2L707.8 1205.5L701.6 1200.9L695.4 1196.3L689.1 1191.8L682.8 1187.3L676.4 1183L670 1178.6L663.5 1174.4L656.9 1170.2L650.3 1166.1L643.6 1162.1L636.9 1158.1L630.2 1154.3L623.3 1150.5L616.5 1146.8L609.5 1143.1L602.6 1139.6L595.5 1136.1L588.4 1132.8L581.3 1129.5L574.1 1126.3L566.9 1123.2L559.6 1120.3L552.2 1117.4L544.9 1114.6L537.4 1112L530 1109.4L522.4 1107L514.9 1104.6L507.3 1102.4L499.7 1100.3L492 1098.3L484.3 1096.4L476.5 1094.7L468.8 1093.1L461 1091.6L453.2 1090.2L445.3 1089L437.4 1087.8L429.6 1086.9L421.7 1086L413.7 1085.3L405.8 1084.7L397.9 1084.2L389.9 1083.9L382 1083.7L374 1083.6L372 1083.6Z" fill="#ff6600"/>
<path d="M372 1692L977 1692L977 1690L977 1682.1L976.8 1674.3L976.4 1666.4L976 1658.5L975.4 1650.7L974.7 1642.8L973.8 1635L972.9 1627.2L971.8 1619.4L970.5 1611.7L969.2 1603.9L967.7 1596.2L966.1 1588.5L964.4 1580.8L962.6 1573.2L960.6 1565.6L958.5 1558.1L956.3 1550.5L954 1543.1L951.6 1535.6L949.1 1528.2L946.5 1520.8L943.7 1513.5L940.9 1506.3L938 1499L934.9 1491.9L931.8 1484.7L928.6 1477.6L925.3 1470.6L921.8 1463.6L918.3 1456.7L914.8 1449.8L911.1 1443L907.3 1436.2L903.5 1429.5L899.6 1422.9L895.6 1416.3L891.5 1409.7L887.4 1403.2L883.2 1396.7L878.9 1390.3L874.6 1384L870.2 1377.7L865.7 1371.5L861.1 1365.3L856.5 1359.2L851.9 1353.1L847.2 1347.1L842.4 1341.1L837.5 1335.2L832.7 1329.3L827.7 1323.5L822.7 1317.7L817.6 1312L812.5 1306.4L807.4 1300.8L802.2 1295.2L796.9 1289.7L791.6 1284.2L786.2 1278.8L780.8 1273.5L775.3 1268.2L769.8 1262.9L764.2 1257.7L758.6 1252.5L752.9 1247.4L747.2 1242.4L741.4 1237.4L735.6 1232.5L729.7 1227.6L723.8 1222.8L717.8 1218L711.7 1213.3L705.6 1208.6L699.5 1204.1L693.3 1199.5L687.1 1195.1L680.7 1190.7L674.4 1186.3L668 1182.1L661.5 1177.9L655 1173.7L648.4 1169.7L641.8 1165.7L635.1 1161.8L628.4 1158L621.6 1154.2L614.8 1150.6L607.9 1147L600.9 1143.5L593.9 1140.1L586.9 1136.8L579.8 1133.6L572.6 1130.4L565.4 1127.4L558.2 1124.5L550.9 1121.7L543.6 1118.9L536.2 1116.3L528.8 1113.8L521.3 1111.4L513.8 1109.1L506.3 1106.9L498.7 1104.8L491.1 1102.9L483.4 1101.1L475.7 1099.4L468 1097.8L460.3 1096.3L452.5 1094.9L444.7 1093.7L436.9 1092.6L429.1 1091.6L421.3 1090.8L413.4 1090.1L405.5 1089.5L397.7 1089L389.8 1088.7L381.9 1088.5L374 1088.5L372 1088.5Z" fill="#ffcc00"/>
<path d="M372 1692L971.9 1692L971.9 1690L971.8 1682.2L971.6 1674.4L971.3 1666.6L970.8 1658.8L970.2 1651L969.5 1643.2L968.7 1635.5L967.7 1627.8L966.6 1620L965.4 1612.3L964.1 1604.7L962.6 1597L961 1589.4L959.3 1581.8L957.5 1574.2L955.6 1566.7L953.5 1559.2L951.4 1551.7L949.1 1544.3L946.7 1536.9L944.2 1529.6L941.6 1522.3L938.9 1515L936.1 1507.8L933.2 1500.7L930.2 1493.5L927.1 1486.5L923.9 1479.4L920.6 1472.5L917.2 1465.6L913.7 1458.7L910.2 1451.9L906.5 1445.1L902.8 1438.4L899 1431.7L895.2 1425.1L891.2 1418.6L887.2 1412.1L883.1 1405.6L878.9 1399.2L874.7 1392.9L870.4 1386.6L866 1380.3L861.6 1374.2L857.1 1368L852.5 1361.9L847.9 1355.9L843.2 1349.9L838.5 1344L833.7 1338.2L828.8 1332.3L823.9 1326.6L819 1320.8L813.9 1315.2L808.9 1309.6L803.8 1304L798.6 1298.5L793.4 1293L788.1 1287.6L782.8 1282.2L777.4 1276.9L772 1271.7L766.5 1266.5L761 1261.3L755.4 1256.2L749.7 1251.1L744.1 1246.1L738.3 1241.2L732.5 1236.3L726.7 1231.5L720.8 1226.7L714.9 1222L708.9 1217.3L702.9 1212.7L696.8 1208.1L690.6 1203.6L684.4 1199.2L678.2 1194.9L671.9 1190.6L665.5 1186.3L659.1 1182.2L652.6 1178.1L646.1 1174.1L639.5 1170.1L632.9 1166.3L626.2 1162.5L619.5 1158.8L612.7 1155.1L605.9 1151.6L599 1148.1L592.1 1144.8L585.1 1141.5L578 1138.3L571 1135.2L563.8 1132.2L556.6 1129.3L549.4 1126.5L542.1 1123.8L534.8 1121.2L527.5 1118.7L520.1 1116.3L512.6 1114.1L505.1 1111.9L497.6 1109.8L490.1 1107.9L482.5 1106.1L474.9 1104.4L467.2 1102.8L459.6 1101.4L451.9 1100L444.1 1098.8L436.4 1097.7L428.6 1096.8L420.9 1095.9L413.1 1095.2L405.3 1094.7L397.5 1094.2L389.6 1093.9L381.8 1093.7L374 1093.6L372 1093.6Z" fill="#d8ff00"/>
<path d="M372 1692L966.5 1692L966.5 1690L966.4 1682.3L966.2 1674.5L965.9 1666.8L965.5 1659.1L964.9 1651.4L964.2 1643.7L963.3 1636L962.3 1628.3L961.2 1620.7L960 1613L958.7 1605.4L957.2 1597.9L955.6 1590.3L953.9 1582.8L952.1 1575.3L950.1 1567.8L948.1 1560.4L945.9 1553L943.6 1545.7L941.2 1538.4L938.7 1531.1L936.1 1523.9L933.4 1516.7L930.6 1509.6L927.6 1502.5L924.6 1495.5L921.5 1488.5L918.3 1481.6L915 1474.7L911.6 1467.9L908.2 1461.1L904.6 1454.3L901 1447.7L897.3 1441L893.5 1434.5L889.6 1427.9L885.7 1421.5L881.6 1415.1L877.6 1408.7L873.4 1402.4L869.2 1396.1L864.9 1389.9L860.5 1383.8L856.1 1377.7L851.7 1371.6L847.1 1365.6L842.5 1359.7L837.9 1353.8L833.2 1348L828.4 1342.2L823.6 1336.4L818.8 1330.7L813.8 1325.1L808.9 1319.5L803.9 1314L798.8 1308.5L793.7 1303L788.5 1297.6L783.3 1292.3L778 1287L772.7 1281.7L767.4 1276.5L761.9 1271.4L756.5 1266.3L751 1261.2L745.4 1256.2L739.8 1251.2L734.2 1246.3L728.5 1241.5L722.7 1236.7L716.9 1231.9L711 1227.3L705.1 1222.6L699.2 1218L693.2 1213.5L687.1 1209.1L681 1204.7L674.8 1200.3L668.6 1196L662.3 1191.8L656 1187.7L649.6 1183.6L643.2 1179.6L636.7 1175.7L630.2 1171.8L623.6 1168L616.9 1164.3L610.2 1160.7L603.5 1157.1L596.7 1153.7L589.8 1150.3L582.9 1147L576 1143.8L569 1140.7L561.9 1137.7L554.8 1134.8L547.7 1132L540.5 1129.3L533.3 1126.7L526 1124.2L518.7 1121.8L511.3 1119.5L503.9 1117.3L496.5 1115.3L489 1113.3L481.5 1111.5L473.9 1109.8L466.4 1108.2L458.8 1106.8L451.2 1105.4L443.5 1104.2L435.8 1103.1L428.2 1102.1L420.4 1101.3L412.7 1100.6L405 1100L397.3 1099.5L389.5 1099.2L381.8 1099L374 1099L372 1099Z" fill="#66ff00"/>
<path d="M372 1692L959.1 1692L959.1 1690L959 1682.4L958.8 1674.7L958.5 1667.1L958 1659.5L957.4 1651.9L956.7 1644.3L955.8 1636.7L954.8 1629.1L953.7 1621.6L952.5 1614L951.1 1606.5L949.6 1599.1L948 1591.6L946.2 1584.2L944.4 1576.8L942.4 1569.5L940.3 1562.2L938.1 1554.9L935.8 1547.7L933.3 1540.5L930.8 1533.4L928.1 1526.3L925.4 1519.2L922.5 1512.2L919.6 1505.3L916.5 1498.3L913.4 1491.5L910.2 1484.7L906.8 1477.9L903.4 1471.2L899.9 1464.6L896.4 1458L892.7 1451.5L889 1445L885.2 1438.5L881.3 1432.2L877.3 1425.8L873.3 1419.6L869.2 1413.3L865.1 1407.2L860.9 1401.1L856.6 1395L852.3 1389L847.9 1383L843.4 1377.1L838.9 1371.3L834.4 1365.5L829.7 1359.7L825.1 1354L820.4 1348.3L815.6 1342.7L810.8 1337.1L806 1331.6L801.1 1326.2L796.1 1320.7L791.1 1315.3L786.1 1310L781 1304.7L775.9 1299.5L770.7 1294.3L765.5 1289.1L760.2 1284L754.9 1278.9L749.6 1273.9L744.2 1268.9L738.7 1264L733.3 1259.1L727.7 1254.3L722.1 1249.5L716.5 1244.7L710.8 1240L705.1 1235.4L699.3 1230.8L693.5 1226.2L687.7 1221.7L681.7 1217.3L675.8 1212.9L669.7 1208.6L663.7 1204.3L657.5 1200.1L651.3 1196L645.1 1191.9L638.8 1187.9L632.5 1184L626.1 1180.1L619.6 1176.3L613.1 1172.6L606.6 1168.9L600 1165.4L593.3 1161.9L586.6 1158.5L579.8 1155.2L573 1151.9L566.1 1148.8L559.2 1145.8L552.2 1142.8L545.2 1140L538.1 1137.2L531 1134.6L523.9 1132L516.7 1129.6L509.4 1127.3L502.1 1125.1L494.8 1123L487.5 1121L480.1 1119.2L472.6 1117.4L465.2 1115.8L457.7 1114.3L450.2 1113L442.6 1111.7L435 1110.6L427.5 1109.6L419.9 1108.8L412.2 1108L404.6 1107.4L397 1107L389.3 1106.6L381.7 1106.4L374 1106.4L372 1106.4Z" fill="#00ff00"/>
<path d="M372 1692L947.8 1692L947.8 1690L947.8 1682.5L947.6 1675L947.2 1667.5L946.8 1660.1L946.2 1652.6L945.5 1645.1L944.6 1637.7L943.7 1630.3L942.6 1622.9L941.3 1615.5L940 1608.1L938.5 1600.8L936.9 1593.5L935.2 1586.2L933.4 1579L931.4 1571.8L929.4 1564.6L927.2 1557.5L924.9 1550.4L922.5 1543.4L920 1536.4L917.4 1529.4L914.7 1522.5L911.9 1515.6L909 1508.8L906 1502.1L903 1495.3L899.8 1488.7L896.5 1482L893.2 1475.5L889.7 1469L886.2 1462.5L882.6 1456.1L879 1449.7L875.2 1443.4L871.4 1437.2L867.6 1431L863.6 1424.8L859.6 1418.7L855.5 1412.7L851.4 1406.7L847.2 1400.7L842.9 1394.8L838.6 1389L834.3 1383.2L829.9 1377.5L825.4 1371.8L820.9 1366.1L816.3 1360.5L811.7 1355L807 1349.5L802.3 1344L797.5 1338.6L792.7 1333.3L787.9 1327.9L783 1322.7L778 1317.4L773.1 1312.2L768 1307.1L763 1302L757.9 1296.9L752.7 1291.9L747.5 1286.9L742.3 1282L737 1277.1L731.6 1272.3L726.2 1267.5L720.8 1262.8L715.4 1258.1L709.8 1253.4L704.3 1248.8L698.7 1244.2L693 1239.7L687.3 1235.3L681.5 1230.9L675.7 1226.5L669.9 1222.2L664 1218L658 1213.8L652 1209.7L645.9 1205.6L639.8 1201.6L633.7 1197.7L627.5 1193.8L621.2 1190L614.9 1186.3L608.5 1182.6L602.1 1179L595.6 1175.5L589 1172.1L582.5 1168.8L575.8 1165.5L569.1 1162.3L562.4 1159.3L555.6 1156.3L548.8 1153.4L541.9 1150.6L535 1147.9L528 1145.3L521 1142.8L513.9 1140.4L506.8 1138.2L499.7 1136L492.5 1133.9L485.3 1132L478 1130.2L470.7 1128.5L463.4 1126.9L456.1 1125.4L448.7 1124.1L441.3 1122.8L433.9 1121.8L426.4 1120.8L419 1119.9L411.5 1119.2L404 1118.6L396.5 1118.2L389 1117.9L381.5 1117.7L374 1117.6L372 1117.6Z" fill="#00ff66"/>
<path d="M372 1692L936.9 1692L936.9 1690L936.8 1682.7L936.6 1675.3L936.3 1668L935.8 1660.6L935.2 1653.3L934.5 1646L933.6 1638.7L932.7 1631.4L931.5 1624.2L930.3 1616.9L928.9 1609.7L927.5 1602.6L925.9 1595.4L924.1 1588.3L922.3 1581.2L920.3 1574.2L918.3 1567.2L916.1 1560.2L913.8 1553.3L911.4 1546.4L908.9 1539.5L906.2 1532.7L903.5 1526L900.7 1519.3L897.8 1512.6L894.8 1506L891.7 1499.5L888.5 1493L885.3 1486.5L881.9 1480.1L878.5 1473.8L875 1467.5L871.4 1461.3L867.8 1455.1L864 1448.9L860.3 1442.9L856.4 1436.8L852.5 1430.8L848.5 1424.9L844.5 1419.1L840.4 1413.2L836.2 1407.5L832 1401.7L827.7 1396.1L823.4 1390.4L819.1 1384.9L814.7 1379.3L810.2 1373.9L805.7 1368.4L801.2 1363L796.6 1357.7L792 1352.4L787.3 1347.1L782.6 1341.9L777.8 1336.7L773.1 1331.6L768.2 1326.5L763.4 1321.4L758.4 1316.4L753.5 1311.4L748.5 1306.5L743.5 1301.6L738.4 1296.7L733.3 1291.9L728.2 1287.2L723 1282.4L717.7 1277.7L712.5 1273.1L707.1 1268.4L701.8 1263.9L696.4 1259.3L690.9 1254.9L685.4 1250.4L679.9 1246L674.3 1241.7L668.7 1237.4L663 1233.1L657.2 1228.9L651.5 1224.8L645.6 1220.7L639.7 1216.7L633.8 1212.7L627.8 1208.8L621.8 1204.9L615.7 1201.2L609.5 1197.4L603.3 1193.8L597.1 1190.2L590.8 1186.7L584.4 1183.3L578 1180L571.5 1176.7L565 1173.6L558.4 1170.5L551.8 1167.5L545.1 1164.6L538.4 1161.8L531.7 1159.1L524.8 1156.5L518 1154L511.1 1151.6L504.1 1149.3L497.2 1147.1L490.1 1145L483.1 1143.1L476 1141.2L468.8 1139.5L461.7 1137.9L454.5 1136.4L447.2 1135.1L440 1133.8L432.7 1132.7L425.4 1131.7L418.1 1130.9L410.8 1130.2L403.4 1129.6L396.1 1129.1L388.7 1128.8L381.4 1128.6L374 1128.5L372 1128.5Z" fill="#00ffd0"/>
<path d="M372 1692L919.8 1692L919.8 1690L919.8 1682.9L919.6 1675.7L919.2 1668.6L918.8 1661.5L918.2 1654.4L917.5 1647.3L916.7 1640.3L915.7 1633.2L914.6 1626.2L913.4 1619.2L912.1 1612.2L910.6 1605.2L909.1 1598.3L907.4 1591.4L905.6 1584.5L903.7 1577.7L901.6 1570.9L899.5 1564.1L897.3 1557.4L894.9 1550.8L892.5 1544.1L889.9 1537.6L887.3 1531L884.5 1524.5L881.7 1518.1L878.7 1511.7L875.7 1505.4L872.6 1499.1L869.5 1492.8L866.2 1486.6L862.8 1480.5L859.4 1474.4L855.9 1468.4L852.4 1462.4L848.8 1456.4L845.1 1450.6L841.3 1444.7L837.5 1439L833.6 1433.2L829.7 1427.5L825.7 1421.9L821.7 1416.3L817.6 1410.8L813.5 1405.3L809.3 1399.9L805 1394.5L800.8 1389.1L796.4 1383.8L792.1 1378.6L787.7 1373.4L783.2 1368.2L778.7 1363.1L774.2 1358L769.6 1352.9L765 1347.9L760.4 1342.9L755.7 1338L751 1333.1L746.2 1328.3L741.5 1323.5L736.6 1318.7L731.8 1313.9L726.9 1309.2L721.9 1304.6L716.9 1299.9L711.9 1295.3L706.8 1290.8L701.7 1286.3L696.6 1281.8L691.4 1277.4L686.2 1273L680.9 1268.6L675.6 1264.3L670.2 1260L664.8 1255.8L659.4 1251.6L653.9 1247.5L648.3 1243.4L642.7 1239.4L637.1 1235.4L631.4 1231.5L625.7 1227.6L619.9 1223.8L614 1220.1L608.1 1216.4L602.2 1212.8L596.2 1209.2L590.1 1205.8L584 1202.4L577.9 1199L571.7 1195.8L565.4 1192.6L559.1 1189.5L552.7 1186.5L546.3 1183.6L539.9 1180.7L533.4 1178L526.8 1175.4L520.2 1172.8L513.6 1170.4L506.9 1168L500.2 1165.8L493.4 1163.7L486.6 1161.6L479.7 1159.7L472.9 1157.9L465.9 1156.3L459 1154.7L452 1153.2L445 1151.9L438 1150.7L430.9 1149.6L423.9 1148.7L416.8 1147.8L409.7 1147.1L402.6 1146.6L395.4 1146.1L388.3 1145.8L381.1 1145.6L374 1145.5L372 1145.5Z" fill="#00dcff"/>
<path d="M372 1692L897.6 1692L897.6 1690L897.5 1683.2L897.3 1676.3L897 1669.5L896.5 1662.7L895.9 1655.9L895.2 1649.1L894.3 1642.3L893.3 1635.6L892.2 1628.8L890.9 1622.1L889.5 1615.4L888 1608.8L886.3 1602.2L884.6 1595.6L882.7 1589.1L880.7 1582.6L878.6 1576.1L876.4 1569.7L874.1 1563.3L871.6 1557L869.1 1550.7L866.4 1544.5L863.7 1538.3L860.9 1532.2L858 1526.1L855 1520.1L851.9 1514.1L848.7 1508.2L845.5 1502.4L842.2 1496.6L838.8 1490.8L835.3 1485.1L831.8 1479.5L828.2 1473.9L824.6 1468.4L820.8 1462.9L817.1 1457.5L813.3 1452.1L809.4 1446.7L805.5 1441.5L801.6 1436.2L797.6 1431.1L793.6 1425.9L789.5 1420.8L785.4 1415.8L781.3 1410.8L777.1 1405.8L772.9 1400.9L768.7 1396L764.4 1391.2L760.1 1386.4L755.8 1381.6L751.5 1376.8L747.1 1372.1L742.7 1367.4L738.3 1362.8L733.9 1358.2L729.4 1353.6L724.9 1349L720.4 1344.5L715.8 1340L711.2 1335.5L706.6 1331L702 1326.6L697.4 1322.2L692.7 1317.8L687.9 1313.5L683.2 1309.1L678.4 1304.8L673.6 1300.5L668.7 1296.3L663.8 1292.1L658.9 1287.9L653.9 1283.7L648.9 1279.6L643.8 1275.5L638.7 1271.5L633.6 1267.4L628.4 1263.5L623.1 1259.5L617.9 1255.6L612.5 1251.8L607.1 1248L601.7 1244.3L596.2 1240.6L590.6 1236.9L585 1233.3L579.4 1229.8L573.7 1226.4L567.9 1223L562.1 1219.7L556.2 1216.5L550.3 1213.3L544.3 1210.2L538.3 1207.2L532.2 1204.3L526.1 1201.5L519.9 1198.8L513.6 1196.1L507.3 1193.6L501 1191.2L494.6 1188.9L488.2 1186.6L481.7 1184.5L475.2 1182.6L468.6 1180.7L462 1178.9L455.4 1177.3L448.7 1175.8L442.1 1174.4L435.3 1173.1L428.6 1172L421.8 1171L415 1170.1L408.2 1169.4L401.4 1168.8L394.5 1168.3L387.7 1167.9L380.9 1167.7L374 1167.7L372 1167.7Z" fill="#0064ff"/>
<path d="M372 1692L855.3 1692L855.3 1690L855.3 1683.7L855 1677.4L854.7 1671.2L854.2 1664.9L853.5 1658.6L852.7 1652.4L851.8 1646.2L850.7 1640L849.5 1633.9L848.2 1627.7L846.7 1621.6L845.1 1615.6L843.4 1609.5L841.5 1603.6L839.5 1597.6L837.4 1591.7L835.2 1585.9L832.9 1580.1L830.4 1574.4L827.9 1568.7L825.3 1563L822.5 1557.5L819.7 1552L816.8 1546.5L813.8 1541.1L810.7 1535.7L807.5 1530.5L804.3 1525.2L801 1520.1L797.6 1515L794.2 1509.9L790.7 1504.9L787.1 1500L783.6 1495.1L779.9 1490.3L776.2 1485.5L772.5 1480.8L768.8 1476.2L765 1471.6L761.2 1467L757.4 1462.5L753.5 1458L749.6 1453.6L745.7 1449.2L741.8 1444.8L737.9 1440.5L734 1436.2L730 1432L726 1427.8L722.1 1423.6L718.1 1419.4L714.1 1415.3L710.1 1411.1L706.1 1407L702.2 1402.9L698.1 1398.9L694.1 1394.8L690.1 1390.7L686.1 1386.7L682.1 1382.7L678 1378.7L674 1374.7L669.9 1370.6L665.9 1366.7L661.8 1362.7L657.7 1358.7L653.6 1354.7L649.4 1350.7L645.3 1346.7L641.1 1342.8L636.9 1338.8L632.7 1334.9L628.4 1330.9L624.1 1327L619.8 1323.1L615.4 1319.2L611 1315.3L606.6 1311.4L602.1 1307.6L597.5 1303.8L593 1300L588.4 1296.2L583.7 1292.4L579 1288.7L574.2 1285.1L569.3 1281.5L564.5 1277.9L559.5 1274.3L554.5 1270.9L549.5 1267.4L544.3 1264.1L539.2 1260.8L533.9 1257.6L528.6 1254.4L523.3 1251.3L517.9 1248.3L512.4 1245.4L506.9 1242.6L501.3 1239.9L495.6 1237.2L489.9 1234.7L484.2 1232.3L478.4 1229.9L472.5 1227.7L466.6 1225.6L460.6 1223.7L454.7 1221.8L448.6 1220.1L442.5 1218.5L436.4 1217L430.3 1215.7L424.1 1214.5L417.9 1213.4L411.7 1212.5L405.4 1211.7L399.2 1211L392.9 1210.5L386.6 1210.2L380.3 1209.9L374 1209.9L372 1209.9Z" fill="#0000ff"/>
</g>
<rect x="370.7" y="1019.9" width="675.4" height="3.6" fill="#ee0000"/>
<rect x="1040.7" y="1019.9" width="5.4" height="669.6" fill="#ee0000"/>
<path d="M370.7 1019.9H377.4V1694.3H370.7ZM370.7 1688.5H1109V1694.3H370.7ZM402.9 1682.1H405.9V1689.5H402.9ZM433.4 1682.1H436.4V1689.5H433.4ZM463.8 1682.1H466.8V1689.5H463.8ZM492.8 1672.5H498.6V1689.5H492.8ZM524.6 1682.1H527.6V1689.5H524.6ZM555.1 1682.1H558.1V1689.5H555.1ZM585.5 1682.1H588.5V1689.5H585.5ZM614.5 1672.5H620.3V1689.5H614.5ZM646.3 1682.1H649.3V1689.5H646.3ZM676.8 1682.1H679.8V1689.5H676.8ZM707.2 1682.1H710.2V1689.5H707.2ZM736.2 1672.5H742V1689.5H736.2ZM768 1682.1H771V1689.5H768ZM798.5 1682.1H801.5V1689.5H798.5ZM828.9 1682.1H831.9V1689.5H828.9ZM857.9 1672.5H863.7V1689.5H857.9ZM889.7 1682.1H892.7V1689.5H889.7ZM920.1 1682.1H923.1V1689.5H920.1ZM950.6 1682.1H953.6V1689.5H950.6ZM979.6 1672.5H985.4V1689.5H979.6ZM1011.4 1682.1H1014.4V1689.5H1011.4ZM1041.8 1682.1H1044.8V1689.5H1041.8ZM1072.3 1682.1H1075.3V1689.5H1072.3ZM1101.3 1672.5H1107.1V1689.5H1101.3ZM376.4 1658.4H383.4V1661H376.4ZM376.4 1628H383.4V1630.6H376.4ZM376.4 1597.7H383.4V1600.2H376.4ZM376.4 1565.8H392.8V1571.3H376.4ZM376.4 1537H383.4V1539.5H376.4ZM376.4 1506.6H383.4V1509.2H376.4ZM376.4 1476.2H383.4V1478.8H376.4ZM376.4 1444.5H392.8V1450H376.4ZM376.4 1415.5H383.4V1418.1H376.4ZM376.4 1385.2H383.4V1387.8H376.4ZM376.4 1354.9H383.4V1357.5H376.4ZM376.4 1323H392.8V1328.5H376.4ZM376.4 1294.2H383.4V1296.8H376.4ZM376.4 1263.8H383.4V1266.4H376.4ZM376.4 1233.5H383.4V1236H376.4ZM376.4 1201.7H392.8V1207.2H376.4ZM376.4 1172.8H383.4V1175.3H376.4ZM376.4 1142.4H383.4V1145H376.4ZM376.4 1112H383.4V1114.6H376.4ZM376.4 1080.2H392.8V1085.8H376.4ZM376.4 1051.4H383.4V1054H376.4Z" fill="#000"/>
<clipPath id="clipe"><rect x="1580" y="1022.3" width="668.8" height="667.7"/></clipPath>
<g clip-path="url(#clipe)" shape-rendering="crispEdges">
<rect x="1578" y="1020.3" width="672.8" height="671.7" fill="#0064ff"/>
<path d="M1579 1691L2264 1691L2264 1674.8L2264 1674.8L2264 1659.7L2264 1659.7L2264 1644.5L2264 1644.5L2264 1629.3L2264 1629.3L2264 1614.1L2264 1614.1L2264 1599L2264 1599L2264 1583.8L2264 1583.8L2264 1568.6L2264 1568.6L2264 1553.4L2264 1553.4L2264 1538.2L2264 1538.2L2264 1523.1L2264 1523.1L2264 1507.9L2264 1507.9L2264 1492.7L2264 1492.7L2248.8 1477.5L2248.8 1477.5L2248.8 1462.4L2248.8 1462.4L2233.6 1447.2L2233.6 1447.2L2233.6 1432L2233.6 1432L2218.4 1416.8L2218.4 1416.8L2218.4 1401.7L2218.4 1401.7L2203.2 1386.5L2203.2 1386.5L2188 1371.3L2188 1371.3L2188 1356.2L2188 1356.2L2172.8 1341L2172.8 1341L2157.6 1325.8L2157.6 1325.8L2142.4 1310.6L2142.4 1310.6L2142.4 1295.5L2142.4 1295.5L2127.2 1280.3L2127.2 1280.3L2112 1265.1L2112 1265.1L2096.8 1249.9L2096.8 1249.9L2081.6 1234.8L2081.6 1234.8L2066.4 1219.6L2066.4 1219.6L2051.2 1204.4L2051.2 1204.4L2036 1189.2L2036 1189.2L2020.8 1174L2020.8 1174L2005.6 1158.9L2005.6 1158.9L1990.4 1143.7L1990.4 1143.7L1975.2 1128.5L1960 1128.5L1944.8 1113.3L1944.8 1113.3L1929.6 1098.2L1929.6 1098.2L1914.4 1083L1899.2 1083L1884 1067.8L1884 1067.8L1868.8 1052.7L1853.6 1052.7L1838.4 1037.5L1823.2 1037.5L1808 1022.3L1792.8 1022.3L1777.6 1007.1L1579 1007.1Z" fill="#00dcff"/>
</g>
<g clip-path="url(#clipe)">
<path d="M1578 1692L2221.7 1692L2221.7 1690L2221.6 1681.6L2221.4 1673.2L2221 1664.9L2220.5 1656.5L2219.9 1648.1L2219.1 1639.8L2218.2 1631.5L2217.2 1623.1L2216 1614.9L2214.6 1606.6L2213.2 1598.3L2211.6 1590.1L2209.8 1582L2208 1573.8L2206 1565.7L2203.8 1557.6L2201.6 1549.6L2199.2 1541.6L2196.7 1533.6L2194.1 1525.7L2191.4 1517.9L2188.5 1510L2185.6 1502.3L2182.5 1494.6L2179.3 1486.9L2176 1479.3L2172.7 1471.7L2169.2 1464.2L2165.6 1456.8L2161.9 1449.4L2158.1 1442L2154.3 1434.7L2150.3 1427.5L2146.3 1420.3L2142.2 1413.2L2138 1406.2L2133.7 1399.2L2129.3 1392.2L2124.9 1385.4L2120.4 1378.5L2115.8 1371.8L2111.1 1365.1L2106.4 1358.4L2101.6 1351.8L2096.8 1345.3L2091.8 1338.8L2086.9 1332.4L2081.8 1326L2076.7 1319.7L2071.6 1313.4L2066.4 1307.2L2061.1 1301.1L2055.8 1295L2050.4 1288.9L2045 1282.9L2039.5 1277L2033.9 1271.1L2028.4 1265.2L2022.7 1259.4L2017 1253.7L2011.3 1248L2005.5 1242.4L1999.6 1236.8L1993.7 1231.3L1987.8 1225.8L1981.8 1220.4L1975.7 1215L1969.6 1209.7L1963.4 1204.4L1957.2 1199.2L1950.9 1194.1L1944.6 1189L1938.2 1184L1931.8 1179L1925.3 1174.1L1918.7 1169.3L1912.1 1164.5L1905.5 1159.8L1898.7 1155.1L1892 1150.5L1885.1 1146L1878.2 1141.6L1871.3 1137.2L1864.3 1133L1857.2 1128.8L1850.1 1124.7L1842.9 1120.6L1835.7 1116.7L1828.4 1112.8L1821 1109L1813.6 1105.4L1806.2 1101.8L1798.6 1098.3L1791.1 1094.9L1783.4 1091.7L1775.8 1088.5L1768 1085.4L1760.3 1082.5L1752.4 1079.6L1744.5 1076.9L1736.6 1074.3L1728.7 1071.8L1720.7 1069.4L1712.6 1067.2L1704.5 1065.1L1696.4 1063.1L1688.2 1061.2L1680 1059.5L1671.8 1057.9L1663.5 1056.4L1655.3 1055.1L1647 1053.9L1638.6 1052.8L1630.3 1051.9L1621.9 1051.1L1613.6 1050.5L1605.2 1050L1596.8 1049.7L1588.4 1049.4L1580 1049.4L1578 1049.4Z" fill="#00ffd0"/>
<path d="M1578 1692L2212.9 1692L2212.9 1690L2212.9 1681.7L2212.7 1673.5L2212.3 1665.2L2211.8 1656.9L2211.2 1648.7L2210.5 1640.5L2209.6 1632.2L2208.5 1624L2207.4 1615.9L2206.1 1607.7L2204.7 1599.6L2203.1 1591.5L2201.4 1583.4L2199.6 1575.3L2197.7 1567.3L2195.7 1559.4L2193.5 1551.4L2191.2 1543.5L2188.8 1535.6L2186.2 1527.8L2183.6 1520.1L2180.8 1512.3L2177.9 1504.6L2175 1497L2171.9 1489.4L2168.7 1481.9L2165.4 1474.4L2162 1467L2158.5 1459.6L2154.9 1452.3L2151.2 1445L2147.5 1437.8L2143.6 1430.6L2139.7 1423.5L2135.6 1416.4L2131.5 1409.4L2127.3 1402.5L2123.1 1395.6L2118.7 1388.8L2114.3 1382L2109.8 1375.3L2105.3 1368.7L2100.6 1362.1L2095.9 1355.5L2091.2 1349L2086.3 1342.6L2081.4 1336.2L2076.5 1329.9L2071.5 1323.6L2066.4 1317.4L2061.2 1311.2L2056.1 1305.1L2050.8 1299.1L2045.5 1293.1L2040.1 1287.1L2034.7 1281.2L2029.2 1275.4L2023.7 1269.6L2018.1 1263.9L2012.5 1258.2L2006.8 1252.6L2001.1 1247L1995.3 1241.5L1989.4 1236L1983.5 1230.6L1977.6 1225.3L1971.6 1220L1965.5 1214.7L1959.4 1209.5L1953.2 1204.4L1947 1199.3L1940.7 1194.3L1934.4 1189.4L1928 1184.5L1921.5 1179.7L1915 1174.9L1908.5 1170.2L1901.9 1165.6L1895.2 1161.1L1888.5 1156.6L1881.7 1152.2L1874.9 1147.8L1868 1143.6L1861 1139.4L1854 1135.3L1846.9 1131.2L1839.8 1127.3L1832.7 1123.5L1825.4 1119.7L1818.1 1116L1810.8 1112.4L1803.4 1109L1796 1105.6L1788.5 1102.3L1780.9 1099.1L1773.3 1096L1765.7 1093L1758 1090.2L1750.2 1087.4L1742.4 1084.8L1734.6 1082.2L1726.7 1079.8L1718.8 1077.5L1710.9 1075.4L1702.9 1073.3L1694.8 1071.4L1686.8 1069.6L1678.7 1067.9L1670.6 1066.3L1662.4 1064.9L1654.3 1063.6L1646.1 1062.5L1637.8 1061.5L1629.6 1060.6L1621.4 1059.8L1613.1 1059.2L1604.8 1058.7L1596.6 1058.4L1588.3 1058.2L1580 1058.1L1578 1058.1Z" fill="#00ff66"/>
<path d="M1578 1692L2209.3 1692L2209.3 1690L2209.2 1681.8L2209 1673.6L2208.7 1665.3L2208.2 1657.1L2207.6 1648.9L2206.8 1640.8L2205.9 1632.6L2204.9 1624.4L2203.7 1616.3L2202.4 1608.2L2201 1600.1L2199.5 1592L2197.8 1584L2196 1576L2194 1568.1L2192 1560.1L2189.8 1552.2L2187.5 1544.4L2185.1 1536.6L2182.6 1528.8L2179.9 1521.1L2177.1 1513.4L2174.3 1505.8L2171.3 1498.2L2168.2 1490.7L2165 1483.2L2161.7 1475.7L2158.3 1468.4L2154.8 1461L2151.3 1453.8L2147.6 1446.5L2143.8 1439.4L2140 1432.3L2136 1425.2L2132 1418.2L2127.9 1411.3L2123.7 1404.4L2119.5 1397.6L2115.2 1390.8L2110.8 1384.1L2106.3 1377.4L2101.7 1370.8L2097.1 1364.3L2092.4 1357.8L2087.7 1351.3L2082.9 1344.9L2078 1338.6L2073.1 1332.3L2068.1 1326.1L2063 1320L2057.9 1313.8L2052.8 1307.8L2047.5 1301.8L2042.3 1295.8L2036.9 1289.9L2031.6 1284.1L2026.1 1278.3L2020.6 1272.5L2015.1 1266.9L2009.5 1261.2L2003.8 1255.6L1998.1 1250.1L1992.4 1244.6L1986.6 1239.2L1980.7 1233.8L1974.8 1228.5L1968.9 1223.2L1962.8 1218L1956.8 1212.9L1950.6 1207.8L1944.5 1202.7L1938.2 1197.7L1932 1192.8L1925.6 1187.9L1919.2 1183.1L1912.8 1178.4L1906.3 1173.7L1899.7 1169.1L1893.1 1164.6L1886.4 1160.1L1879.7 1155.7L1872.9 1151.4L1866.1 1147.1L1859.2 1143L1852.2 1138.9L1845.2 1134.9L1838.2 1130.9L1831 1127.1L1823.9 1123.3L1816.6 1119.7L1809.3 1116.1L1802 1112.6L1794.6 1109.2L1787.2 1105.9L1779.7 1102.8L1772.1 1099.7L1764.5 1096.7L1756.9 1093.8L1749.2 1091.1L1741.5 1088.4L1733.7 1085.9L1725.8 1083.5L1718 1081.2L1710.1 1079L1702.1 1077L1694.2 1075L1686.2 1073.2L1678.1 1071.6L1670 1070L1661.9 1068.6L1653.8 1067.3L1645.7 1066.1L1637.5 1065.1L1629.3 1064.2L1621.1 1063.5L1612.9 1062.9L1604.7 1062.4L1596.5 1062L1588.2 1061.8L1580 1061.8L1578 1061.8Z" fill="#00ff00"/>
<path d="M1578 1692L2204.8 1692L2204.8 1690L2204.8 1681.8L2204.6 1673.7L2204.2 1665.5L2203.7 1657.4L2203.1 1649.2L2202.4 1641.1L2201.5 1633L2200.5 1624.9L2199.3 1616.8L2198 1608.8L2196.6 1600.7L2195.1 1592.7L2193.4 1584.8L2191.6 1576.8L2189.7 1568.9L2187.6 1561.1L2185.5 1553.2L2183.2 1545.4L2180.8 1537.7L2178.2 1530L2175.6 1522.3L2172.9 1514.7L2170 1507.1L2167 1499.6L2164 1492.1L2160.8 1484.7L2157.5 1477.3L2154.1 1470L2150.7 1462.7L2147.1 1455.5L2143.5 1448.3L2139.7 1441.2L2135.9 1434.2L2132 1427.2L2128 1420.2L2123.9 1413.3L2119.7 1406.5L2115.5 1399.7L2111.2 1393L2106.8 1386.3L2102.4 1379.7L2097.9 1373.2L2093.3 1366.7L2088.6 1360.2L2083.9 1353.8L2079.1 1347.5L2074.3 1341.2L2069.4 1335L2064.4 1328.8L2059.4 1322.7L2054.4 1316.7L2049.2 1310.7L2044 1304.7L2038.8 1298.8L2033.5 1292.9L2028.2 1287.1L2022.8 1281.4L2017.3 1275.7L2011.8 1270L2006.3 1264.4L2000.7 1258.9L1995 1253.4L1989.3 1248L1983.5 1242.6L1977.7 1237.2L1971.9 1231.9L1965.9 1226.7L1960 1221.5L1954 1216.4L1947.9 1211.4L1941.8 1206.4L1935.6 1201.4L1929.3 1196.5L1923 1191.7L1916.7 1186.9L1910.3 1182.2L1903.9 1177.6L1897.3 1173L1890.8 1168.5L1884.2 1164L1877.5 1159.7L1870.8 1155.4L1864 1151.1L1857.1 1147L1850.2 1142.9L1843.3 1138.9L1836.3 1135L1829.2 1131.2L1822.1 1127.5L1814.9 1123.8L1807.7 1120.3L1800.4 1116.8L1793.1 1113.4L1785.7 1110.2L1778.2 1107L1770.7 1103.9L1763.2 1101L1755.6 1098.1L1748 1095.4L1740.3 1092.7L1732.6 1090.2L1724.8 1087.8L1717 1085.5L1709.2 1083.4L1701.3 1081.3L1693.4 1079.4L1685.4 1077.6L1677.4 1075.9L1669.4 1074.4L1661.4 1073L1653.3 1071.7L1645.2 1070.5L1637.1 1069.5L1629 1068.6L1620.8 1067.9L1612.7 1067.3L1604.5 1066.8L1596.4 1066.5L1588.2 1066.3L1580 1066.2L1578 1066.2Z" fill="#d8ff00"/>
<path d="M1578 1692L2201.4 1692L2201.4 1690L2201.3 1681.9L2201.1 1673.8L2200.8 1665.7L2200.3 1657.5L2199.7 1649.5L2198.9 1641.4L2198.1 1633.3L2197.1 1625.2L2195.9 1617.2L2194.7 1609.2L2193.3 1601.2L2191.7 1593.3L2190.1 1585.3L2188.3 1577.4L2186.4 1569.6L2184.4 1561.7L2182.3 1553.9L2180 1546.2L2177.6 1538.5L2175.1 1530.8L2172.5 1523.2L2169.8 1515.6L2167 1508L2164.1 1500.5L2161 1493.1L2157.9 1485.7L2154.7 1478.3L2151.3 1471L2147.9 1463.8L2144.4 1456.6L2140.8 1449.5L2137.1 1442.4L2133.3 1435.4L2129.4 1428.4L2125.5 1421.5L2121.4 1414.6L2117.3 1407.8L2113.1 1401L2108.8 1394.3L2104.5 1387.7L2100.1 1381.1L2095.6 1374.6L2091.1 1368.1L2086.4 1361.6L2081.8 1355.3L2077 1349L2072.2 1342.7L2067.4 1336.5L2062.4 1330.3L2057.4 1324.2L2052.4 1318.2L2047.3 1312.2L2042.1 1306.3L2036.9 1300.4L2031.7 1294.5L2026.4 1288.8L2021 1283L2015.6 1277.4L2010.1 1271.7L2004.5 1266.2L1999 1260.6L1993.3 1255.2L1987.6 1249.7L1981.9 1244.4L1976.1 1239.1L1970.3 1233.8L1964.4 1228.6L1958.4 1223.5L1952.4 1218.4L1946.4 1213.3L1940.2 1208.4L1934.1 1203.4L1927.9 1198.6L1921.6 1193.8L1915.3 1189.1L1908.9 1184.4L1902.5 1179.8L1896 1175.2L1889.4 1170.8L1882.8 1166.4L1876.2 1162L1869.5 1157.8L1862.7 1153.6L1855.9 1149.5L1849 1145.4L1842.1 1141.5L1835.1 1137.6L1828 1133.8L1820.9 1130.1L1813.8 1126.5L1806.6 1123L1799.3 1119.6L1792 1116.3L1784.6 1113L1777.2 1109.9L1769.8 1106.9L1762.3 1104L1754.7 1101.1L1747.1 1098.4L1739.5 1095.8L1731.8 1093.4L1724 1091L1716.3 1088.7L1708.5 1086.6L1700.6 1084.6L1692.7 1082.7L1684.8 1080.9L1676.9 1079.3L1668.9 1077.7L1660.9 1076.3L1652.9 1075.1L1644.9 1073.9L1636.8 1072.9L1628.7 1072.1L1620.6 1071.3L1612.5 1070.7L1604.4 1070.3L1596.3 1069.9L1588.1 1069.7L1580 1069.6L1578 1069.6Z" fill="#ff0000"/>
<path d="M1578 1692L2195.5 1692L2195.5 1690L2195.5 1682L2195.3 1673.9L2194.9 1665.9L2194.4 1657.9L2193.8 1649.8L2193.1 1641.8L2192.2 1633.8L2191.2 1625.9L2190 1617.9L2188.7 1610L2187.3 1602.1L2185.8 1594.2L2184.1 1586.4L2182.3 1578.6L2180.4 1570.8L2178.3 1563L2176.1 1555.3L2173.9 1547.7L2171.4 1540L2168.9 1532.5L2166.3 1524.9L2163.6 1517.4L2160.7 1510L2157.7 1502.6L2154.7 1495.2L2151.5 1487.9L2148.3 1480.7L2144.9 1473.5L2141.4 1466.4L2137.9 1459.3L2134.3 1452.3L2130.5 1445.3L2126.7 1438.4L2122.8 1431.5L2118.9 1424.7L2114.8 1417.9L2110.7 1411.2L2106.5 1404.6L2102.2 1398L2097.9 1391.5L2093.5 1385L2089 1378.6L2084.5 1372.2L2079.9 1365.9L2075.2 1359.6L2070.5 1353.4L2065.7 1347.3L2060.9 1341.2L2056 1335.1L2051.1 1329.1L2046.1 1323.2L2041 1317.3L2035.9 1311.5L2030.7 1305.7L2025.5 1299.9L2020.3 1294.2L2015 1288.6L2009.6 1283L2004.2 1277.4L1998.7 1271.9L1993.2 1266.5L1987.7 1261.1L1982.1 1255.7L1976.4 1250.5L1970.7 1245.2L1965 1240L1959.2 1234.9L1953.3 1229.8L1947.4 1224.7L1941.5 1219.7L1935.4 1214.8L1929.4 1209.9L1923.3 1205.1L1917.1 1200.3L1910.9 1195.6L1904.6 1190.9L1898.3 1186.3L1891.9 1181.8L1885.5 1177.3L1879 1172.9L1872.5 1168.6L1865.9 1164.4L1859.2 1160.2L1852.5 1156L1845.7 1152L1838.9 1148L1832 1144.2L1825.1 1140.4L1818.1 1136.6L1811.1 1133L1804 1129.5L1796.8 1126L1789.6 1122.7L1782.4 1119.4L1775.1 1116.3L1767.7 1113.2L1760.3 1110.3L1752.9 1107.4L1745.4 1104.7L1737.8 1102L1730.2 1099.5L1722.6 1097.1L1714.9 1094.8L1707.2 1092.7L1699.4 1090.6L1691.6 1088.7L1683.8 1086.9L1675.9 1085.2L1668.1 1083.7L1660.1 1082.3L1652.2 1081L1644.2 1079.8L1636.3 1078.8L1628.2 1077.9L1620.2 1077.2L1612.2 1076.6L1604.2 1076.1L1596.1 1075.7L1588.1 1075.5L1580 1075.5L1578 1075.5Z" fill="#ff6600"/>
<path d="M1578 1692L2192.3 1692L2192.3 1690L2192.2 1682L2192 1674L2191.6 1666L2191.2 1658L2190.5 1650L2189.8 1642.1L2188.9 1634.1L2187.9 1626.2L2186.7 1618.3L2185.4 1610.4L2184 1602.6L2182.4 1594.7L2180.7 1586.9L2178.9 1579.2L2177 1571.4L2174.9 1563.7L2172.8 1556.1L2170.5 1548.5L2168.1 1540.9L2165.5 1533.4L2162.9 1525.9L2160.1 1518.4L2157.3 1511L2154.3 1503.7L2151.2 1496.4L2148.1 1489.2L2144.8 1482L2141.4 1474.8L2138 1467.8L2134.4 1460.7L2130.8 1453.8L2127.1 1446.8L2123.2 1440L2119.4 1433.2L2115.4 1426.4L2111.3 1419.7L2107.2 1413.1L2103 1406.5L2098.8 1400L2094.4 1393.5L2090 1387.1L2085.6 1380.7L2081 1374.4L2076.5 1368.1L2071.8 1361.9L2067.1 1355.8L2062.3 1349.7L2057.5 1343.6L2052.7 1337.6L2047.7 1331.7L2042.8 1325.8L2037.7 1319.9L2032.7 1314.2L2027.5 1308.4L2022.3 1302.7L2017.1 1297.1L2011.8 1291.5L2006.5 1285.9L2001.2 1280.4L1995.7 1275L1990.3 1269.5L1984.8 1264.2L1979.2 1258.9L1973.6 1253.6L1967.9 1248.4L1962.2 1243.2L1956.5 1238.1L1950.7 1233L1944.8 1228L1938.9 1223L1933 1218.1L1926.9 1213.3L1920.9 1208.4L1914.8 1203.7L1908.6 1199L1902.4 1194.4L1896.1 1189.8L1889.8 1185.3L1883.4 1180.8L1877 1176.4L1870.5 1172.1L1864 1167.8L1857.4 1163.6L1850.7 1159.5L1844 1155.5L1837.3 1151.5L1830.4 1147.6L1823.6 1143.8L1816.6 1140.1L1809.6 1136.5L1802.6 1133L1795.5 1129.5L1788.4 1126.1L1781.2 1122.9L1773.9 1119.7L1766.6 1116.6L1759.2 1113.7L1751.8 1110.8L1744.4 1108.1L1736.9 1105.4L1729.3 1102.9L1721.8 1100.5L1714.1 1098.2L1706.5 1096L1698.8 1094L1691 1092.1L1683.2 1090.2L1675.4 1088.6L1667.6 1087L1659.7 1085.6L1651.8 1084.3L1643.9 1083.1L1635.9 1082.1L1628 1081.2L1620 1080.5L1612 1079.9L1604 1079.4L1596 1079L1588 1078.8L1580 1078.8L1578 1078.8Z" fill="#ffcc00"/>
<path d="M1578 1692L2185 1692L2185 1690L2184.9 1682.1L2184.7 1674.2L2184.3 1666.3L2183.9 1658.4L2183.3 1650.5L2182.5 1642.7L2181.6 1634.8L2180.6 1627L2179.5 1619.2L2178.2 1611.4L2176.8 1603.6L2175.2 1595.9L2173.6 1588.2L2171.8 1580.5L2169.8 1572.9L2167.8 1565.3L2165.6 1557.7L2163.4 1550.2L2161 1542.7L2158.5 1535.3L2155.9 1527.9L2153.1 1520.5L2150.3 1513.2L2147.4 1506L2144.3 1498.8L2141.2 1491.6L2137.9 1484.5L2134.6 1477.5L2131.2 1470.5L2127.7 1463.5L2124.1 1456.6L2120.4 1449.8L2116.6 1443L2112.8 1436.3L2108.8 1429.6L2104.8 1423L2100.8 1416.5L2096.6 1410L2092.4 1403.5L2088.1 1397.1L2083.8 1390.8L2079.4 1384.5L2074.9 1378.3L2070.3 1372.1L2065.7 1366L2061.1 1359.9L2056.4 1353.9L2051.6 1347.9L2046.8 1342L2041.9 1336.1L2037 1330.3L2032.1 1324.5L2027 1318.8L2022 1313.1L2016.9 1307.5L2011.7 1301.9L2006.5 1296.4L2001.2 1290.9L1995.9 1285.5L1990.6 1280.1L1985.2 1274.8L1979.7 1269.5L1974.2 1264.2L1968.7 1259L1963.1 1253.9L1957.5 1248.8L1951.8 1243.7L1946.1 1238.7L1940.3 1233.7L1934.5 1228.8L1928.6 1224L1922.7 1219.1L1916.7 1214.4L1910.6 1209.7L1904.6 1205.1L1898.4 1200.5L1892.2 1195.9L1886 1191.5L1879.7 1187.1L1873.4 1182.7L1867 1178.4L1860.5 1174.2L1854 1170.1L1847.4 1166L1840.8 1162L1834.1 1158.1L1827.4 1154.3L1820.6 1150.5L1813.8 1146.8L1806.9 1143.2L1799.9 1139.7L1792.9 1136.3L1785.8 1133L1778.7 1129.7L1771.6 1126.6L1764.3 1123.6L1757.1 1120.6L1749.8 1117.8L1742.4 1115.1L1735 1112.5L1727.5 1110L1720.1 1107.6L1712.5 1105.3L1704.9 1103.2L1697.3 1101.1L1689.7 1099.2L1682 1097.4L1674.3 1095.8L1666.5 1094.2L1658.8 1092.8L1650.9 1091.5L1643.1 1090.4L1635.3 1089.4L1627.4 1088.5L1619.5 1087.7L1611.6 1087.1L1603.7 1086.6L1595.8 1086.3L1587.9 1086.1L1580 1086L1578 1086Z" fill="#d8ff00"/>
<path d="M1578 1692L2177.8 1692L2177.8 1690L2177.8 1682.2L2177.6 1674.4L2177.2 1666.6L2176.8 1658.8L2176.1 1651L2175.4 1643.2L2174.5 1635.5L2173.5 1627.7L2172.3 1620L2171.1 1612.3L2169.7 1604.6L2168.1 1597L2166.5 1589.4L2164.7 1581.8L2162.8 1574.3L2160.7 1566.8L2158.6 1559.3L2156.3 1551.9L2153.9 1544.5L2151.4 1537.1L2148.8 1529.8L2146.1 1522.6L2143.3 1515.4L2140.3 1508.2L2137.3 1501.1L2134.2 1494.1L2131 1487.1L2127.6 1480.1L2124.2 1473.2L2120.7 1466.4L2117.2 1459.6L2113.5 1452.9L2109.7 1446.2L2105.9 1439.6L2102 1433L2098 1426.5L2094 1420L2089.9 1413.6L2085.7 1407.3L2081.4 1401L2077.1 1394.7L2072.8 1388.5L2068.3 1382.4L2063.8 1376.3L2059.3 1370.3L2054.7 1364.3L2050 1358.4L2045.3 1352.5L2040.5 1346.7L2035.7 1340.9L2030.9 1335.2L2025.9 1329.5L2021 1323.8L2016 1318.3L2010.9 1312.7L2005.8 1307.2L2000.7 1301.8L1995.5 1296.4L1990.3 1291L1985 1285.7L1979.7 1280.4L1974.3 1275.2L1968.9 1270L1963.4 1264.9L1957.9 1259.8L1952.4 1254.7L1946.8 1249.7L1941.1 1244.8L1935.4 1239.9L1929.7 1235L1923.9 1230.2L1918.1 1225.5L1912.2 1220.8L1906.2 1216.1L1900.2 1211.5L1894.2 1207L1888.1 1202.5L1882 1198.1L1875.8 1193.7L1869.5 1189.4L1863.2 1185.1L1856.8 1181L1850.4 1176.9L1844 1172.8L1837.4 1168.8L1830.9 1164.9L1824.2 1161.1L1817.5 1157.4L1810.8 1153.7L1804 1150.2L1797.1 1146.7L1790.2 1143.3L1783.3 1139.9L1776.2 1136.7L1769.2 1133.6L1762.1 1130.6L1754.9 1127.7L1747.7 1124.8L1740.4 1122.1L1733.1 1119.5L1725.8 1117L1718.4 1114.7L1710.9 1112.4L1703.4 1110.2L1695.9 1108.2L1688.4 1106.3L1680.8 1104.5L1673.1 1102.8L1665.5 1101.3L1657.8 1099.9L1650.1 1098.6L1642.4 1097.5L1634.6 1096.5L1626.9 1095.6L1619.1 1094.8L1611.3 1094.2L1603.5 1093.8L1595.6 1093.4L1587.8 1093.2L1580 1093.1L1578 1093.1Z" fill="#66ff00"/>
<path d="M1578 1692L2171.9 1692L2171.9 1690L2171.9 1682.3L2171.7 1674.5L2171.3 1666.8L2170.8 1659.1L2170.2 1651.4L2169.4 1643.7L2168.5 1636L2167.5 1628.4L2166.3 1620.7L2165 1613.1L2163.6 1605.5L2162 1598L2160.4 1590.4L2158.5 1583L2156.6 1575.5L2154.5 1568.1L2152.3 1560.7L2150 1553.4L2147.6 1546.1L2145.1 1538.8L2142.4 1531.6L2139.7 1524.5L2136.8 1517.4L2133.9 1510.3L2130.8 1503.3L2127.6 1496.4L2124.4 1489.5L2121 1482.7L2117.6 1475.9L2114.1 1469.1L2110.5 1462.5L2106.8 1455.8L2103 1449.3L2099.2 1442.8L2095.3 1436.3L2091.3 1429.9L2087.2 1423.6L2083.1 1417.3L2078.9 1411.1L2074.6 1404.9L2070.3 1398.8L2066 1392.7L2061.5 1386.7L2057 1380.7L2052.5 1374.8L2047.9 1368.9L2043.3 1363.1L2038.6 1357.3L2033.9 1351.6L2029.1 1346L2024.3 1340.3L2019.4 1334.8L2014.5 1329.2L2009.6 1323.7L2004.6 1318.3L1999.5 1312.9L1994.4 1307.5L1989.3 1302.2L1984.2 1296.9L1979 1291.7L1973.7 1286.5L1968.4 1281.3L1963.1 1276.2L1957.7 1271.2L1952.3 1266.1L1946.9 1261.2L1941.4 1256.2L1935.8 1251.3L1930.2 1246.4L1924.6 1241.6L1918.9 1236.9L1913.2 1232.1L1907.4 1227.5L1901.6 1222.8L1895.7 1218.3L1889.8 1213.7L1883.8 1209.3L1877.8 1204.8L1871.7 1200.5L1865.6 1196.2L1859.4 1191.9L1853.1 1187.8L1846.9 1183.6L1840.5 1179.6L1834.1 1175.6L1827.6 1171.7L1821.1 1167.8L1814.5 1164.1L1807.9 1160.4L1801.2 1156.8L1794.5 1153.3L1787.7 1149.8L1780.8 1146.5L1773.9 1143.3L1767 1140.1L1760 1137L1752.9 1134.1L1745.8 1131.2L1738.6 1128.5L1731.4 1125.8L1724.2 1123.3L1716.9 1120.9L1709.5 1118.6L1702.1 1116.4L1694.7 1114.4L1687.2 1112.4L1679.7 1110.6L1672.2 1108.9L1664.6 1107.4L1657 1105.9L1649.4 1104.6L1641.8 1103.5L1634.1 1102.4L1626.4 1101.5L1618.7 1100.8L1611 1100.1L1603.2 1099.7L1595.5 1099.3L1587.7 1099.1L1580 1099L1578 1099Z" fill="#00ff00"/>
<path d="M1578 1692L2158.5 1692L2158.5 1690L2158.4 1682.4L2158.2 1674.9L2157.8 1667.3L2157.4 1659.8L2156.8 1652.3L2156 1644.7L2155.2 1637.2L2154.2 1629.8L2153 1622.3L2151.8 1614.8L2150.4 1607.4L2148.9 1600L2147.3 1592.7L2145.5 1585.4L2143.6 1578.1L2141.6 1570.8L2139.5 1563.6L2137.3 1556.4L2135 1549.3L2132.5 1542.2L2130 1535.2L2127.3 1528.1L2124.5 1521.2L2121.7 1514.3L2118.7 1507.4L2115.6 1500.6L2112.5 1493.9L2109.3 1487.2L2105.9 1480.5L2102.5 1473.9L2099 1467.4L2095.4 1460.9L2091.8 1454.5L2088 1448.1L2084.2 1441.7L2080.4 1435.5L2076.4 1429.2L2072.4 1423.1L2068.3 1417L2064.2 1410.9L2060 1404.9L2055.8 1398.9L2051.5 1393L2047.1 1387.2L2042.7 1381.4L2038.2 1375.6L2033.7 1369.9L2029.1 1364.2L2024.5 1358.6L2019.8 1353.1L2015.1 1347.5L2010.4 1342.1L2005.6 1336.6L2000.7 1331.2L1995.9 1325.9L1990.9 1320.6L1986 1315.4L1980.9 1310.1L1975.9 1305L1970.8 1299.8L1965.7 1294.8L1960.5 1289.7L1955.3 1284.7L1950 1279.8L1944.7 1274.8L1939.3 1270L1933.9 1265.1L1928.5 1260.3L1923 1255.6L1917.5 1250.9L1911.9 1246.2L1906.3 1241.6L1900.6 1237.1L1894.9 1232.6L1889.1 1228.1L1883.3 1223.7L1877.5 1219.3L1871.5 1215L1865.6 1210.8L1859.6 1206.6L1853.5 1202.5L1847.4 1198.4L1841.2 1194.4L1835 1190.5L1828.7 1186.6L1822.3 1182.8L1815.9 1179.1L1809.5 1175.4L1803 1171.8L1796.4 1168.3L1789.8 1164.9L1783.2 1161.6L1776.4 1158.4L1769.7 1155.2L1762.9 1152.2L1756 1149.2L1749.1 1146.4L1742.1 1143.6L1735.1 1140.9L1728 1138.4L1720.9 1135.9L1713.8 1133.6L1706.6 1131.4L1699.4 1129.3L1692.1 1127.3L1684.8 1125.4L1677.5 1123.7L1670.1 1122L1662.7 1120.5L1655.3 1119.2L1647.8 1117.9L1640.3 1116.8L1632.9 1115.8L1625.3 1114.9L1617.8 1114.2L1610.3 1113.6L1602.7 1113.1L1595.1 1112.8L1587.6 1112.6L1580 1112.5L1578 1112.5Z" fill="#00ff66"/>
<path d="M1578 1692L2148.4 1692L2148.4 1690L2148.3 1682.6L2148.1 1675.1L2147.7 1667.7L2147.3 1660.3L2146.6 1652.9L2145.9 1645.5L2145 1638.2L2144 1630.8L2142.8 1623.5L2141.6 1616.2L2140.2 1608.9L2138.6 1601.7L2137 1594.5L2135.2 1587.3L2133.3 1580.1L2131.2 1573L2129.1 1566L2126.8 1558.9L2124.5 1552L2122 1545L2119.4 1538.1L2116.7 1531.3L2113.9 1524.5L2111 1517.8L2108 1511.1L2104.9 1504.4L2101.7 1497.8L2098.5 1491.3L2095.1 1484.8L2091.7 1478.4L2088.2 1472L2084.6 1465.7L2080.9 1459.5L2077.1 1453.3L2073.3 1447.1L2069.5 1441L2065.5 1435L2061.5 1429L2057.5 1423.1L2053.3 1417.2L2049.2 1411.3L2044.9 1405.6L2040.7 1399.8L2036.3 1394.1L2031.9 1388.5L2027.5 1382.9L2023.1 1377.4L2018.5 1371.9L2014 1366.5L2009.4 1361.1L2004.8 1355.7L2000.1 1350.4L1995.4 1345.1L1990.6 1339.9L1985.8 1334.7L1981 1329.5L1976.1 1324.4L1971.2 1319.3L1966.3 1314.3L1961.3 1309.3L1956.3 1304.3L1951.3 1299.4L1946.2 1294.5L1941.1 1289.6L1935.9 1284.8L1930.7 1280.1L1925.5 1275.3L1920.2 1270.6L1914.9 1265.9L1909.5 1261.3L1904.1 1256.7L1898.6 1252.2L1893.1 1247.7L1887.6 1243.2L1882 1238.8L1876.3 1234.4L1870.7 1230.1L1864.9 1225.8L1859.1 1221.6L1853.3 1217.4L1847.4 1213.3L1841.4 1209.3L1835.4 1205.3L1829.4 1201.3L1823.3 1197.5L1817.1 1193.7L1810.9 1189.9L1804.6 1186.3L1798.3 1182.7L1791.9 1179.2L1785.5 1175.7L1779 1172.4L1772.5 1169.1L1765.9 1166L1759.2 1162.9L1752.5 1159.9L1745.8 1157L1739 1154.2L1732.1 1151.5L1725.2 1148.9L1718.3 1146.4L1711.3 1144.1L1704.2 1141.8L1697.2 1139.7L1690.1 1137.6L1682.9 1135.7L1675.7 1134L1668.5 1132.3L1661.2 1130.8L1653.9 1129.4L1646.6 1128.1L1639.3 1126.9L1631.9 1125.9L1624.5 1125L1617.1 1124.3L1609.7 1123.7L1602.3 1123.2L1594.9 1122.9L1587.4 1122.6L1580 1122.6L1578 1122.6Z" fill="#00ffd0"/>
<path d="M1578 1692L2134.9 1692L2134.9 1690L2134.8 1682.7L2134.6 1675.5L2134.2 1668.3L2133.7 1661L2133.1 1653.8L2132.4 1646.6L2131.5 1639.4L2130.4 1632.2L2129.3 1625.1L2127.9 1618L2126.5 1610.9L2125 1603.8L2123.3 1596.8L2121.5 1589.8L2119.5 1582.9L2117.5 1575.9L2115.3 1569.1L2113 1562.2L2110.6 1555.5L2108.1 1548.7L2105.5 1542L2102.7 1535.4L2099.9 1528.8L2097 1522.3L2094 1515.8L2090.9 1509.4L2087.7 1503L2084.4 1496.7L2081 1490.4L2077.6 1484.2L2074 1478.1L2070.4 1472L2066.8 1466L2063 1460L2059.2 1454.1L2055.4 1448.2L2051.5 1442.4L2047.5 1436.6L2043.4 1430.9L2039.4 1425.2L2035.2 1419.6L2031 1414.1L2026.8 1408.5L2022.5 1403.1L2018.2 1397.7L2013.9 1392.3L2009.5 1387L2005 1381.7L2000.6 1376.5L1996.1 1371.3L1991.5 1366.1L1987 1361L1982.4 1355.9L1977.7 1350.9L1973.1 1345.8L1968.4 1340.9L1963.7 1335.9L1958.9 1331L1954.1 1326.1L1949.3 1321.3L1944.5 1316.5L1939.6 1311.7L1934.7 1307L1929.7 1302.3L1924.7 1297.6L1919.7 1292.9L1914.7 1288.3L1909.6 1283.7L1904.4 1279.1L1899.3 1274.6L1894.1 1270.1L1888.8 1265.7L1883.5 1261.2L1878.2 1256.8L1872.8 1252.5L1867.4 1248.2L1861.9 1243.9L1856.4 1239.7L1850.8 1235.5L1845.2 1231.4L1839.5 1227.3L1833.8 1223.3L1828 1219.3L1822.2 1215.4L1816.3 1211.5L1810.4 1207.8L1804.4 1204L1798.4 1200.4L1792.3 1196.8L1786.1 1193.2L1779.9 1189.8L1773.6 1186.4L1767.3 1183.2L1760.9 1180L1754.5 1176.9L1748 1173.9L1741.4 1170.9L1734.8 1168.1L1728.2 1165.4L1721.5 1162.8L1714.8 1160.3L1708 1157.9L1701.1 1155.6L1694.2 1153.4L1687.3 1151.4L1680.4 1149.4L1673.4 1147.6L1666.3 1145.9L1659.2 1144.4L1652.1 1143L1645 1141.7L1637.9 1140.5L1630.7 1139.5L1623.5 1138.6L1616.3 1137.8L1609 1137.2L1601.8 1136.7L1594.5 1136.3L1587.3 1136.1L1580 1136.1L1578 1136.1Z" fill="#00dcff"/>
<path d="M1578 1692L2109.6 1692L2109.6 1690L2109.5 1683.1L2109.3 1676.2L2108.9 1669.3L2108.4 1662.4L2107.7 1655.5L2106.9 1648.6L2106 1641.7L2104.9 1634.9L2103.7 1628.1L2102.4 1621.3L2100.9 1614.6L2099.2 1607.9L2097.5 1601.2L2095.6 1594.6L2093.6 1588L2091.5 1581.5L2089.2 1575L2086.8 1568.5L2084.4 1562.1L2081.8 1555.8L2079.1 1549.5L2076.3 1543.2L2073.4 1537.1L2070.4 1530.9L2067.3 1524.9L2064.1 1518.9L2060.8 1512.9L2057.5 1507L2054.1 1501.2L2050.6 1495.4L2047 1489.7L2043.4 1484L2039.7 1478.4L2035.9 1472.9L2032.1 1467.4L2028.3 1462L2024.4 1456.6L2020.4 1451.3L2016.4 1446L2012.4 1440.8L2008.3 1435.6L2004.2 1430.5L2000 1425.4L1995.8 1420.4L1991.6 1415.4L1987.4 1410.5L1983.1 1405.6L1978.8 1400.7L1974.5 1395.9L1970.2 1391.1L1965.9 1386.3L1961.5 1381.6L1957.1 1376.9L1952.7 1372.2L1948.3 1367.6L1943.8 1362.9L1939.4 1358.4L1934.9 1353.8L1930.4 1349.2L1925.9 1344.7L1921.3 1340.2L1916.8 1335.7L1912.2 1331.2L1907.6 1326.8L1903 1322.3L1898.3 1317.9L1893.6 1313.5L1888.9 1309.1L1884.2 1304.8L1879.4 1300.4L1874.6 1296.1L1869.8 1291.8L1864.9 1287.5L1860 1283.3L1855 1279.1L1850 1274.9L1845 1270.7L1839.9 1266.5L1834.8 1262.4L1829.6 1258.4L1824.4 1254.3L1819.1 1250.3L1813.8 1246.4L1808.4 1242.5L1803 1238.6L1797.5 1234.8L1791.9 1231.1L1786.3 1227.4L1780.6 1223.8L1774.9 1220.2L1769.1 1216.7L1763.3 1213.3L1757.4 1210L1751.4 1206.7L1745.4 1203.5L1739.3 1200.4L1733.2 1197.5L1727 1194.6L1720.7 1191.8L1714.4 1189.1L1708.1 1186.5L1701.7 1184L1695.2 1181.6L1688.7 1179.4L1682.2 1177.3L1675.6 1175.3L1668.9 1173.4L1662.2 1171.6L1655.5 1170L1648.8 1168.5L1642 1167.2L1635.2 1165.9L1628.3 1164.9L1621.5 1163.9L1614.6 1163.1L1607.7 1162.5L1600.8 1162L1593.9 1161.6L1586.9 1161.4L1580 1161.3L1578 1161.3Z" fill="#0064ff"/>
<path d="M1578 1692L2067.4 1692L2067.4 1690L2067.4 1683.6L2067.2 1677.3L2066.9 1670.9L2066.4 1664.5L2065.9 1658.2L2065.2 1651.9L2064.3 1645.6L2063.4 1639.3L2062.3 1633L2061.1 1626.8L2059.7 1620.6L2058.2 1614.4L2056.5 1608.3L2054.7 1602.2L2052.7 1596.1L2050.5 1590.2L2048.1 1584.2L2045.6 1578.4L2042.8 1572.7L2039.8 1567L2036.7 1561.4L2033.4 1555.9L2029.9 1550.5L2026.2 1545.2L2022.5 1540.1L2018.6 1534.9L2014.6 1529.9L2010.6 1525L2006.5 1520.1L2002.3 1515.4L1998.2 1510.6L1994 1506L1989.8 1501.4L1985.6 1496.9L1981.4 1492.4L1977.2 1488L1973 1483.6L1968.8 1479.2L1964.7 1474.9L1960.5 1470.7L1956.4 1466.4L1952.3 1462.2L1948.2 1458L1944.2 1453.9L1940.1 1449.8L1936.1 1445.7L1932 1441.6L1928 1437.6L1924 1433.5L1920 1429.5L1916.1 1425.5L1912.1 1421.5L1908.1 1417.6L1904.2 1413.6L1900.2 1409.6L1896.3 1405.7L1892.3 1401.7L1888.4 1397.8L1884.5 1393.9L1880.5 1390L1876.6 1386L1872.7 1382.1L1868.7 1378.2L1864.8 1374.2L1860.8 1370.3L1856.9 1366.4L1852.9 1362.4L1848.9 1358.5L1844.9 1354.5L1840.9 1350.5L1836.9 1346.5L1832.9 1342.6L1828.8 1338.5L1824.7 1334.5L1820.6 1330.5L1816.5 1326.4L1812.3 1322.4L1808.2 1318.3L1803.9 1314.2L1799.7 1310.1L1795.4 1305.9L1791.1 1301.8L1786.8 1297.6L1782.4 1293.5L1777.9 1289.3L1773.4 1285.1L1768.9 1280.9L1764.3 1276.7L1759.7 1272.5L1754.9 1268.4L1750.1 1264.2L1745.3 1260.1L1740.3 1256.1L1735.3 1252.1L1730.2 1248.3L1725 1244.5L1719.7 1240.9L1714.3 1237.4L1708.8 1234.1L1703.2 1230.9L1697.5 1228L1691.8 1225.2L1685.9 1222.7L1680 1220.3L1674 1218.1L1668 1216.1L1661.9 1214.3L1655.7 1212.6L1649.6 1211.1L1643.3 1209.7L1637.1 1208.5L1630.8 1207.4L1624.5 1206.5L1618.2 1205.6L1611.8 1204.9L1605.5 1204.4L1599.1 1203.9L1592.8 1203.6L1586.4 1203.4L1580 1203.4L1578 1203.4Z" fill="#0000ff"/>
</g>
<rect x="1576.6" y="1019.9" width="675.4" height="3.6" fill="#000"/>
<rect x="2246.4" y="1019.9" width="5.6" height="669.6" fill="#000"/>
<path d="M1576.6 1019.9H1583.1V1694.3H1576.6ZM1576.6 1688.5H2314.4V1694.3H1576.6ZM1608.9 1682.1H1611.9V1689.5H1608.9ZM1639.3 1682.1H1642.3V1689.5H1639.3ZM1669.7 1682.1H1672.7V1689.5H1669.7ZM1698.7 1672.5H1704.5V1689.5H1698.7ZM1730.5 1682.1H1733.5V1689.5H1730.5ZM1760.9 1682.1H1763.9V1689.5H1760.9ZM1791.3 1682.1H1794.3V1689.5H1791.3ZM1820.3 1672.5H1826.1V1689.5H1820.3ZM1852.1 1682.1H1855.1V1689.5H1852.1ZM1882.5 1682.1H1885.5V1689.5H1882.5ZM1912.9 1682.1H1915.9V1689.5H1912.9ZM1941.9 1672.5H1947.7V1689.5H1941.9ZM1973.7 1682.1H1976.7V1689.5H1973.7ZM2004.1 1682.1H2007.1V1689.5H2004.1ZM2034.5 1682.1H2037.5V1689.5H2034.5ZM2063.5 1672.5H2069.3V1689.5H2063.5ZM2095.3 1682.1H2098.3V1689.5H2095.3ZM2125.7 1682.1H2128.7V1689.5H2125.7ZM2156.1 1682.1H2159.1V1689.5H2156.1ZM2185.1 1672.5H2190.9V1689.5H2185.1ZM2216.9 1682.1H2219.9V1689.5H2216.9ZM2247.3 1682.1H2250.3V1689.5H2247.3ZM2277.7 1682.1H2280.7V1689.5H2277.7ZM2306.7 1672.5H2312.5V1689.5H2306.7ZM1582.1 1658.4H1589.1V1661H1582.1ZM1582.1 1628H1589.1V1630.6H1582.1ZM1582.1 1597.7H1589.1V1600.2H1582.1ZM1582.1 1565.8H1598.5V1571.3H1582.1ZM1582.1 1537H1589.1V1539.5H1582.1ZM1582.1 1506.6H1589.1V1509.2H1582.1ZM1582.1 1476.2H1589.1V1478.8H1582.1ZM1582.1 1444.5H1598.5V1450H1582.1ZM1582.1 1415.5H1589.1V1418.1H1582.1ZM1582.1 1385.2H1589.1V1387.8H1582.1ZM1582.1 1354.9H1589.1V1357.5H1582.1ZM1582.1 1323H1598.5V1328.5H1582.1ZM1582.1 1294.2H1589.1V1296.8H1582.1ZM1582.1 1263.8H1589.1V1266.4H1582.1ZM1582.1 1233.5H1589.1V1236H1582.1ZM1582.1 1201.7H1598.5V1207.2H1582.1ZM1582.1 1172.8H1589.1V1175.3H1582.1ZM1582.1 1142.4H1589.1V1145H1582.1ZM1582.1 1112H1589.1V1114.6H1582.1ZM1582.1 1080.2H1598.5V1085.8H1582.1ZM1582.1 1051.4H1589.1V1054H1582.1Z" fill="#000"/>
<clipPath id="clipf"><rect x="2811.5" y="1028.8" width="669" height="662.8"/></clipPath>
<g clip-path="url(#clipf)" shape-rendering="crispEdges">
<rect x="2809.5" y="1026.8" width="673" height="666.8" fill="#0064ff"/>
<path d="M2810.5 1692.5L3495.7 1692.5L3495.7 1676.4L3495.7 1676.4L3495.7 1661.4L3495.7 1661.4L3495.7 1646.3L3495.7 1646.3L3495.7 1631.2L3495.7 1631.2L3495.7 1616.2L3495.7 1616.2L3495.7 1601.1L3495.7 1601.1L3495.7 1586.1L3495.7 1586.1L3495.7 1571L3495.7 1571L3495.7 1555.9L3495.7 1555.9L3495.7 1540.9L3495.7 1540.9L3480.5 1525.8L3480.5 1525.8L3480.5 1510.8L3480.5 1510.8L3480.5 1495.7L3480.5 1495.7L3465.3 1480.6L3465.3 1480.6L3465.3 1465.6L3465.3 1465.6L3450.1 1450.5L3450.1 1450.5L3450.1 1435.4L3450.1 1435.4L3434.9 1420.4L3434.9 1420.4L3434.9 1405.3L3434.9 1405.3L3419.7 1390.2L3419.7 1390.2L3419.7 1375.2L3419.7 1375.2L3404.5 1360.1L3404.5 1360.1L3389.3 1345.1L3389.3 1345.1L3389.3 1330L3389.3 1330L3374.1 1314.9L3374.1 1314.9L3358.9 1299.9L3358.9 1299.9L3343.7 1284.8L3343.7 1284.8L3343.7 1269.8L3343.7 1269.8L3328.5 1254.7L3328.5 1254.7L3313.3 1239.6L3313.3 1239.6L3298.1 1224.6L3298.1 1224.6L3282.9 1209.5L3282.9 1209.5L3267.7 1194.4L3267.7 1194.4L3252.4 1179.4L3252.4 1179.4L3237.2 1164.3L3222 1164.3L3206.8 1149.2L3206.8 1149.2L3191.6 1134.2L3191.6 1134.2L3176.4 1119.1L3161.2 1119.1L3146 1104.1L3146 1104.1L3130.8 1089L3115.6 1089L3100.4 1073.9L3085.2 1073.9L3070 1058.9L3054.8 1058.9L3039.6 1043.8L3024.4 1043.8L3009.2 1028.8L2978.8 1028.8L2963.6 1013.7L2810.5 1013.7Z" fill="#00dcff"/>
</g>
<g clip-path="url(#clipf)">
<path d="M2809.5 1693.5L3438.2 1693.5L3438.2 1691.5L3438.1 1683.4L3437.9 1675.3L3437.6 1667.1L3437.2 1659L3436.6 1650.9L3435.9 1642.8L3435 1634.7L3434.1 1626.7L3433 1618.6L3431.8 1610.6L3430.5 1602.6L3429 1594.6L3427.4 1586.7L3425.7 1578.7L3423.9 1570.8L3422 1563L3419.9 1555.1L3417.8 1547.3L3415.5 1539.5L3413.1 1531.8L3410.6 1524.1L3408 1516.5L3405.3 1508.9L3402.4 1501.3L3399.5 1493.8L3396.5 1486.3L3393.3 1478.9L3390.1 1471.5L3386.8 1464.1L3383.3 1456.9L3379.8 1449.6L3376.2 1442.4L3372.5 1435.3L3368.7 1428.2L3364.8 1421.2L3360.9 1414.2L3356.8 1407.3L3352.7 1400.4L3348.5 1393.6L3344.2 1386.8L3339.8 1380.1L3335.4 1373.5L3330.9 1366.9L3326.3 1360.3L3321.6 1353.9L3316.9 1347.4L3312.1 1341L3307.2 1334.7L3302.3 1328.5L3297.3 1322.3L3292.2 1316.1L3287 1310L3281.8 1304L3276.6 1298L3271.3 1292.1L3265.9 1286.2L3260.4 1280.4L3254.9 1274.7L3249.3 1269L3243.7 1263.3L3238 1257.8L3232.3 1252.2L3226.5 1246.8L3220.6 1241.4L3214.7 1236.1L3208.7 1230.8L3202.7 1225.6L3196.6 1220.4L3190.4 1215.3L3184.2 1210.3L3178 1205.3L3171.6 1200.4L3165.3 1195.6L3158.8 1190.9L3152.3 1186.2L3145.8 1181.6L3139.2 1177L3132.5 1172.5L3125.8 1168.1L3119.1 1163.8L3112.2 1159.5L3105.3 1155.4L3098.4 1151.3L3091.4 1147.3L3084.4 1143.3L3077.3 1139.5L3070.1 1135.7L3062.9 1132.1L3055.7 1128.5L3048.4 1125L3041 1121.6L3033.6 1118.3L3026.2 1115.1L3018.7 1112L3011.1 1109L3003.5 1106.1L2995.9 1103.3L2988.2 1100.6L2980.5 1098L2972.7 1095.5L2964.9 1093.2L2957.1 1090.9L2949.2 1088.8L2941.3 1086.7L2933.3 1084.8L2925.3 1083L2917.3 1081.3L2909.3 1079.8L2901.2 1078.3L2893.2 1077L2885.1 1075.8L2876.9 1074.7L2868.8 1073.8L2860.6 1073L2852.5 1072.3L2844.3 1071.7L2836.1 1071.3L2827.9 1070.9L2819.7 1070.7L2811.5 1070.7L2809.5 1070.7Z" fill="#00ffd0"/>
<path d="M2809.5 1693.5L3434.8 1693.5L3434.8 1691.5L3434.7 1683.4L3434.5 1675.3L3434.2 1667.3L3433.7 1659.2L3433.2 1651.1L3432.4 1643.1L3431.6 1635.1L3430.6 1627L3429.5 1619L3428.3 1611.1L3426.9 1603.1L3425.5 1595.2L3423.9 1587.3L3422.1 1579.4L3420.3 1571.5L3418.3 1563.7L3416.2 1555.9L3414.1 1548.2L3411.7 1540.5L3409.3 1532.8L3406.8 1525.2L3404.1 1517.6L3401.4 1510.1L3398.5 1502.6L3395.6 1495.1L3392.5 1487.7L3389.3 1480.3L3386.1 1473L3382.7 1465.7L3379.2 1458.5L3375.7 1451.4L3372.1 1444.3L3368.3 1437.2L3364.5 1430.2L3360.6 1423.2L3356.6 1416.3L3352.6 1409.5L3348.4 1402.7L3344.2 1396L3339.9 1389.3L3335.5 1382.7L3331.1 1376.1L3326.6 1369.6L3322 1363.1L3317.3 1356.7L3312.6 1350.3L3307.8 1344L3302.9 1337.8L3298 1331.6L3293 1325.5L3288 1319.4L3282.9 1313.4L3277.7 1307.4L3272.5 1301.5L3267.2 1295.6L3261.8 1289.8L3256.4 1284.1L3250.9 1278.4L3245.4 1272.8L3239.8 1267.2L3234.2 1261.6L3228.5 1256.2L3222.8 1250.8L3217 1245.4L3211.1 1240.1L3205.2 1234.9L3199.2 1229.7L3193.2 1224.6L3187.1 1219.5L3181 1214.5L3174.8 1209.6L3168.5 1204.7L3162.2 1199.9L3155.9 1195.1L3149.5 1190.4L3143 1185.8L3136.5 1181.3L3129.9 1176.8L3123.3 1172.4L3116.6 1168L3109.8 1163.8L3103 1159.6L3096.2 1155.5L3089.3 1151.5L3082.3 1147.5L3075.3 1143.7L3068.2 1139.9L3061.1 1136.2L3053.9 1132.6L3046.7 1129.1L3039.4 1125.7L3032.1 1122.3L3024.7 1119.1L3017.2 1116L3009.8 1112.9L3002.2 1110L2994.7 1107.1L2987 1104.4L2979.4 1101.8L2971.7 1099.3L2963.9 1096.9L2956.2 1094.6L2948.3 1092.4L2940.5 1090.4L2932.6 1088.4L2924.7 1086.6L2916.7 1084.9L2908.7 1083.3L2900.7 1081.8L2892.7 1080.5L2884.6 1079.3L2876.6 1078.2L2868.5 1077.2L2860.4 1076.4L2852.2 1075.7L2844.1 1075.1L2836 1074.6L2827.8 1074.3L2819.7 1074.1L2811.5 1074.1L2809.5 1074.1Z" fill="#00ff66"/>
<path d="M2809.5 1693.5L3431.3 1693.5L3431.3 1691.5L3431.2 1683.5L3431 1675.4L3430.7 1667.4L3430.2 1659.4L3429.6 1651.4L3428.9 1643.4L3428.1 1635.4L3427.1 1627.4L3426 1619.4L3424.8 1611.5L3423.5 1603.6L3422 1595.7L3420.4 1587.8L3418.7 1580L3416.9 1572.2L3415 1564.4L3412.9 1556.7L3410.7 1549L3408.4 1541.3L3406 1533.7L3403.5 1526.1L3400.9 1518.6L3398.2 1511L3395.3 1503.6L3392.4 1496.2L3389.3 1488.8L3386.2 1481.5L3383 1474.2L3379.6 1467L3376.2 1459.8L3372.7 1452.7L3369.1 1445.6L3365.4 1438.5L3361.6 1431.6L3357.7 1424.7L3353.8 1417.8L3349.7 1411L3345.6 1404.2L3341.4 1397.5L3337.2 1390.9L3332.8 1384.3L3328.4 1377.7L3323.9 1371.2L3319.4 1364.8L3314.7 1358.4L3310 1352.1L3305.3 1345.8L3300.4 1339.6L3295.5 1333.4L3290.6 1327.3L3285.6 1321.3L3280.5 1315.3L3275.3 1309.3L3270.1 1303.5L3264.9 1297.6L3259.6 1291.9L3254.2 1286.1L3248.7 1280.5L3243.2 1274.9L3237.7 1269.3L3232.1 1263.8L3226.4 1258.4L3220.7 1253L3214.9 1247.6L3209.1 1242.4L3203.2 1237.2L3197.3 1232L3191.3 1226.9L3185.2 1221.9L3179.1 1216.9L3172.9 1212L3166.7 1207.2L3160.5 1202.4L3154.1 1197.6L3147.7 1193L3141.3 1188.4L3134.8 1183.9L3128.3 1179.4L3121.7 1175.1L3115 1170.8L3108.3 1166.5L3101.5 1162.4L3094.7 1158.3L3087.8 1154.3L3080.9 1150.4L3073.9 1146.6L3066.8 1142.8L3059.8 1139.1L3052.6 1135.6L3045.4 1132.1L3038.2 1128.7L3030.9 1125.4L3023.5 1122.2L3016.1 1119.1L3008.7 1116.1L3001.2 1113.1L2993.7 1110.3L2986.1 1107.6L2978.5 1105L2970.8 1102.5L2963.1 1100.2L2955.4 1097.9L2947.6 1095.7L2939.8 1093.7L2931.9 1091.8L2924 1090L2916.1 1088.3L2908.2 1086.7L2900.2 1085.3L2892.2 1083.9L2884.2 1082.7L2876.2 1081.6L2868.2 1080.7L2860.1 1079.9L2852 1079.2L2843.9 1078.6L2835.8 1078.1L2827.7 1077.8L2819.6 1077.6L2811.5 1077.6L2809.5 1077.6Z" fill="#00ff00"/>
<path d="M2809.5 1693.5L3428 1693.5L3428 1691.5L3428 1683.5L3427.8 1675.5L3427.5 1667.5L3427 1659.5L3426.4 1651.6L3425.8 1643.6L3424.9 1635.7L3424 1627.7L3422.9 1619.8L3421.7 1611.9L3420.4 1604L3419 1596.2L3417.4 1588.4L3415.7 1580.6L3413.9 1572.8L3412 1565L3410 1557.3L3407.9 1549.7L3405.6 1542L3403.2 1534.4L3400.8 1526.9L3398.2 1519.3L3395.5 1511.9L3392.7 1504.4L3389.8 1497L3386.8 1489.7L3383.7 1482.4L3380.5 1475.1L3377.3 1467.9L3373.9 1460.7L3370.4 1453.6L3366.8 1446.6L3363.2 1439.6L3359.5 1432.6L3355.6 1425.7L3351.7 1418.8L3347.7 1412L3343.7 1405.3L3339.5 1398.6L3335.3 1391.9L3331 1385.3L3326.6 1378.8L3322.1 1372.3L3317.6 1365.9L3313 1359.5L3308.4 1353.2L3303.6 1346.9L3298.8 1340.7L3294 1334.6L3289.1 1328.5L3284.1 1322.4L3279 1316.5L3273.9 1310.5L3268.7 1304.7L3263.5 1298.8L3258.2 1293.1L3252.8 1287.4L3247.4 1281.7L3241.9 1276.1L3236.4 1270.6L3230.8 1265.1L3225.2 1259.7L3219.5 1254.3L3213.7 1249L3207.9 1243.8L3202 1238.6L3196.1 1233.4L3190.1 1228.4L3184 1223.4L3177.9 1218.4L3171.8 1213.5L3165.6 1208.7L3159.3 1204L3153 1199.3L3146.6 1194.7L3140.2 1190.1L3133.7 1185.6L3127.2 1181.2L3120.6 1176.9L3113.9 1172.6L3107.2 1168.4L3100.4 1164.3L3093.6 1160.3L3086.8 1156.3L3079.8 1152.5L3072.9 1148.7L3065.8 1145L3058.8 1141.4L3051.6 1137.8L3044.4 1134.4L3037.2 1131L3029.9 1127.8L3022.6 1124.6L3015.2 1121.6L3007.8 1118.6L3000.4 1115.7L2992.8 1113L2985.3 1110.3L2977.7 1107.7L2970.1 1105.3L2962.4 1103L2954.7 1100.7L2946.9 1098.6L2939.1 1096.6L2931.3 1094.7L2923.5 1092.9L2915.6 1091.3L2907.7 1089.7L2899.8 1088.3L2891.8 1087L2883.9 1085.8L2875.9 1084.8L2867.9 1083.8L2859.8 1083L2851.8 1082.3L2843.8 1081.8L2835.7 1081.3L2827.6 1081L2819.6 1080.8L2811.5 1080.7L2809.5 1080.7Z" fill="#d8ff00"/>
<path d="M2809.5 1693.5L3425.5 1693.5L3425.5 1691.5L3425.4 1683.5L3425.2 1675.6L3424.9 1667.6L3424.5 1659.7L3423.9 1651.7L3423.2 1643.8L3422.4 1635.9L3421.5 1628L3420.4 1620.1L3419.2 1612.2L3417.9 1604.4L3416.5 1596.6L3415 1588.8L3413.3 1581L3411.5 1573.3L3409.6 1565.6L3407.6 1557.9L3405.5 1550.2L3403.3 1542.6L3401 1535L3398.5 1527.5L3396 1520L3393.3 1512.5L3390.5 1505.1L3387.7 1497.8L3384.7 1490.4L3381.6 1483.1L3378.5 1475.9L3375.2 1468.7L3371.9 1461.6L3368.4 1454.5L3364.9 1447.4L3361.3 1440.4L3357.5 1433.5L3353.7 1426.6L3349.9 1419.8L3345.9 1413L3341.9 1406.2L3337.7 1399.6L3333.5 1392.9L3329.3 1386.3L3324.9 1379.8L3320.5 1373.4L3316 1366.9L3311.4 1360.6L3306.8 1354.3L3302.1 1348L3297.3 1341.8L3292.5 1335.7L3287.6 1329.6L3282.6 1323.6L3277.6 1317.6L3272.5 1311.7L3267.3 1305.8L3262.1 1300L3256.8 1294.3L3251.5 1288.6L3246.1 1283L3240.6 1277.4L3235.1 1271.9L3229.5 1266.4L3223.9 1261L3218.2 1255.6L3212.5 1250.4L3206.7 1245.1L3200.8 1240L3194.9 1234.8L3188.9 1229.8L3182.9 1224.8L3176.8 1219.9L3170.7 1215L3164.5 1210.2L3158.2 1205.5L3151.9 1200.8L3145.5 1196.3L3139.1 1191.7L3132.6 1187.3L3126.1 1182.9L3119.5 1178.6L3112.9 1174.4L3106.2 1170.2L3099.5 1166.1L3092.7 1162.1L3085.8 1158.2L3078.9 1154.3L3071.9 1150.6L3064.9 1146.9L3057.9 1143.3L3050.8 1139.8L3043.6 1136.4L3036.4 1133.1L3029.1 1129.8L3021.8 1126.7L3014.5 1123.7L3007.1 1120.7L2999.6 1117.9L2992.2 1115.2L2984.6 1112.5L2977.1 1110L2969.4 1107.6L2961.8 1105.2L2954.1 1103L2946.4 1100.9L2938.6 1099L2930.9 1097.1L2923 1095.3L2915.2 1093.7L2907.3 1092.2L2899.4 1090.7L2891.5 1089.5L2883.6 1088.3L2875.6 1087.2L2867.6 1086.3L2859.6 1085.5L2851.6 1084.8L2843.6 1084.3L2835.6 1083.8L2827.6 1083.5L2819.5 1083.3L2811.5 1083.3L2809.5 1083.3Z" fill="#ff0000"/>
<path d="M2809.5 1693.5L3419.7 1693.5L3419.7 1691.5L3419.6 1683.6L3419.4 1675.7L3419.1 1667.9L3418.6 1660L3418.1 1652.1L3417.3 1644.3L3416.5 1636.4L3415.5 1628.6L3414.4 1620.8L3413.2 1613L3411.8 1605.3L3410.3 1597.5L3408.7 1589.8L3407 1582.2L3405.1 1574.5L3403.2 1566.9L3401.1 1559.3L3398.9 1551.8L3396.6 1544.3L3394.1 1536.8L3391.6 1529.4L3388.9 1522.1L3386.2 1514.7L3383.3 1507.4L3380.4 1500.2L3377.3 1493L3374.2 1485.9L3370.9 1478.8L3367.6 1471.7L3364.1 1464.7L3360.6 1457.8L3357 1450.9L3353.3 1444.1L3349.5 1437.3L3345.6 1430.6L3341.7 1423.9L3337.7 1417.3L3333.6 1410.7L3329.4 1404.2L3325.2 1397.7L3320.9 1391.3L3316.5 1384.9L3312 1378.6L3307.5 1372.4L3303 1366.2L3298.3 1360.1L3293.6 1354L3288.9 1347.9L3284 1341.9L3279.2 1336L3274.2 1330.1L3269.2 1324.3L3264.2 1318.5L3259.1 1312.8L3253.9 1307.1L3248.7 1301.5L3243.5 1295.9L3238.2 1290.4L3232.8 1284.9L3227.4 1279.5L3221.9 1274.2L3216.4 1268.8L3210.8 1263.6L3205.2 1258.4L3199.5 1253.2L3193.8 1248.1L3188 1243.1L3182.2 1238.1L3176.3 1233.1L3170.3 1228.2L3164.4 1223.4L3158.3 1218.6L3152.2 1213.9L3146.1 1209.2L3139.9 1204.7L3133.6 1200.1L3127.3 1195.6L3121 1191.2L3114.5 1186.9L3108.1 1182.6L3101.5 1178.4L3095 1174.3L3088.3 1170.2L3081.7 1166.3L3074.9 1162.4L3068.1 1158.5L3061.3 1154.8L3054.4 1151.1L3047.4 1147.5L3040.4 1144L3033.3 1140.6L3026.2 1137.3L3019.1 1134.1L3011.9 1131L3004.6 1128L2997.3 1125L2989.9 1122.2L2982.5 1119.5L2975.1 1116.8L2967.6 1114.3L2960.1 1111.9L2952.5 1109.6L2944.9 1107.5L2937.3 1105.4L2929.6 1103.4L2921.9 1101.6L2914.1 1099.9L2906.3 1098.3L2898.5 1096.8L2890.7 1095.5L2882.9 1094.3L2875 1093.2L2867.1 1092.2L2859.2 1091.3L2851.3 1090.6L2843.3 1090L2835.4 1089.6L2827.4 1089.3L2819.5 1089.1L2811.5 1089L2809.5 1089Z" fill="#ff6600"/>
<path d="M2809.5 1693.5L3414.5 1693.5L3414.5 1691.5L3414.5 1683.7L3414.3 1675.9L3413.9 1668.1L3413.5 1660.2L3412.9 1652.5L3412.2 1644.7L3411.3 1636.9L3410.4 1629.1L3409.3 1621.4L3408.1 1613.7L3406.7 1606L3405.2 1598.3L3403.6 1590.7L3401.9 1583.1L3400.1 1575.5L3398.2 1568L3396.1 1560.5L3393.9 1553L3391.6 1545.6L3389.2 1538.2L3386.7 1530.8L3384.1 1523.5L3381.3 1516.2L3378.5 1509L3375.6 1501.8L3372.6 1494.7L3369.4 1487.6L3366.2 1480.6L3362.9 1473.6L3359.5 1466.6L3356 1459.8L3352.4 1452.9L3348.8 1446.1L3345 1439.4L3341.2 1432.7L3337.3 1426.1L3333.3 1419.5L3329.2 1413L3325.1 1406.6L3320.9 1400.2L3316.6 1393.8L3312.3 1387.5L3307.9 1381.2L3303.4 1375L3298.9 1368.9L3294.3 1362.8L3289.6 1356.8L3284.9 1350.8L3280.1 1344.8L3275.3 1339L3270.4 1333.1L3265.4 1327.3L3260.4 1321.6L3255.4 1315.9L3250.3 1310.3L3245.1 1304.7L3239.9 1299.2L3234.6 1293.7L3229.3 1288.3L3223.9 1282.9L3218.5 1277.6L3213 1272.3L3207.5 1267.1L3201.9 1262L3196.3 1256.8L3190.6 1251.8L3184.9 1246.8L3179.1 1241.8L3173.3 1236.9L3167.4 1232.1L3161.4 1227.3L3155.4 1222.5L3149.4 1217.9L3143.3 1213.2L3137.2 1208.7L3130.9 1204.2L3124.7 1199.8L3118.4 1195.4L3112 1191.1L3105.6 1186.9L3099.1 1182.7L3092.6 1178.6L3086 1174.6L3079.4 1170.7L3072.7 1166.8L3066 1163L3059.2 1159.3L3052.3 1155.6L3045.4 1152.1L3038.5 1148.6L3031.5 1145.3L3024.4 1142L3017.3 1138.8L3010.2 1135.7L3003 1132.7L2995.7 1129.8L2988.4 1127L2981.1 1124.3L2973.7 1121.7L2966.3 1119.2L2958.8 1116.8L2951.3 1114.6L2943.8 1112.4L2936.2 1110.3L2928.6 1108.4L2920.9 1106.6L2913.2 1104.9L2905.5 1103.3L2897.8 1101.9L2890 1100.5L2882.3 1099.3L2874.4 1098.2L2866.6 1097.3L2858.8 1096.4L2850.9 1095.7L2843 1095.2L2835.2 1094.7L2827.3 1094.4L2819.4 1094.2L2811.5 1094.1L2809.5 1094.1Z" fill="#ffcc00"/>
<path d="M2809.5 1693.5L3409.5 1693.5L3409.5 1691.5L3409.4 1683.7L3409.2 1676L3408.9 1668.2L3408.4 1660.5L3407.9 1652.8L3407.2 1645.1L3406.3 1637.4L3405.4 1629.7L3404.3 1622L3403.1 1614.3L3401.7 1606.7L3400.3 1599.1L3398.7 1591.5L3397 1584L3395.2 1576.5L3393.2 1569L3391.2 1561.6L3389 1554.1L3386.8 1546.8L3384.4 1539.4L3381.9 1532.1L3379.3 1524.9L3376.6 1517.7L3373.8 1510.5L3370.9 1503.4L3367.9 1496.3L3364.8 1489.3L3361.6 1482.3L3358.3 1475.4L3354.9 1468.5L3351.5 1461.7L3347.9 1454.9L3344.3 1448.2L3340.6 1441.5L3336.8 1434.9L3332.9 1428.3L3328.9 1421.8L3324.9 1415.4L3320.8 1408.9L3316.6 1402.6L3312.4 1396.3L3308.1 1390L3303.7 1383.8L3299.3 1377.7L3294.8 1371.6L3290.2 1365.6L3285.6 1359.6L3280.9 1353.6L3276.2 1347.7L3271.4 1341.9L3266.6 1336.1L3261.7 1330.4L3256.7 1324.7L3251.7 1319.1L3246.6 1313.5L3241.5 1308L3236.3 1302.5L3231.1 1297.1L3225.8 1291.7L3220.5 1286.3L3215.1 1281.1L3209.7 1275.8L3204.2 1270.7L3198.7 1265.5L3193.1 1260.5L3187.5 1255.4L3181.8 1250.5L3176 1245.6L3170.2 1240.7L3164.4 1235.9L3158.5 1231.1L3152.6 1226.5L3146.6 1221.8L3140.5 1217.2L3134.4 1212.7L3128.3 1208.3L3122.1 1203.9L3115.8 1199.5L3109.5 1195.3L3103.1 1191.1L3096.7 1187L3090.3 1182.9L3083.7 1178.9L3077.2 1175L3070.5 1171.2L3063.8 1167.4L3057.1 1163.7L3050.3 1160.1L3043.5 1156.6L3036.6 1153.2L3029.6 1149.8L3022.7 1146.6L3015.6 1143.4L3008.5 1140.3L3001.4 1137.4L2994.2 1134.5L2987 1131.7L2979.7 1129L2972.4 1126.5L2965 1124L2957.6 1121.6L2950.2 1119.4L2942.7 1117.2L2935.2 1115.2L2927.6 1113.3L2920 1111.5L2912.4 1109.8L2904.8 1108.2L2897.1 1106.8L2889.4 1105.5L2881.7 1104.3L2873.9 1103.2L2866.2 1102.2L2858.4 1101.4L2850.6 1100.7L2842.8 1100.1L2835 1099.7L2827.2 1099.4L2819.3 1099.2L2811.5 1099.1L2809.5 1099.1Z" fill="#d8ff00"/>
<path d="M2809.5 1693.5L3404.5 1693.5L3404.5 1691.5L3404.4 1683.8L3404.2 1676.1L3403.9 1668.4L3403.4 1660.8L3402.8 1653.1L3402.1 1645.5L3401.2 1637.8L3400.3 1630.2L3399.1 1622.6L3397.9 1615L3396.5 1607.5L3395 1599.9L3393.4 1592.4L3391.6 1585L3389.8 1577.6L3387.8 1570.2L3385.7 1562.8L3383.5 1555.5L3381.1 1548.2L3378.7 1540.9L3376.2 1533.7L3373.5 1526.6L3370.7 1519.5L3367.9 1512.4L3364.9 1505.4L3361.9 1498.4L3358.7 1491.5L3355.4 1484.7L3352.1 1477.8L3348.7 1471.1L3345.2 1464.4L3341.6 1457.7L3337.9 1451.1L3334.1 1444.6L3330.3 1438.1L3326.4 1431.6L3322.4 1425.2L3318.3 1418.9L3314.2 1412.6L3310 1406.4L3305.8 1400.2L3301.5 1394.1L3297.1 1388L3292.7 1382L3288.2 1376L3283.6 1370.1L3279 1364.2L3274.3 1358.4L3269.6 1352.6L3264.8 1346.9L3260 1341.2L3255.2 1335.6L3250.2 1330L3245.3 1324.5L3240.3 1319L3235.2 1313.6L3230.1 1308.2L3224.9 1302.9L3219.7 1297.6L3214.5 1292.3L3209.2 1287.1L3203.8 1281.9L3198.4 1276.8L3193 1271.8L3187.5 1266.8L3182 1261.8L3176.4 1256.9L3170.8 1252L3165.1 1247.2L3159.4 1242.4L3153.6 1237.7L3147.8 1233L3141.9 1228.4L3136 1223.8L3130 1219.3L3124 1214.9L3117.9 1210.5L3111.8 1206.1L3105.6 1201.8L3099.3 1197.6L3093 1193.5L3086.7 1189.4L3080.3 1185.4L3073.8 1181.4L3067.3 1177.6L3060.8 1173.8L3054.2 1170L3047.5 1166.4L3040.8 1162.8L3034 1159.4L3027.2 1156L3020.3 1152.6L3013.4 1149.4L3006.4 1146.3L2999.4 1143.3L2992.3 1140.3L2985.1 1137.5L2978 1134.8L2970.8 1132.1L2963.5 1129.6L2956.2 1127.2L2948.8 1124.9L2941.4 1122.7L2934 1120.6L2926.5 1118.6L2919 1116.8L2911.5 1115.1L2903.9 1113.5L2896.3 1112L2888.7 1110.6L2881.1 1109.4L2873.4 1108.3L2865.7 1107.3L2858 1106.4L2850.3 1105.7L2842.5 1105.1L2834.8 1104.7L2827 1104.3L2819.3 1104.1L2811.5 1104.1L2809.5 1104.1Z" fill="#66ff00"/>
<path d="M2809.5 1693.5L3396 1693.5L3396 1691.5L3395.9 1683.9L3395.7 1676.3L3395.4 1668.8L3394.9 1661.2L3394.3 1653.7L3393.6 1646.1L3392.8 1638.6L3391.8 1631.1L3390.7 1623.6L3389.5 1616.1L3388.1 1608.7L3386.7 1601.3L3385.1 1593.9L3383.4 1586.5L3381.5 1579.2L3379.6 1571.9L3377.5 1564.6L3375.3 1557.4L3373 1550.2L3370.6 1543.1L3368.1 1536L3365.5 1528.9L3362.8 1521.9L3360 1515L3357.1 1508L3354.1 1501.2L3350.9 1494.4L3347.8 1487.6L3344.5 1480.9L3341.1 1474.2L3337.6 1467.6L3334.1 1461L3330.5 1454.5L3326.8 1448L3323 1441.6L3319.2 1435.3L3315.2 1429L3311.2 1422.7L3307.2 1416.5L3303.1 1410.4L3298.9 1404.3L3294.6 1398.2L3290.3 1392.2L3285.9 1386.3L3281.5 1380.4L3277 1374.6L3272.5 1368.8L3267.9 1363L3263.2 1357.3L3258.5 1351.7L3253.8 1346.1L3249 1340.5L3244.1 1335L3239.2 1329.6L3234.3 1324.2L3229.3 1318.8L3224.3 1313.5L3219.2 1308.2L3214.1 1303L3208.9 1297.8L3203.7 1292.7L3198.4 1287.6L3193.1 1282.6L3187.7 1277.6L3182.3 1272.7L3176.8 1267.8L3171.3 1262.9L3165.8 1258.1L3160.2 1253.4L3154.5 1248.6L3148.8 1244L3143.1 1239.4L3137.3 1234.8L3131.4 1230.3L3125.5 1225.9L3119.6 1221.5L3113.6 1217.2L3107.6 1212.9L3101.5 1208.7L3095.3 1204.5L3089.1 1200.5L3082.8 1196.4L3076.5 1192.5L3070.2 1188.6L3063.7 1184.8L3057.3 1181.1L3050.8 1177.4L3044.2 1173.8L3037.5 1170.3L3030.9 1166.9L3024.1 1163.5L3017.3 1160.3L3010.5 1157.1L3003.6 1154L2996.7 1151L2989.7 1148.2L2982.7 1145.4L2975.6 1142.7L2968.5 1140.1L2961.3 1137.6L2954.1 1135.2L2946.9 1133L2939.6 1130.8L2932.2 1128.8L2924.9 1126.8L2917.5 1125L2910.1 1123.3L2902.6 1121.7L2895.1 1120.3L2887.6 1118.9L2880.1 1117.7L2872.5 1116.6L2864.9 1115.7L2857.3 1114.8L2849.7 1114.1L2842.1 1113.5L2834.4 1113.1L2826.8 1112.8L2819.2 1112.6L2811.5 1112.5L2809.5 1112.5Z" fill="#00ff00"/>
<path d="M2809.5 1693.5L3385 1693.5L3385 1691.5L3385 1684.1L3384.8 1676.6L3384.5 1669.2L3384 1661.8L3383.4 1654.4L3382.7 1647L3381.9 1639.6L3381 1632.2L3379.9 1624.9L3378.7 1617.5L3377.4 1610.2L3376 1602.9L3374.4 1595.7L3372.7 1588.5L3371 1581.3L3369.1 1574.1L3367 1567L3364.9 1559.9L3362.7 1552.8L3360.3 1545.8L3357.9 1538.8L3355.4 1531.9L3352.7 1525L3350 1518.2L3347.1 1511.4L3344.2 1504.6L3341.2 1497.9L3338 1491.3L3334.8 1484.7L3331.5 1478.1L3328.2 1471.6L3324.7 1465.1L3321.2 1458.7L3317.6 1452.4L3313.9 1446.1L3310.1 1439.8L3306.3 1433.6L3302.4 1427.5L3298.4 1421.4L3294.4 1415.3L3290.3 1409.3L3286.1 1403.4L3281.9 1397.5L3277.6 1391.6L3273.3 1385.8L3268.9 1380.1L3264.4 1374.4L3259.9 1368.8L3255.4 1363.2L3250.8 1357.6L3246.1 1352.1L3241.4 1346.6L3236.6 1341.2L3231.8 1335.9L3227 1330.6L3222.1 1325.3L3217.1 1320.1L3212.1 1314.9L3207.1 1309.7L3202 1304.7L3196.9 1299.6L3191.7 1294.6L3186.5 1289.7L3181.2 1284.8L3175.9 1279.9L3170.5 1275.1L3165.1 1270.4L3159.6 1265.6L3154.1 1261L3148.6 1256.4L3142.9 1251.8L3137.3 1247.3L3131.6 1242.8L3125.8 1238.4L3120 1234.1L3114.2 1229.8L3108.3 1225.5L3102.3 1221.3L3096.3 1217.2L3090.3 1213.2L3084.2 1209.2L3078 1205.2L3071.8 1201.4L3065.6 1197.6L3059.2 1193.8L3052.9 1190.2L3046.5 1186.6L3040 1183.1L3033.5 1179.7L3026.9 1176.3L3020.3 1173.1L3013.6 1169.9L3006.9 1166.8L3000.1 1163.8L2993.3 1160.9L2986.5 1158.1L2979.6 1155.4L2972.6 1152.7L2965.6 1150.2L2958.6 1147.8L2951.5 1145.5L2944.4 1143.3L2937.2 1141.2L2930 1139.2L2922.8 1137.3L2915.5 1135.5L2908.2 1133.9L2900.9 1132.3L2893.6 1130.9L2886.2 1129.6L2878.8 1128.4L2871.4 1127.4L2863.9 1126.4L2856.5 1125.6L2849 1124.9L2841.5 1124.4L2834 1123.9L2826.5 1123.6L2819 1123.4L2811.5 1123.3L2809.5 1123.3Z" fill="#00ff66"/>
<path d="M2809.5 1693.5L3376.6 1693.5L3376.6 1691.5L3376.5 1684.2L3376.3 1676.8L3376 1669.5L3375.5 1662.2L3374.9 1654.9L3374.2 1647.6L3373.3 1640.4L3372.4 1633.1L3371.2 1625.9L3370 1618.7L3368.6 1611.5L3367.1 1604.3L3365.5 1597.2L3363.8 1590.1L3362 1583L3360 1576L3357.9 1569L3355.7 1562.1L3353.4 1555.2L3351 1548.3L3348.5 1541.5L3345.9 1534.7L3343.1 1528L3340.3 1521.3L3337.4 1514.7L3334.4 1508.1L3331.3 1501.5L3328.1 1495.1L3324.8 1488.6L3321.5 1482.2L3318 1475.9L3314.5 1469.6L3310.9 1463.4L3307.2 1457.3L3303.5 1451.1L3299.7 1445.1L3295.8 1439.1L3291.9 1433.1L3287.9 1427.2L3283.8 1421.3L3279.7 1415.5L3275.6 1409.8L3271.3 1404.1L3267.1 1398.4L3262.7 1392.8L3258.4 1387.3L3253.9 1381.7L3249.5 1376.3L3245 1370.9L3240.4 1365.5L3235.8 1360.1L3231.2 1354.9L3226.5 1349.6L3221.7 1344.4L3217 1339.2L3212.2 1334.1L3207.3 1329L3202.4 1324L3197.5 1319L3192.5 1314L3187.5 1309.1L3182.5 1304.2L3177.4 1299.4L3172.3 1294.6L3167.1 1289.8L3161.9 1285.1L3156.6 1280.4L3151.3 1275.8L3146 1271.2L3140.6 1266.6L3135.2 1262.1L3129.7 1257.6L3124.2 1253.2L3118.6 1248.8L3113 1244.5L3107.3 1240.2L3101.6 1236L3095.9 1231.8L3090.1 1227.7L3084.2 1223.6L3078.3 1219.6L3072.3 1215.6L3066.3 1211.7L3060.3 1207.9L3054.1 1204.1L3048 1200.4L3041.7 1196.8L3035.4 1193.2L3029.1 1189.7L3022.7 1186.3L3016.3 1183L3009.8 1179.8L3003.3 1176.6L2996.7 1173.5L2990 1170.5L2983.3 1167.6L2976.6 1164.9L2969.8 1162.2L2962.9 1159.6L2956.1 1157.1L2949.1 1154.7L2942.2 1152.4L2935.1 1150.2L2928.1 1148.2L2921 1146.2L2913.9 1144.4L2906.7 1142.7L2899.5 1141.1L2892.3 1139.6L2885 1138.2L2877.7 1137L2870.4 1135.9L2863.1 1134.9L2855.8 1134.1L2848.4 1133.4L2841.1 1132.8L2833.7 1132.3L2826.3 1132L2818.9 1131.8L2811.5 1131.7L2809.5 1131.7Z" fill="#00ffd0"/>
<path d="M2809.5 1693.5L3360.6 1693.5L3360.6 1691.5L3360.5 1684.4L3360.3 1677.3L3360 1670.2L3359.5 1663L3358.9 1656L3358.2 1648.9L3357.3 1641.8L3356.4 1634.8L3355.2 1627.7L3354 1620.7L3352.6 1613.8L3351.1 1606.8L3349.5 1599.9L3347.8 1593L3345.9 1586.2L3344 1579.4L3341.9 1572.6L3339.7 1565.9L3337.4 1559.2L3335 1552.5L3332.5 1545.9L3329.9 1539.4L3327.2 1532.9L3324.4 1526.4L3321.5 1520L3318.5 1513.7L3315.4 1507.4L3312.2 1501.1L3309 1494.9L3305.6 1488.7L3302.2 1482.6L3298.8 1476.6L3295.2 1470.6L3291.6 1464.7L3287.9 1458.8L3284.1 1452.9L3280.3 1447.2L3276.4 1441.4L3272.5 1435.7L3268.5 1430.1L3264.5 1424.5L3260.4 1419L3256.3 1413.5L3252.1 1408.1L3247.8 1402.7L3243.6 1397.3L3239.2 1392L3234.9 1386.8L3230.5 1381.6L3226 1376.4L3221.6 1371.3L3217.1 1366.2L3212.5 1361.1L3207.9 1356.1L3203.3 1351.1L3198.6 1346.2L3193.9 1341.3L3189.2 1336.4L3184.4 1331.6L3179.6 1326.8L3174.8 1322.1L3169.9 1317.3L3165 1312.7L3160.1 1308L3155.1 1303.4L3150.1 1298.8L3145 1294.3L3139.9 1289.7L3134.8 1285.3L3129.6 1280.8L3124.4 1276.4L3119.1 1272.1L3113.8 1267.8L3108.5 1263.5L3103.1 1259.2L3097.6 1255.1L3092.1 1250.9L3086.6 1246.8L3081 1242.8L3075.4 1238.8L3069.7 1234.8L3063.9 1230.9L3058.2 1227.1L3052.3 1223.3L3046.4 1219.6L3040.5 1215.9L3034.5 1212.3L3028.4 1208.8L3022.3 1205.4L3016.2 1202L3010 1198.7L3003.7 1195.5L2997.4 1192.3L2991 1189.3L2984.6 1186.3L2978.1 1183.5L2971.6 1180.7L2965 1178L2958.4 1175.4L2951.8 1172.9L2945.1 1170.5L2938.3 1168.2L2931.5 1166.1L2924.7 1164L2917.8 1162.1L2910.9 1160.2L2903.9 1158.5L2897 1156.9L2890 1155.4L2882.9 1154.1L2875.9 1152.9L2868.8 1151.8L2861.7 1150.8L2854.5 1149.9L2847.4 1149.2L2840.2 1148.6L2833.1 1148.2L2825.9 1147.8L2818.7 1147.6L2811.5 1147.6L2809.5 1147.6Z" fill="#00dcff"/>
<path d="M2809.5 1693.5L3337 1693.5L3337 1691.5L3336.9 1684.7L3336.7 1677.9L3336.4 1671.1L3335.9 1664.3L3335.3 1657.5L3334.5 1650.7L3333.7 1644L3332.7 1637.2L3331.5 1630.5L3330.3 1623.8L3328.9 1617.2L3327.4 1610.6L3325.7 1604L3324 1597.4L3322.1 1590.9L3320.1 1584.4L3318 1578L3315.8 1571.6L3313.4 1565.2L3311 1558.9L3308.5 1552.7L3305.8 1546.4L3303.1 1540.3L3300.3 1534.2L3297.4 1528.1L3294.4 1522.1L3291.3 1516.2L3288.1 1510.3L3284.9 1504.4L3281.5 1498.6L3278.1 1492.9L3274.7 1487.2L3271.2 1481.6L3267.6 1476L3263.9 1470.5L3260.2 1465L3256.4 1459.6L3252.6 1454.2L3248.8 1448.9L3244.9 1443.6L3240.9 1438.4L3236.9 1433.3L3232.9 1428.1L3228.8 1423L3224.7 1418L3220.5 1413L3216.4 1408.1L3212.1 1403.1L3207.9 1398.3L3203.6 1393.4L3199.3 1388.6L3195 1383.9L3190.7 1379.1L3186.3 1374.4L3181.9 1369.7L3177.4 1365.1L3173 1360.5L3168.5 1355.9L3164 1351.4L3159.4 1346.8L3154.9 1342.3L3150.3 1337.9L3145.6 1333.4L3141 1329L3136.3 1324.6L3131.6 1320.2L3126.8 1315.9L3122.1 1311.6L3117.2 1307.3L3112.4 1303L3107.5 1298.8L3102.6 1294.6L3097.6 1290.4L3092.6 1286.3L3087.6 1282.2L3082.5 1278.1L3077.4 1274.1L3072.2 1270.1L3067 1266.1L3061.7 1262.2L3056.4 1258.3L3051 1254.5L3045.6 1250.7L3040.1 1247L3034.6 1243.3L3029 1239.7L3023.4 1236.2L3017.7 1232.7L3012 1229.2L3006.2 1225.9L3000.3 1222.6L2994.4 1219.4L2988.5 1216.2L2982.5 1213.2L2976.4 1210.2L2970.3 1207.3L2964.1 1204.5L2957.9 1201.8L2951.7 1199.2L2945.3 1196.7L2939 1194.3L2932.6 1192L2926.1 1189.8L2919.6 1187.7L2913.1 1185.7L2906.5 1183.8L2899.9 1182.1L2893.2 1180.5L2886.5 1179L2879.8 1177.6L2873 1176.3L2866.3 1175.2L2859.5 1174.2L2852.7 1173.4L2845.8 1172.6L2839 1172L2832.1 1171.5L2825.3 1171.2L2818.4 1171L2811.5 1170.9L2809.5 1170.9Z" fill="#0064ff"/>
<path d="M2809.5 1693.5L3294.8 1693.5L3294.8 1691.5L3294.8 1685.2L3294.5 1679L3294.2 1672.7L3293.7 1666.5L3293 1660.2L3292.2 1654L3291.3 1647.8L3290.2 1641.7L3289 1635.5L3287.7 1629.4L3286.2 1623.3L3284.6 1617.3L3282.9 1611.3L3281 1605.3L3279 1599.4L3276.9 1593.5L3274.7 1587.7L3272.4 1581.9L3269.9 1576.2L3267.4 1570.5L3264.8 1564.9L3262 1559.3L3259.2 1553.8L3256.3 1548.3L3253.2 1543L3250.2 1537.6L3247 1532.3L3243.7 1527.1L3240.4 1522L3237.1 1516.9L3233.6 1511.8L3230.1 1506.9L3226.6 1501.9L3223 1497.1L3219.3 1492.3L3215.7 1487.5L3211.9 1482.8L3208.2 1478.1L3204.4 1473.5L3200.6 1469L3196.7 1464.5L3192.9 1460L3189 1455.6L3185.1 1451.2L3181.1 1446.8L3177.2 1442.5L3173.2 1438.2L3169.3 1434L3165.3 1429.8L3161.3 1425.6L3157.3 1421.4L3153.3 1417.3L3149.3 1413.2L3145.3 1409.1L3141.3 1405L3137.3 1400.9L3133.3 1396.8L3129.2 1392.8L3125.2 1388.8L3121.1 1384.8L3117.1 1380.7L3113 1376.7L3108.9 1372.7L3104.8 1368.8L3100.7 1364.8L3096.6 1360.8L3092.5 1356.8L3088.3 1352.9L3084.1 1348.9L3079.9 1345L3075.7 1341L3071.4 1337.1L3067.2 1333.1L3062.8 1329.2L3058.5 1325.3L3054.1 1321.4L3049.7 1317.6L3045.2 1313.7L3040.7 1309.9L3036.1 1306.1L3031.5 1302.3L3026.9 1298.5L3022.2 1294.8L3017.4 1291.1L3012.6 1287.5L3007.8 1283.9L3002.9 1280.3L2997.9 1276.8L2992.9 1273.3L2987.8 1269.9L2982.6 1266.6L2977.4 1263.3L2972.2 1260.1L2966.8 1257L2961.5 1253.9L2956 1250.9L2950.5 1248L2944.9 1245.2L2939.3 1242.5L2933.7 1239.9L2927.9 1237.4L2922.1 1234.9L2916.3 1232.6L2910.4 1230.4L2904.5 1228.4L2898.5 1226.4L2892.5 1224.6L2886.4 1222.8L2880.3 1221.2L2874.2 1219.8L2868 1218.4L2861.8 1217.3L2855.6 1216.2L2849.3 1215.3L2843.1 1214.5L2836.8 1213.8L2830.5 1213.3L2824.1 1213L2817.8 1212.8L2811.5 1212.7L2809.5 1212.7Z" fill="#0000ff"/>
</g>
<rect x="2808.5" y="1027" width="675.2" height="3.9" fill="#ee0000"/>
<rect x="3478.1" y="1027" width="5.6" height="663.8" fill="#ee0000"/>
<path d="M2808.5 1026.2H2815.1V1694.3H2808.5ZM2808.5 1689.8H3546.6V1694.3H2808.5ZM2840.4 1683.4H2843.4V1690.8H2840.4ZM2870.8 1683.4H2873.8V1690.8H2870.8ZM2901.2 1683.4H2904.2V1690.8H2901.2ZM2930.2 1674.8H2936V1690.8H2930.2ZM2962.1 1683.4H2965.1V1690.8H2962.1ZM2992.5 1683.4H2995.5V1690.8H2992.5ZM3022.9 1683.4H3025.9V1690.8H3022.9ZM3051.9 1674.8H3057.7V1690.8H3051.9ZM3083.7 1683.4H3086.7V1690.8H3083.7ZM3114.1 1683.4H3117.1V1690.8H3114.1ZM3144.5 1683.4H3147.5V1690.8H3144.5ZM3173.5 1674.8H3179.3V1690.8H3173.5ZM3205.3 1683.4H3208.3V1690.8H3205.3ZM3235.7 1683.4H3238.7V1690.8H3235.7ZM3266.2 1683.4H3269.2V1690.8H3266.2ZM3295.2 1674.8H3301V1690.8H3295.2ZM3327 1683.4H3330V1690.8H3327ZM3357.4 1683.4H3360.4V1690.8H3357.4ZM3387.8 1683.4H3390.8V1690.8H3387.8ZM3416.8 1674.8H3422.6V1690.8H3416.8ZM3448.6 1683.4H3451.6V1690.8H3448.6ZM3479 1683.4H3482V1690.8H3479ZM3509.4 1683.4H3512.4V1690.8H3509.4ZM3538.4 1674.8H3544.2V1690.8H3538.4ZM2814.1 1660.1H2821.1V1662.7H2814.1ZM2814.1 1630H2821.1V1632.5H2814.1ZM2814.1 1599.8H2821.1V1602.4H2814.1ZM2814.1 1568.2H2830.5V1573.8H2814.1ZM2814.1 1539.6H2821.1V1542.2H2814.1ZM2814.1 1509.5H2821.1V1512H2814.1ZM2814.1 1479.3H2821.1V1481.9H2814.1ZM2814.1 1447.8H2830.5V1453.2H2814.1ZM2814.1 1419.1H2821.1V1421.7H2814.1ZM2814.1 1389H2821.1V1391.5H2814.1ZM2814.1 1358.8H2821.1V1361.4H2814.1ZM2814.1 1327.2H2830.5V1332.8H2814.1ZM2814.1 1298.6H2821.1V1301.2H2814.1ZM2814.1 1268.5H2821.1V1271H2814.1ZM2814.1 1238.3H2821.1V1240.9H2814.1ZM2814.1 1206.8H2830.5V1212.2H2814.1ZM2814.1 1178.1H2821.1V1180.7H2814.1ZM2814.1 1148H2821.1V1150.5H2814.1ZM2814.1 1117.8H2821.1V1120.4H2814.1ZM2814.1 1086.2H2830.5V1091.8H2814.1ZM2814.1 1057.6H2821.1V1060.2H2814.1Z" fill="#000"/>
<text class="t" transform="translate(366.1 161.7) scale(1.02 1)" text-anchor="end">1.0</text>
<text class="t" transform="translate(366.1 286.9) scale(1.02 1)" text-anchor="end">0.8</text>
<text class="t" transform="translate(366.1 411.9) scale(1.02 1)" text-anchor="end">0.6</text>
<text class="t" transform="translate(366.1 537.1) scale(1.02 1)" text-anchor="end">0.4</text>
<text class="t" transform="translate(366.1 652.9) scale(1.02 1)" text-anchor="end">0.2</text>
<text class="t" transform="translate(366.1 777.8) scale(1.02 1)" text-anchor="end">0</text>
<text class="t" transform="translate(515.5 813.2) scale(1.02 1)" text-anchor="middle">0.2</text>
<text class="t" transform="translate(650.6 813.2) scale(1.02 1)" text-anchor="middle">0.4</text>
<text class="t" transform="translate(785.6 813.2) scale(1.02 1)" text-anchor="middle">0.6</text>
<text class="t" transform="translate(920.7 813.2) scale(1.02 1)" text-anchor="middle">0.8</text>
<text class="t" transform="translate(1055.7 813.2) scale(1.02 1)" text-anchor="middle">1.0</text>
<text class="t" transform="translate(1190.7 813.2) scale(1.02 1)" text-anchor="middle">1.2</text>
<text class="i" transform="translate(209.2 425.4) rotate(-90)" text-anchor="middle">y</text>
<text class="ix" transform="translate(781 875.3) scale(1.31 1)" text-anchor="middle">x</text>
<text class="c" x="473.3" y="959" textLength="618.5" lengthAdjust="spacingAndGlyphs">(a) Mesh of exact solver</text>
<text class="t" transform="translate(1589.6 159.8) scale(1.02 1)" text-anchor="end">1.0</text>
<text class="t" transform="translate(1589.6 285) scale(1.02 1)" text-anchor="end">0.8</text>
<text class="t" transform="translate(1589.6 410.2) scale(1.02 1)" text-anchor="end">0.6</text>
<text class="t" transform="translate(1589.6 535.2) scale(1.02 1)" text-anchor="end">0.4</text>
<text class="t" transform="translate(1589.6 651.6) scale(1.02 1)" text-anchor="end">0.2</text>
<text class="t" transform="translate(1589.6 776.6) scale(1.02 1)" text-anchor="end">0</text>
<text class="t" transform="translate(1738.7 813.2) scale(1.02 1)" text-anchor="middle">0.2</text>
<text class="t" transform="translate(1873.1 813.2) scale(1.02 1)" text-anchor="middle">0.4</text>
<text class="t" transform="translate(2007.5 813.2) scale(1.02 1)" text-anchor="middle">0.6</text>
<text class="t" transform="translate(2141.9 813.2) scale(1.02 1)" text-anchor="middle">0.8</text>
<text class="t" transform="translate(2276.3 813.2) scale(1.02 1)" text-anchor="middle">1.0</text>
<text class="t" transform="translate(2410.7 813.2) scale(1.02 1)" text-anchor="middle">1.2</text>
<text class="i" transform="translate(1431.2 413.5) rotate(-90)" text-anchor="middle">y</text>
<text class="ix" transform="translate(2011.8 875.2) scale(1.31 1)" text-anchor="middle">x</text>
<text class="c" x="1644.6" y="959" textLength="718.8" lengthAdjust="spacingAndGlyphs">(b) Mesh of MFCAV solver</text>
<text class="t" transform="translate(2779.6 147.1) scale(1.02 1)" text-anchor="end">1.0</text>
<text class="t" transform="translate(2779.6 272.2) scale(1.02 1)" text-anchor="end">0.8</text>
<text class="t" transform="translate(2779.6 397.4) scale(1.02 1)" text-anchor="end">0.6</text>
<text class="t" transform="translate(2779.6 522.2) scale(1.02 1)" text-anchor="end">0.4</text>
<text class="t" transform="translate(2779.6 651.8) scale(1.02 1)" text-anchor="end">0.2</text>
<text class="t" transform="translate(2779.6 783.1) scale(1.02 1)" text-anchor="end">0</text>
<text class="t" transform="translate(2931.7 813.2) scale(1.02 1)" text-anchor="middle">0.2</text>
<text class="t" transform="translate(3070.7 813.2) scale(1.02 1)" text-anchor="middle">0.4</text>
<text class="t" transform="translate(3209.8 813.2) scale(1.02 1)" text-anchor="middle">0.6</text>
<text class="t" transform="translate(3348.8 813.2) scale(1.02 1)" text-anchor="middle">0.8</text>
<text class="t" transform="translate(3487.9 813.2) scale(1.02 1)" text-anchor="middle">1.0</text>
<text class="t" transform="translate(3627 813.2) scale(1.02 1)" text-anchor="middle">1.2</text>
<text class="i" transform="translate(2630.1 416.4) rotate(-90)" text-anchor="middle">y</text>
<text class="ix" transform="translate(3215.7 875.2) scale(1.31 1)" text-anchor="middle">x</text>
<text class="c" x="2834.6" y="959" textLength="745.9" lengthAdjust="spacingAndGlyphs">(c) Mesh of Dukowicz solver</text>
<text class="t" transform="translate(362.6 1104.4) scale(1.02 1)" text-anchor="end">1.0</text>
<text class="t" transform="translate(362.6 1229.3) scale(1.02 1)" text-anchor="end">0.8</text>
<text class="t" transform="translate(362.6 1354.7) scale(1.02 1)" text-anchor="end">0.6</text>
<text class="t" transform="translate(362.6 1479.3) scale(1.02 1)" text-anchor="end">0.4</text>
<text class="t" transform="translate(362.6 1595.1) scale(1.02 1)" text-anchor="end">0.2</text>
<text class="t" transform="translate(362.6 1719.8) scale(1.02 1)" text-anchor="end">0</text>
<text class="t" transform="translate(495.7 1750.1) scale(1.02 1)" text-anchor="middle">0.2</text>
<text class="t" transform="translate(617.4 1750.1) scale(1.02 1)" text-anchor="middle">0.4</text>
<text class="t" transform="translate(739.1 1750.1) scale(1.02 1)" text-anchor="middle">0.6</text>
<text class="t" transform="translate(860.8 1750.1) scale(1.02 1)" text-anchor="middle">0.8</text>
<text class="t" transform="translate(982.5 1750.1) scale(1.02 1)" text-anchor="middle">1.0</text>
<text class="t" transform="translate(1104.2 1750.1) scale(1.02 1)" text-anchor="middle">1.2</text>
<text class="i" transform="translate(209.2 1350.4) rotate(-90)" text-anchor="middle">y</text>
<text class="ix" transform="translate(737.6 1801.2) scale(1.31 1)" text-anchor="middle">x</text>
<text class="c" x="404.4" y="1877.3" textLength="676.9" lengthAdjust="spacingAndGlyphs">(d) Density of exact solver</text>
<text class="t" transform="translate(1566.7 1101.2) scale(1.02 1)" text-anchor="end">1.0</text>
<text class="t" transform="translate(1566.7 1226.3) scale(1.02 1)" text-anchor="end">0.8</text>
<text class="t" transform="translate(1566.7 1351) scale(1.02 1)" text-anchor="end">0.6</text>
<text class="t" transform="translate(1566.7 1476.5) scale(1.02 1)" text-anchor="end">0.4</text>
<text class="t" transform="translate(1566.7 1592.3) scale(1.02 1)" text-anchor="end">0.2</text>
<text class="t" transform="translate(1566.7 1717.2) scale(1.02 1)" text-anchor="end">0</text>
<text class="t" transform="translate(1701.6 1750.1) scale(1.02 1)" text-anchor="middle">0.2</text>
<text class="t" transform="translate(1823.2 1750.1) scale(1.02 1)" text-anchor="middle">0.4</text>
<text class="t" transform="translate(1944.8 1750.1) scale(1.02 1)" text-anchor="middle">0.6</text>
<text class="t" transform="translate(2066.4 1750.1) scale(1.02 1)" text-anchor="middle">0.8</text>
<text class="t" transform="translate(2188 1750.1) scale(1.02 1)" text-anchor="middle">1.0</text>
<text class="t" transform="translate(2309.6 1750.1) scale(1.02 1)" text-anchor="middle">1.2</text>
<text class="i" transform="translate(1431.2 1338.5) rotate(-90)" text-anchor="middle">y</text>
<text class="ix" transform="translate(1954.9 1801.1) scale(1.31 1)" text-anchor="middle">x</text>
<text class="c" x="1569.1" y="1877.5" textLength="769.9" lengthAdjust="spacingAndGlyphs">(e) Density of MFCAV solver</text>
<text class="t" transform="translate(2796.9 1109.2) scale(1.02 1)" text-anchor="end">1.0</text>
<text class="t" transform="translate(2796.9 1231.5) scale(1.02 1)" text-anchor="end">0.8</text>
<text class="t" transform="translate(2796.9 1353.7) scale(1.02 1)" text-anchor="end">0.6</text>
<text class="t" transform="translate(2796.9 1476) scale(1.02 1)" text-anchor="end">0.4</text>
<text class="t" transform="translate(2796.9 1597.4) scale(1.02 1)" text-anchor="end">0.2</text>
<text class="t" transform="translate(2796.9 1722.1) scale(1.02 1)" text-anchor="end">0</text>
<text class="t" transform="translate(2933.1 1749.9) scale(1.02 1)" text-anchor="middle">0.2</text>
<text class="t" transform="translate(3054.8 1749.9) scale(1.02 1)" text-anchor="middle">0.4</text>
<text class="t" transform="translate(3176.4 1749.9) scale(1.02 1)" text-anchor="middle">0.6</text>
<text class="t" transform="translate(3298.1 1749.9) scale(1.02 1)" text-anchor="middle">0.8</text>
<text class="t" transform="translate(3419.7 1749.9) scale(1.02 1)" text-anchor="middle">1.0</text>
<text class="t" transform="translate(3541.3 1749.9) scale(1.02 1)" text-anchor="middle">1.2</text>
<text class="i" transform="translate(2630.1 1340.4) rotate(-90)" text-anchor="middle">y</text>
<text class="ix" transform="translate(3183.3 1801.1) scale(1.31 1)" text-anchor="middle">x</text>
<text class="c" x="2790.1" y="1877.3" textLength="790.2" lengthAdjust="spacingAndGlyphs">(f) Density of Dukowicz solver</text>
</svg></body></html>
